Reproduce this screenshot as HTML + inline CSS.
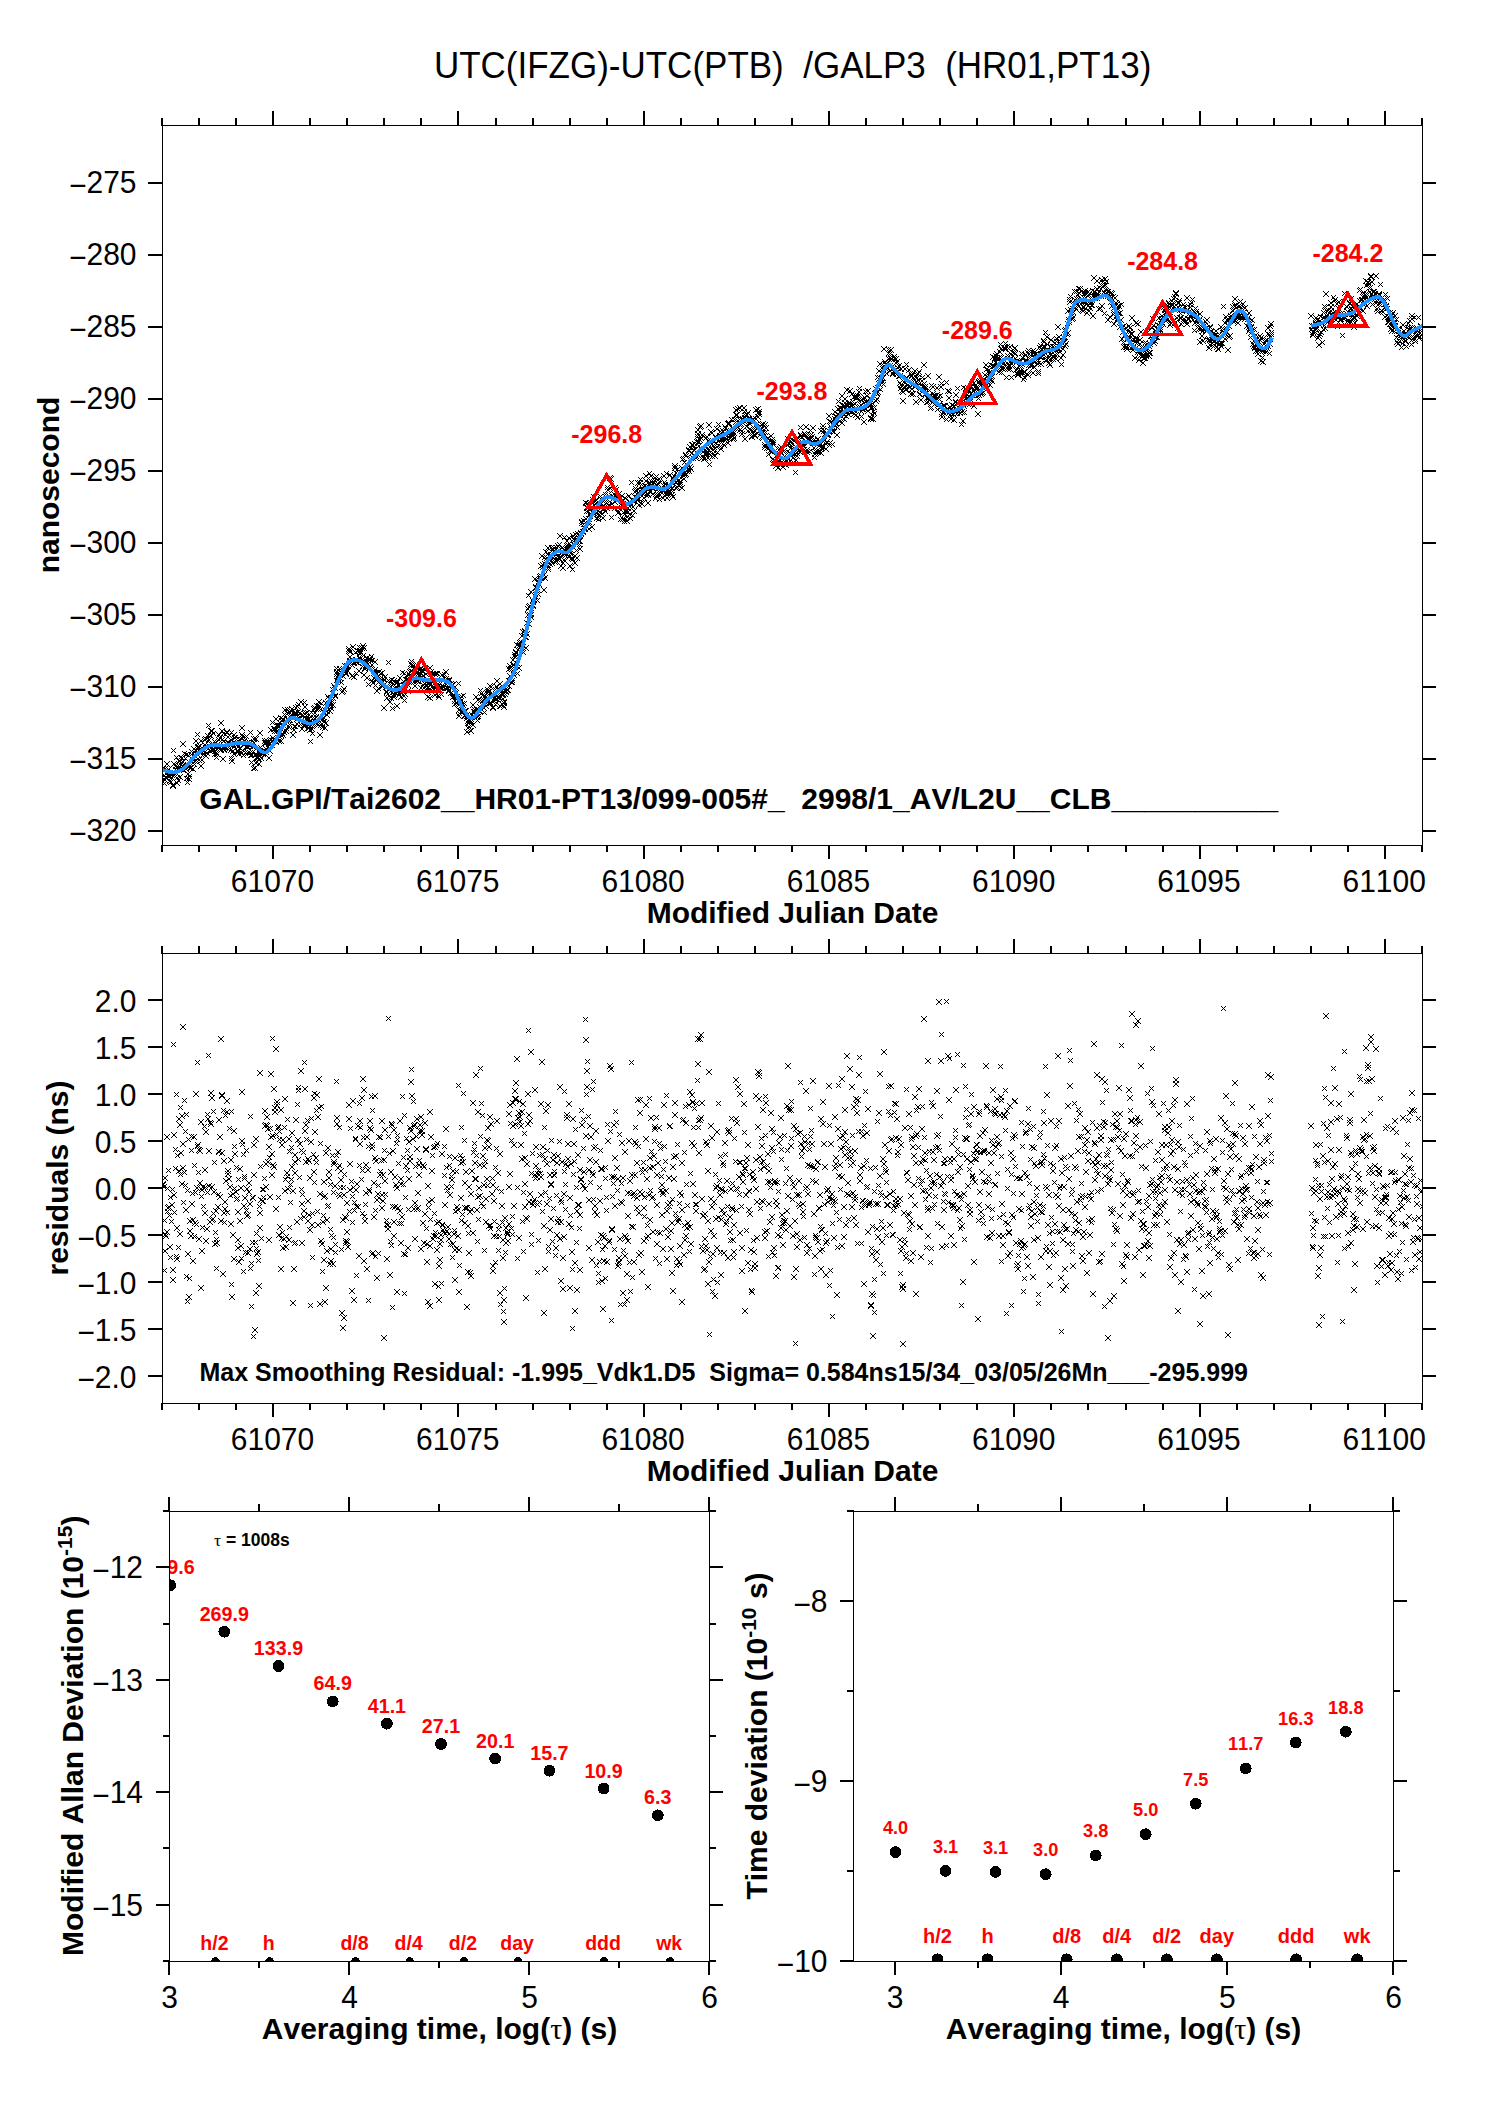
<!DOCTYPE html>
<html lang="en"><head><meta charset="utf-8"><title>UTC(IFZG)-UTC(PTB) /GALP3 (HR01,PT13)</title>
<style>html,body{margin:0;padding:0;background:#fff;overflow:hidden}svg{display:block}</style></head>
<body>
<svg width="1488" height="2105" viewBox="0 0 1488 2105" font-family="'Liberation Sans', Arial, Helvetica, sans-serif" fill="#000" style="font-kerning:none" font-kerning="none">
<defs>
<clipPath id="c1"><rect x="163" y="126" width="1259" height="719"/></clipPath>
<clipPath id="c2"><rect x="163" y="954" width="1259" height="449"/></clipPath>
<clipPath id="c3"><rect x="170" y="1512" width="539" height="449"/></clipPath>
<clipPath id="c4"><rect x="854" y="1512" width="539" height="449"/></clipPath>
</defs>
<rect width="1488" height="2105" fill="#fff"/>
<text transform="translate(792.6,77.8) scale(1,1.035)" font-size="35" text-anchor="middle" xml:space="preserve" style="white-space:pre">UTC(IFZG)-UTC(PTB)  /GALP3  (HR01,PT13)</text>
<path clip-path="url(#c1)" d="M160 766l6 6m-6 0l6-6M160 766l6 6m-6 0l6-6M161 767l6 6m-6 0l6-6M162 773l5 5m-5 0l5-5M162 781l5 5m-5 0l5-5M162 777l6 6m-6 0l6-6M162 766l6 6m-6 0l6-6M163 775l5 5m-5 0l5-5M163 775l6 6m-6 0l6-6M164 775l6 6m-6 0l6-6M165 769l5 5m-5 0l5-5M164 761l6 6m-6 0l6-6M165 773l5 5m-5 0l5-5M165 772l6 6m-6 0l6-6M166 767l5 5m-5 0l5-5M166 772l6 6m-6 0l6-6M167 774l5 5m-5 0l5-5M168 771l5 5m-5 0l5-5M167 778l6 6m-6 0l6-6M168 780l5 5m-5 0l5-5M169 775l5 5m-5 0l5-5M169 772l6 6m-6 0l6-6M170 770l5 5m-5 0l5-5M170 783l6 6m-6 0l6-6M170 782l6 6m-6 0l6-6M171 770l6 6m-6 0l6-6M171 748l5 5m-5 0l5-5M171 761l6 6m-6 0l6-6M172 773l5 5m-5 0l5-5M173 764l5 5m-5 0l5-5M173 767l5 5m-5 0l5-5M174 780l5 5m-5 0l5-5M174 780l6 6m-6 0l6-6M174 755l5 5m-5 0l5-5M174 775l6 6m-6 0l6-6M175 764l5 5m-5 0l5-5M176 778l5 5m-5 0l5-5M176 758l6 6m-6 0l6-6M176 765l6 6m-6 0l6-6M177 758l6 6m-6 0l6-6M178 766l5 5m-5 0l5-5M177 774l6 6m-6 0l6-6M178 755l5 5m-5 0l5-5M178 762l6 6m-6 0l6-6M179 766l6 6m-6 0l6-6M179 755l6 6m-6 0l6-6M180 741l6 6m-6 0l6-6M180 763l6 6m-6 0l6-6M180 759l6 6m-6 0l6-6M181 768l5 5m-5 0l5-5M182 763l5 5m-5 0l5-5M182 751l5 5m-5 0l5-5M183 756l5 5m-5 0l5-5M183 764l5 5m-5 0l5-5M184 752l5 5m-5 0l5-5M183 766l6 6m-6 0l6-6M184 776l5 5m-5 0l5-5M185 780l5 5m-5 0l5-5M185 762l5 5m-5 0l5-5M185 771l6 6m-6 0l6-6M186 753l5 5m-5 0l5-5M186 776l6 6m-6 0l6-6M187 774l5 5m-5 0l5-5M187 765l6 6m-6 0l6-6M187 763l6 6m-6 0l6-6M188 765l6 6m-6 0l6-6M189 752l5 5m-5 0l5-5M189 749l5 5m-5 0l5-5M189 759l6 6m-6 0l6-6M190 757l5 5m-5 0l5-5M190 766l6 6m-6 0l6-6M190 760l6 6m-6 0l6-6M191 746l6 6m-6 0l6-6M192 762l5 5m-5 0l5-5M192 750l5 5m-5 0l5-5M192 758l6 6m-6 0l6-6M193 754l5 5m-5 0l5-5M193 738l6 6m-6 0l6-6M194 758l5 5m-5 0l5-5M194 751l6 6m-6 0l6-6M195 745l5 5m-5 0l5-5M195 732l5 5m-5 0l5-5M195 744l6 6m-6 0l6-6M196 748l5 5m-5 0l5-5M196 744l6 6m-6 0l6-6M196 757l6 6m-6 0l6-6M197 743l6 6m-6 0l6-6M197 748l6 6m-6 0l6-6M198 738l6 6m-6 0l6-6M198 763l6 6m-6 0l6-6M199 749l5 5m-5 0l5-5M199 757l6 6m-6 0l6-6M199 747l6 6m-6 0l6-6M200 753l5 5m-5 0l5-5M200 746l6 6m-6 0l6-6M201 749l5 5m-5 0l5-5M202 737l5 5m-5 0l5-5M202 749l6 6m-6 0l6-6M202 742l6 6m-6 0l6-6M203 753l6 6m-6 0l6-6M203 745l5 5m-5 0l5-5M203 736l6 6m-6 0l6-6M204 750l6 6m-6 0l6-6M205 733l5 5m-5 0l5-5M205 745l5 5m-5 0l5-5M205 733l6 6m-6 0l6-6M206 737l6 6m-6 0l6-6M206 723l5 5m-5 0l5-5M206 743l6 6m-6 0l6-6M207 748l6 6m-6 0l6-6M208 733l5 5m-5 0l5-5M208 733l6 6m-6 0l6-6M208 728l6 6m-6 0l6-6M209 742l6 6m-6 0l6-6M209 728l6 6m-6 0l6-6M209 747l6 6m-6 0l6-6M210 747l6 6m-6 0l6-6M211 731l5 5m-5 0l5-5M211 746l5 5m-5 0l5-5M211 742l6 6m-6 0l6-6M212 739l5 5m-5 0l5-5M212 751l6 6m-6 0l6-6M213 749l5 5m-5 0l5-5M213 745l6 6m-6 0l6-6M214 755l5 5m-5 0l5-5M214 750l5 5m-5 0l5-5M214 751l6 6m-6 0l6-6M215 745l6 6m-6 0l6-6M216 737l5 5m-5 0l5-5M216 744l5 5m-5 0l5-5M216 737l6 6m-6 0l6-6M216 732l6 6m-6 0l6-6M217 735l6 6m-6 0l6-6M217 744l6 6m-6 0l6-6M218 747l6 6m-6 0l6-6M218 720l6 6m-6 0l6-6M219 737l6 6m-6 0l6-6M219 728l6 6m-6 0l6-6M219 728l6 6m-6 0l6-6M220 756l6 6m-6 0l6-6M221 731l5 5m-5 0l5-5M221 738l6 6m-6 0l6-6M221 746l6 6m-6 0l6-6M222 748l5 5m-5 0l5-5M222 744l6 6m-6 0l6-6M222 745l6 6m-6 0l6-6M223 732l5 5m-5 0l5-5M223 741l6 6m-6 0l6-6M224 729l6 6m-6 0l6-6M224 730l6 6m-6 0l6-6M225 746l5 5m-5 0l5-5M225 740l6 6m-6 0l6-6M225 739l6 6m-6 0l6-6M226 740l6 6m-6 0l6-6M227 733l5 5m-5 0l5-5M227 741l6 6m-6 0l6-6M228 743l5 5m-5 0l5-5M228 737l6 6m-6 0l6-6M228 747l6 6m-6 0l6-6M229 730l5 5m-5 0l5-5M229 756l5 5m-5 0l5-5M229 758l6 6m-6 0l6-6M230 742l6 6m-6 0l6-6M230 748l6 6m-6 0l6-6M231 732l6 6m-6 0l6-6M231 751l6 6m-6 0l6-6M232 741l5 5m-5 0l5-5M232 735l5 5m-5 0l5-5M232 735l6 6m-6 0l6-6M233 741l6 6m-6 0l6-6M234 743l5 5m-5 0l5-5M234 737l5 5m-5 0l5-5M235 742l5 5m-5 0l5-5M235 748l6 6m-6 0l6-6M235 749l6 6m-6 0l6-6M235 744l6 6m-6 0l6-6M236 739l5 5m-5 0l5-5M236 751l6 6m-6 0l6-6M237 737l6 6m-6 0l6-6M237 745l6 6m-6 0l6-6M238 749l6 6m-6 0l6-6M238 740l6 6m-6 0l6-6M239 751l5 5m-5 0l5-5M239 732l6 6m-6 0l6-6M239 725l6 6m-6 0l6-6M240 734l5 5m-5 0l5-5M241 753l5 5m-5 0l5-5M241 735l5 5m-5 0l5-5M241 742l6 6m-6 0l6-6M242 738l5 5m-5 0l5-5M242 739l5 5m-5 0l5-5M242 741l6 6m-6 0l6-6M243 750l5 5m-5 0l5-5M244 734l5 5m-5 0l5-5M244 744l5 5m-5 0l5-5M244 744l6 6m-6 0l6-6M244 740l6 6m-6 0l6-6M245 744l6 6m-6 0l6-6M245 750l6 6m-6 0l6-6M246 741l6 6m-6 0l6-6M246 739l6 6m-6 0l6-6M247 750l6 6m-6 0l6-6M248 753l5 5m-5 0l5-5M247 743l6 6m-6 0l6-6M248 730l5 5m-5 0l5-5M249 760l5 5m-5 0l5-5M249 753l5 5m-5 0l5-5M250 750l5 5m-5 0l5-5M250 744l5 5m-5 0l5-5M250 744l6 6m-6 0l6-6M251 740l6 6m-6 0l6-6M251 766l5 5m-5 0l5-5M251 736l6 6m-6 0l6-6M252 765l6 6m-6 0l6-6M253 752l5 5m-5 0l5-5M253 736l6 6m-6 0l6-6M253 760l6 6m-6 0l6-6M254 752l5 5m-5 0l5-5M254 755l5 5m-5 0l5-5M254 755l6 6m-6 0l6-6M255 755l6 6m-6 0l6-6M256 757l5 5m-5 0l5-5M256 761l6 6m-6 0l6-6M257 750l5 5m-5 0l5-5M257 753l6 6m-6 0l6-6M257 751l6 6m-6 0l6-6M257 730l6 6m-6 0l6-6M258 745l5 5m-5 0l5-5M258 750l6 6m-6 0l6-6M259 756l5 5m-5 0l5-5M260 749l5 5m-5 0l5-5M260 751l5 5m-5 0l5-5M261 751l5 5m-5 0l5-5M260 751l6 6m-6 0l6-6M261 750l5 5m-5 0l5-5M262 748l5 5m-5 0l5-5M262 740l6 6m-6 0l6-6M262 738l6 6m-6 0l6-6M263 749l6 6m-6 0l6-6M263 746l6 6m-6 0l6-6M263 740l6 6m-6 0l6-6M264 738l6 6m-6 0l6-6M265 740l5 5m-5 0l5-5M265 739l6 6m-6 0l6-6M265 744l6 6m-6 0l6-6M266 741l6 6m-6 0l6-6M266 755l6 6m-6 0l6-6M267 748l6 6m-6 0l6-6M267 742l5 5m-5 0l5-5M268 737l5 5m-5 0l5-5M268 737l6 6m-6 0l6-6M268 727l6 6m-6 0l6-6M269 742l6 6m-6 0l6-6M269 738l6 6m-6 0l6-6M270 735l6 6m-6 0l6-6M270 720l5 5m-5 0l5-5M270 738l6 6m-6 0l6-6M271 726l6 6m-6 0l6-6M271 737l6 6m-6 0l6-6M272 728l6 6m-6 0l6-6M272 726l6 6m-6 0l6-6M273 716l6 6m-6 0l6-6M274 729l5 5m-5 0l5-5M273 739l6 6m-6 0l6-6M274 722l6 6m-6 0l6-6M274 722l6 6m-6 0l6-6M275 724l6 6m-6 0l6-6M276 723l5 5m-5 0l5-5M276 733l5 5m-5 0l5-5M276 738l6 6m-6 0l6-6M277 723l5 5m-5 0l5-5M277 720l5 5m-5 0l5-5M277 734l6 6m-6 0l6-6M278 715l6 6m-6 0l6-6M278 738l6 6m-6 0l6-6M279 733l5 5m-5 0l5-5M279 718l6 6m-6 0l6-6M280 731l5 5m-5 0l5-5M280 716l6 6m-6 0l6-6M280 732l6 6m-6 0l6-6M281 729l6 6m-6 0l6-6M282 712l5 5m-5 0l5-5M282 707l6 6m-6 0l6-6M282 720l6 6m-6 0l6-6M283 728l6 6m-6 0l6-6M283 718l5 5m-5 0l5-5M284 726l5 5m-5 0l5-5M284 716l6 6m-6 0l6-6M285 707l5 5m-5 0l5-5M285 716l5 5m-5 0l5-5M285 717l6 6m-6 0l6-6M286 709l6 6m-6 0l6-6M286 724l6 6m-6 0l6-6M287 722l5 5m-5 0l5-5M287 710l5 5m-5 0l5-5M288 715l5 5m-5 0l5-5M288 718l5 5m-5 0l5-5M289 709l5 5m-5 0l5-5M289 714l5 5m-5 0l5-5M289 712l6 6m-6 0l6-6M289 706l6 6m-6 0l6-6M290 732l6 6m-6 0l6-6M290 715l6 6m-6 0l6-6M291 727l6 6m-6 0l6-6M292 724l5 5m-5 0l5-5M292 713l6 6m-6 0l6-6M292 710l6 6m-6 0l6-6M292 711l6 6m-6 0l6-6M293 724l5 5m-5 0l5-5M293 705l6 6m-6 0l6-6M294 721l6 6m-6 0l6-6M295 704l5 5m-5 0l5-5M295 709l6 6m-6 0l6-6M296 713l5 5m-5 0l5-5M296 702l5 5m-5 0l5-5M296 702l5 5m-5 0l5-5M297 716l5 5m-5 0l5-5M297 710l6 6m-6 0l6-6M298 722l5 5m-5 0l5-5M298 699l6 6m-6 0l6-6M299 718l5 5m-5 0l5-5M299 726l6 6m-6 0l6-6M299 713l5 5m-5 0l5-5M299 720l6 6m-6 0l6-6M300 720l5 5m-5 0l5-5M301 713l5 5m-5 0l5-5M301 722l6 6m-6 0l6-6M301 723l6 6m-6 0l6-6M302 704l6 6m-6 0l6-6M302 700l5 5m-5 0l5-5M302 711l6 6m-6 0l6-6M303 716l6 6m-6 0l6-6M303 710l6 6m-6 0l6-6M304 713l5 5m-5 0l5-5M305 710l5 5m-5 0l5-5M305 722l6 6m-6 0l6-6M305 716l6 6m-6 0l6-6M305 725l6 6m-6 0l6-6M306 716l6 6m-6 0l6-6M306 725l6 6m-6 0l6-6M307 727l6 6m-6 0l6-6M307 719l6 6m-6 0l6-6M308 739l5 5m-5 0l5-5M308 714l6 6m-6 0l6-6M309 710l5 5m-5 0l5-5M309 726l6 6m-6 0l6-6M310 731l5 5m-5 0l5-5M310 724l5 5m-5 0l5-5M311 715l5 5m-5 0l5-5M311 706l6 6m-6 0l6-6M311 717l6 6m-6 0l6-6M312 705l5 5m-5 0l5-5M312 719l5 5m-5 0l5-5M312 710l6 6m-6 0l6-6M313 714l6 6m-6 0l6-6M314 707l5 5m-5 0l5-5M314 715l5 5m-5 0l5-5M314 703l6 6m-6 0l6-6M315 706l6 6m-6 0l6-6M315 721l5 5m-5 0l5-5M315 722l6 6m-6 0l6-6M316 699l6 6m-6 0l6-6M316 703l6 6m-6 0l6-6M317 716l6 6m-6 0l6-6M317 732l6 6m-6 0l6-6M318 722l6 6m-6 0l6-6M318 707l5 5m-5 0l5-5M319 701l5 5m-5 0l5-5M319 721l6 6m-6 0l6-6M320 725l5 5m-5 0l5-5M320 716l6 6m-6 0l6-6M321 715l5 5m-5 0l5-5M321 709l6 6m-6 0l6-6M321 710l6 6m-6 0l6-6M321 719l6 6m-6 0l6-6M322 725l6 6m-6 0l6-6M322 707l6 6m-6 0l6-6M323 700l6 6m-6 0l6-6M323 720l6 6m-6 0l6-6M324 708l6 6m-6 0l6-6M324 712l6 6m-6 0l6-6M325 705l5 5m-5 0l5-5M325 694l6 6m-6 0l6-6M326 703l5 5m-5 0l5-5M326 696l6 6m-6 0l6-6M326 696l6 6m-6 0l6-6M327 708l6 6m-6 0l6-6M328 703l5 5m-5 0l5-5M328 695l5 5m-5 0l5-5M328 705l6 6m-6 0l6-6M328 702l6 6m-6 0l6-6M329 700l5 5m-5 0l5-5M330 687l5 5m-5 0l5-5M330 702l6 6m-6 0l6-6M331 690l5 5m-5 0l5-5M331 696l5 5m-5 0l5-5M331 683l6 6m-6 0l6-6M331 683l6 6m-6 0l6-6M332 685l6 6m-6 0l6-6M333 693l5 5m-5 0l5-5M333 694l5 5m-5 0l5-5M334 678l5 5m-5 0l5-5M334 666l5 5m-5 0l5-5M334 671l6 6m-6 0l6-6M334 669l6 6m-6 0l6-6M335 673l6 6m-6 0l6-6M335 675l6 6m-6 0l6-6M336 678l5 5m-5 0l5-5M337 673l5 5m-5 0l5-5M337 666l5 5m-5 0l5-5M337 675l6 6m-6 0l6-6M338 673l5 5m-5 0l5-5M338 669l6 6m-6 0l6-6M338 670l6 6m-6 0l6-6M339 680l5 5m-5 0l5-5M339 689l6 6m-6 0l6-6M340 673l6 6m-6 0l6-6M341 668l5 5m-5 0l5-5M340 688l6 6m-6 0l6-6M341 686l6 6m-6 0l6-6M341 666l6 6m-6 0l6-6M342 663l5 5m-5 0l5-5M342 668l6 6m-6 0l6-6M343 671l6 6m-6 0l6-6M343 670l6 6m-6 0l6-6M343 666l6 6m-6 0l6-6M344 667l6 6m-6 0l6-6M344 663l6 6m-6 0l6-6M345 668l5 5m-5 0l5-5M345 668l6 6m-6 0l6-6M346 648l6 6m-6 0l6-6M346 646l6 6m-6 0l6-6M347 654l6 6m-6 0l6-6M347 662l5 5m-5 0l5-5M347 658l6 6m-6 0l6-6M348 649l5 5m-5 0l5-5M349 657l5 5m-5 0l5-5M349 673l6 6m-6 0l6-6M350 659l5 5m-5 0l5-5M350 644l6 6m-6 0l6-6M350 663l5 5m-5 0l5-5M351 658l5 5m-5 0l5-5M351 674l6 6m-6 0l6-6M352 661l5 5m-5 0l5-5M352 660l5 5m-5 0l5-5M353 650l5 5m-5 0l5-5M353 657l6 6m-6 0l6-6M353 650l5 5m-5 0l5-5M354 660l5 5m-5 0l5-5M354 671l5 5m-5 0l5-5M354 657l6 6m-6 0l6-6M355 660l6 6m-6 0l6-6M355 648l6 6m-6 0l6-6M356 668l6 6m-6 0l6-6M357 645l5 5m-5 0l5-5M357 655l5 5m-5 0l5-5M357 651l6 6m-6 0l6-6M357 648l6 6m-6 0l6-6M358 650l5 5m-5 0l5-5M359 658l5 5m-5 0l5-5M359 645l6 6m-6 0l6-6M360 657l5 5m-5 0l5-5M360 664l5 5m-5 0l5-5M360 643l6 6m-6 0l6-6M361 653l5 5m-5 0l5-5M361 645l6 6m-6 0l6-6M361 672l6 6m-6 0l6-6M362 666l5 5m-5 0l5-5M362 666l6 6m-6 0l6-6M363 658l6 6m-6 0l6-6M363 665l5 5m-5 0l5-5M363 663l6 6m-6 0l6-6M364 675l6 6m-6 0l6-6M364 655l6 6m-6 0l6-6M365 661l6 6m-6 0l6-6M366 682l5 5m-5 0l5-5M366 659l5 5m-5 0l5-5M366 665l6 6m-6 0l6-6M367 666l5 5m-5 0l5-5M367 657l6 6m-6 0l6-6M367 656l6 6m-6 0l6-6M368 658l6 6m-6 0l6-6M369 654l5 5m-5 0l5-5M369 678l6 6m-6 0l6-6M369 662l6 6m-6 0l6-6M369 662l6 6m-6 0l6-6M370 658l5 5m-5 0l5-5M370 680l6 6m-6 0l6-6M371 675l6 6m-6 0l6-6M371 670l6 6m-6 0l6-6M372 667l6 6m-6 0l6-6M373 683l5 5m-5 0l5-5M372 659l6 6m-6 0l6-6M373 677l5 5m-5 0l5-5M373 670l6 6m-6 0l6-6M374 688l6 6m-6 0l6-6M374 677l6 6m-6 0l6-6M375 676l6 6m-6 0l6-6M376 686l5 5m-5 0l5-5M376 676l5 5m-5 0l5-5M376 669l6 6m-6 0l6-6M376 679l6 6m-6 0l6-6M377 676l6 6m-6 0l6-6M378 676l5 5m-5 0l5-5M378 671l5 5m-5 0l5-5M379 675l5 5m-5 0l5-5M379 680l6 6m-6 0l6-6M379 683l6 6m-6 0l6-6M379 670l6 6m-6 0l6-6M380 683l6 6m-6 0l6-6M380 679l6 6m-6 0l6-6M381 677l6 6m-6 0l6-6M381 705l6 6m-6 0l6-6M382 681l6 6m-6 0l6-6M382 677l5 5m-5 0l5-5M382 674l6 6m-6 0l6-6M383 685l5 5m-5 0l5-5M384 689l5 5m-5 0l5-5M384 690l5 5m-5 0l5-5M384 695l6 6m-6 0l6-6M385 691l6 6m-6 0l6-6M385 691l6 6m-6 0l6-6M386 660l5 5m-5 0l5-5M386 678l5 5m-5 0l5-5M387 681l5 5m-5 0l5-5M387 699l6 6m-6 0l6-6M388 695l5 5m-5 0l5-5M388 684l6 6m-6 0l6-6M389 696l5 5m-5 0l5-5M389 677l5 5m-5 0l5-5M389 677l6 6m-6 0l6-6M390 690l5 5m-5 0l5-5M390 706l5 5m-5 0l5-5M390 681l6 6m-6 0l6-6M391 694l6 6m-6 0l6-6M391 678l6 6m-6 0l6-6M391 692l6 6m-6 0l6-6M392 685l6 6m-6 0l6-6M392 690l6 6m-6 0l6-6M393 686l6 6m-6 0l6-6M394 680l5 5m-5 0l5-5M394 687l6 6m-6 0l6-6M394 703l6 6m-6 0l6-6M395 679l5 5m-5 0l5-5M395 680l5 5m-5 0l5-5M395 689l6 6m-6 0l6-6M396 683l5 5m-5 0l5-5M397 692l5 5m-5 0l5-5M397 689l6 6m-6 0l6-6M397 675l6 6m-6 0l6-6M398 694l6 6m-6 0l6-6M398 684l6 6m-6 0l6-6M398 684l6 6m-6 0l6-6M399 690l5 5m-5 0l5-5M399 688l6 6m-6 0l6-6M400 670l5 5m-5 0l5-5M401 679l5 5m-5 0l5-5M401 693l6 6m-6 0l6-6M401 682l5 5m-5 0l5-5M402 671l5 5m-5 0l5-5M402 698l5 5m-5 0l5-5M403 692l5 5m-5 0l5-5M403 683l5 5m-5 0l5-5M403 677l6 6m-6 0l6-6M404 673l5 5m-5 0l5-5M405 674l5 5m-5 0l5-5M405 677l5 5m-5 0l5-5M405 688l6 6m-6 0l6-6M406 683l5 5m-5 0l5-5M406 677l6 6m-6 0l6-6M406 671l6 6m-6 0l6-6M407 669l6 6m-6 0l6-6M407 673l6 6m-6 0l6-6M407 673l6 6m-6 0l6-6M408 668l6 6m-6 0l6-6M408 661l6 6m-6 0l6-6M409 659l5 5m-5 0l5-5M409 662l6 6m-6 0l6-6M410 669l6 6m-6 0l6-6M411 663l5 5m-5 0l5-5M411 679l6 6m-6 0l6-6M411 666l6 6m-6 0l6-6M412 666l5 5m-5 0l5-5M412 683l6 6m-6 0l6-6M412 678l6 6m-6 0l6-6M413 672l5 5m-5 0l5-5M414 668l5 5m-5 0l5-5M414 669l6 6m-6 0l6-6M414 678l6 6m-6 0l6-6M414 665l6 6m-6 0l6-6M415 676l6 6m-6 0l6-6M415 678l6 6m-6 0l6-6M416 673l6 6m-6 0l6-6M416 672l6 6m-6 0l6-6M417 672l5 5m-5 0l5-5M417 667l6 6m-6 0l6-6M417 666l6 6m-6 0l6-6M418 685l6 6m-6 0l6-6M418 665l6 6m-6 0l6-6M419 667l6 6m-6 0l6-6M419 668l6 6m-6 0l6-6M420 673l6 6m-6 0l6-6M420 682l6 6m-6 0l6-6M420 682l6 6m-6 0l6-6M421 673l6 6m-6 0l6-6M421 685l6 6m-6 0l6-6M422 681l6 6m-6 0l6-6M422 667l6 6m-6 0l6-6M423 671l6 6m-6 0l6-6M423 671l6 6m-6 0l6-6M424 684l5 5m-5 0l5-5M424 688l6 6m-6 0l6-6M424 686l6 6m-6 0l6-6M425 677l6 6m-6 0l6-6M425 694l6 6m-6 0l6-6M426 681l5 5m-5 0l5-5M426 679l6 6m-6 0l6-6M427 695l6 6m-6 0l6-6M427 665l6 6m-6 0l6-6M427 686l6 6m-6 0l6-6M428 682l5 5m-5 0l5-5M428 669l6 6m-6 0l6-6M429 674l6 6m-6 0l6-6M429 679l6 6m-6 0l6-6M430 672l5 5m-5 0l5-5M430 685l6 6m-6 0l6-6M431 671l5 5m-5 0l5-5M431 684l6 6m-6 0l6-6M432 681l5 5m-5 0l5-5M432 692l6 6m-6 0l6-6M432 671l6 6m-6 0l6-6M433 684l6 6m-6 0l6-6M433 684l5 5m-5 0l5-5M434 671l5 5m-5 0l5-5M434 682l6 6m-6 0l6-6M434 686l6 6m-6 0l6-6M435 671l5 5m-5 0l5-5M436 693l5 5m-5 0l5-5M436 689l6 6m-6 0l6-6M436 694l6 6m-6 0l6-6M436 682l6 6m-6 0l6-6M437 685l6 6m-6 0l6-6M437 688l6 6m-6 0l6-6M438 685l6 6m-6 0l6-6M438 684l6 6m-6 0l6-6M439 692l5 5m-5 0l5-5M440 683l5 5m-5 0l5-5M439 672l6 6m-6 0l6-6M440 683l5 5m-5 0l5-5M440 684l6 6m-6 0l6-6M441 685l5 5m-5 0l5-5M442 676l5 5m-5 0l5-5M442 672l5 5m-5 0l5-5M442 680l6 6m-6 0l6-6M443 669l6 6m-6 0l6-6M443 686l5 5m-5 0l5-5M444 676l5 5m-5 0l5-5M444 678l6 6m-6 0l6-6M444 685l6 6m-6 0l6-6M445 680l5 5m-5 0l5-5M445 685l6 6m-6 0l6-6M446 687l6 6m-6 0l6-6M446 688l6 6m-6 0l6-6M447 678l5 5m-5 0l5-5M447 677l5 5m-5 0l5-5M447 682l6 6m-6 0l6-6M448 691l5 5m-5 0l5-5M449 681l5 5m-5 0l5-5M449 683l5 5m-5 0l5-5M449 682l6 6m-6 0l6-6M450 695l5 5m-5 0l5-5M450 682l6 6m-6 0l6-6M450 694l6 6m-6 0l6-6M451 693l6 6m-6 0l6-6M452 693l5 5m-5 0l5-5M452 701l6 6m-6 0l6-6M452 698l6 6m-6 0l6-6M452 684l6 6m-6 0l6-6M453 694l5 5m-5 0l5-5M454 701l5 5m-5 0l5-5M454 690l5 5m-5 0l5-5M454 696l6 6m-6 0l6-6M455 701l6 6m-6 0l6-6M455 698l6 6m-6 0l6-6M456 681l5 5m-5 0l5-5M456 713l6 6m-6 0l6-6M456 707l6 6m-6 0l6-6M457 711l5 5m-5 0l5-5M458 696l5 5m-5 0l5-5M458 703l6 6m-6 0l6-6M458 698l6 6m-6 0l6-6M459 694l5 5m-5 0l5-5M459 709l5 5m-5 0l5-5M460 709l5 5m-5 0l5-5M460 701l5 5m-5 0l5-5M460 702l6 6m-6 0l6-6M461 693l5 5m-5 0l5-5M462 701l5 5m-5 0l5-5M462 713l6 6m-6 0l6-6M462 708l6 6m-6 0l6-6M462 712l6 6m-6 0l6-6M463 708l6 6m-6 0l6-6M464 714l5 5m-5 0l5-5M464 729l6 6m-6 0l6-6M464 715l6 6m-6 0l6-6M465 725l6 6m-6 0l6-6M465 718l6 6m-6 0l6-6M466 721l5 5m-5 0l5-5M466 713l6 6m-6 0l6-6M466 724l6 6m-6 0l6-6M467 718l6 6m-6 0l6-6M468 728l5 5m-5 0l5-5M468 716l6 6m-6 0l6-6M468 728l6 6m-6 0l6-6M468 716l6 6m-6 0l6-6M469 719l5 5m-5 0l5-5M469 712l6 6m-6 0l6-6M470 702l6 6m-6 0l6-6M470 722l6 6m-6 0l6-6M471 709l5 5m-5 0l5-5M472 709l5 5m-5 0l5-5M472 707l5 5m-5 0l5-5M472 709l6 6m-6 0l6-6M472 711l6 6m-6 0l6-6M473 711l6 6m-6 0l6-6M473 694l6 6m-6 0l6-6M474 707l5 5m-5 0l5-5M474 714l6 6m-6 0l6-6M475 711l6 6m-6 0l6-6M475 718l5 5m-5 0l5-5M475 697l6 6m-6 0l6-6M476 714l5 5m-5 0l5-5M476 708l6 6m-6 0l6-6M477 704l6 6m-6 0l6-6M477 708l6 6m-6 0l6-6M478 688l5 5m-5 0l5-5M478 698l5 5m-5 0l5-5M479 707l5 5m-5 0l5-5M479 691l5 5m-5 0l5-5M480 693l5 5m-5 0l5-5M480 698l6 6m-6 0l6-6M481 705l5 5m-5 0l5-5M481 701l6 6m-6 0l6-6M481 697l6 6m-6 0l6-6M482 710l5 5m-5 0l5-5M482 693l6 6m-6 0l6-6M483 695l5 5m-5 0l5-5M483 700l6 6m-6 0l6-6M483 703l6 6m-6 0l6-6M484 690l6 6m-6 0l6-6M485 697l5 5m-5 0l5-5M484 695l6 6m-6 0l6-6M485 689l6 6m-6 0l6-6M485 687l6 6m-6 0l6-6M486 701l6 6m-6 0l6-6M486 689l6 6m-6 0l6-6M487 701l5 5m-5 0l5-5M487 683l6 6m-6 0l6-6M488 701l5 5m-5 0l5-5M488 700l5 5m-5 0l5-5M488 684l6 6m-6 0l6-6M489 694l6 6m-6 0l6-6M490 692l5 5m-5 0l5-5M490 705l6 6m-6 0l6-6M490 704l6 6m-6 0l6-6M490 691l6 6m-6 0l6-6M491 693l6 6m-6 0l6-6M491 698l6 6m-6 0l6-6M492 696l5 5m-5 0l5-5M493 702l5 5m-5 0l5-5M493 687l5 5m-5 0l5-5M494 690l5 5m-5 0l5-5M494 684l5 5m-5 0l5-5M494 697l5 5m-5 0l5-5M494 678l6 6m-6 0l6-6M495 686l6 6m-6 0l6-6M496 695l5 5m-5 0l5-5M496 698l5 5m-5 0l5-5M497 695l5 5m-5 0l5-5M497 703l6 6m-6 0l6-6M497 693l5 5m-5 0l5-5M497 681l6 6m-6 0l6-6M498 704l5 5m-5 0l5-5M499 687l5 5m-5 0l5-5M499 688l6 6m-6 0l6-6M500 691l5 5m-5 0l5-5M500 696l6 6m-6 0l6-6M500 692l6 6m-6 0l6-6M501 703l5 5m-5 0l5-5M501 704l6 6m-6 0l6-6M501 700l6 6m-6 0l6-6M502 699l5 5m-5 0l5-5M502 687l6 6m-6 0l6-6M503 692l5 5m-5 0l5-5M503 688l6 6m-6 0l6-6M503 689l6 6m-6 0l6-6M504 687l6 6m-6 0l6-6M505 687l5 5m-5 0l5-5M505 687l5 5m-5 0l5-5M505 687l6 6m-6 0l6-6M506 678l6 6m-6 0l6-6M506 683l6 6m-6 0l6-6M506 666l6 6m-6 0l6-6M507 663l6 6m-6 0l6-6M507 673l6 6m-6 0l6-6M508 666l5 5m-5 0l5-5M509 667l5 5m-5 0l5-5M509 680l5 5m-5 0l5-5M510 678l5 5m-5 0l5-5M510 680l5 5m-5 0l5-5M510 662l6 6m-6 0l6-6M510 657l6 6m-6 0l6-6M511 672l6 6m-6 0l6-6M511 662l6 6m-6 0l6-6M512 654l6 6m-6 0l6-6M512 652l6 6m-6 0l6-6M513 649l6 6m-6 0l6-6M513 655l5 5m-5 0l5-5M513 650l6 6m-6 0l6-6M514 642l6 6m-6 0l6-6M515 661l5 5m-5 0l5-5M515 671l5 5m-5 0l5-5M515 647l6 6m-6 0l6-6M516 665l6 6m-6 0l6-6M517 643l5 5m-5 0l5-5M516 643l6 6m-6 0l6-6M517 642l6 6m-6 0l6-6M517 640l6 6m-6 0l6-6M518 643l6 6m-6 0l6-6M518 639l6 6m-6 0l6-6M519 642l6 6m-6 0l6-6M519 633l6 6m-6 0l6-6M520 649l5 5m-5 0l5-5M520 629l6 6m-6 0l6-6M521 650l5 5m-5 0l5-5M521 640l5 5m-5 0l5-5M522 629l5 5m-5 0l5-5M522 634l6 6m-6 0l6-6M522 628l6 6m-6 0l6-6M522 634l6 6m-6 0l6-6M523 634l6 6m-6 0l6-6M523 645l6 6m-6 0l6-6M524 631l6 6m-6 0l6-6M524 620l6 6m-6 0l6-6M525 612l6 6m-6 0l6-6M525 606l6 6m-6 0l6-6M526 621l6 6m-6 0l6-6M526 593l5 5m-5 0l5-5M526 604l6 6m-6 0l6-6M527 603l6 6m-6 0l6-6M527 612l6 6m-6 0l6-6M528 589l6 6m-6 0l6-6M529 606l5 5m-5 0l5-5M529 615l5 5m-5 0l5-5M529 612l5 5m-5 0l5-5M530 598l5 5m-5 0l5-5M530 603l6 6m-6 0l6-6M530 602l6 6m-6 0l6-6M531 600l5 5m-5 0l5-5M532 598l5 5m-5 0l5-5M532 593l6 6m-6 0l6-6M533 592l5 5m-5 0l5-5M532 576l6 6m-6 0l6-6M533 584l6 6m-6 0l6-6M533 585l6 6m-6 0l6-6M534 586l6 6m-6 0l6-6M535 589l5 5m-5 0l5-5M535 598l5 5m-5 0l5-5M536 592l5 5m-5 0l5-5M535 580l6 6m-6 0l6-6M536 579l5 5m-5 0l5-5M537 582l5 5m-5 0l5-5M537 574l5 5m-5 0l5-5M538 576l5 5m-5 0l5-5M538 563l6 6m-6 0l6-6M538 573l6 6m-6 0l6-6M538 575l6 6m-6 0l6-6M539 553l6 6m-6 0l6-6M540 575l5 5m-5 0l5-5M540 565l5 5m-5 0l5-5M540 562l6 6m-6 0l6-6M541 587l6 6m-6 0l6-6M541 572l6 6m-6 0l6-6M542 561l6 6m-6 0l6-6M542 555l5 5m-5 0l5-5M542 575l6 6m-6 0l6-6M543 563l5 5m-5 0l5-5M543 549l6 6m-6 0l6-6M544 562l6 6m-6 0l6-6M544 555l6 6m-6 0l6-6M545 545l6 6m-6 0l6-6M545 552l5 5m-5 0l5-5M546 567l5 5m-5 0l5-5M546 565l5 5m-5 0l5-5M547 557l5 5m-5 0l5-5M547 553l6 6m-6 0l6-6M547 561l6 6m-6 0l6-6M548 553l6 6m-6 0l6-6M548 558l6 6m-6 0l6-6M548 552l6 6m-6 0l6-6M549 545l5 5m-5 0l5-5M550 561l5 5m-5 0l5-5M550 547l6 6m-6 0l6-6M551 555l5 5m-5 0l5-5M551 549l6 6m-6 0l6-6M551 545l6 6m-6 0l6-6M552 548l5 5m-5 0l5-5M552 548l5 5m-5 0l5-5M553 560l5 5m-5 0l5-5M553 558l6 6m-6 0l6-6M554 551l5 5m-5 0l5-5M554 556l6 6m-6 0l6-6M554 545l6 6m-6 0l6-6M555 554l5 5m-5 0l5-5M555 543l6 6m-6 0l6-6M555 553l6 6m-6 0l6-6M556 553l5 5m-5 0l5-5M557 542l5 5m-5 0l5-5M557 533l6 6m-6 0l6-6M557 556l6 6m-6 0l6-6M558 554l6 6m-6 0l6-6M558 550l6 6m-6 0l6-6M558 563l6 6m-6 0l6-6M559 551l5 5m-5 0l5-5M559 545l6 6m-6 0l6-6M560 560l6 6m-6 0l6-6M560 565l6 6m-6 0l6-6M561 550l6 6m-6 0l6-6M561 557l6 6m-6 0l6-6M562 547l5 5m-5 0l5-5M562 535l5 5m-5 0l5-5M563 549l5 5m-5 0l5-5M563 553l5 5m-5 0l5-5M563 546l6 6m-6 0l6-6M564 538l6 6m-6 0l6-6M565 546l5 5m-5 0l5-5M564 538l6 6m-6 0l6-6M565 544l6 6m-6 0l6-6M565 542l6 6m-6 0l6-6M566 554l6 6m-6 0l6-6M566 535l6 6m-6 0l6-6M567 549l6 6m-6 0l6-6M567 563l6 6m-6 0l6-6M568 551l5 5m-5 0l5-5M568 543l6 6m-6 0l6-6M569 552l5 5m-5 0l5-5M569 555l6 6m-6 0l6-6M570 567l5 5m-5 0l5-5M570 557l5 5m-5 0l5-5M571 542l5 5m-5 0l5-5M570 533l6 6m-6 0l6-6M571 536l6 6m-6 0l6-6M572 538l5 5m-5 0l5-5M572 553l6 6m-6 0l6-6M572 560l6 6m-6 0l6-6M573 532l5 5m-5 0l5-5M574 548l5 5m-5 0l5-5M574 555l6 6m-6 0l6-6M574 539l5 5m-5 0l5-5M574 541l6 6m-6 0l6-6M575 540l6 6m-6 0l6-6M575 531l6 6m-6 0l6-6M576 538l6 6m-6 0l6-6M577 542l5 5m-5 0l5-5M577 532l6 6m-6 0l6-6M577 538l6 6m-6 0l6-6M577 546l6 6m-6 0l6-6M578 531l6 6m-6 0l6-6M578 530l6 6m-6 0l6-6M579 519l5 5m-5 0l5-5M579 520l6 6m-6 0l6-6M580 529l6 6m-6 0l6-6M581 529l5 5m-5 0l5-5M581 518l5 5m-5 0l5-5M581 522l5 5m-5 0l5-5M581 524l6 6m-6 0l6-6M582 526l6 6m-6 0l6-6M583 500l5 5m-5 0l5-5M583 516l6 6m-6 0l6-6M584 509l5 5m-5 0l5-5M583 500l6 6m-6 0l6-6M584 504l6 6m-6 0l6-6M584 505l6 6m-6 0l6-6M585 501l5 5m-5 0l5-5M586 509l5 5m-5 0l5-5M586 516l6 6m-6 0l6-6M586 519l6 6m-6 0l6-6M586 526l6 6m-6 0l6-6M587 506l6 6m-6 0l6-6M587 511l6 6m-6 0l6-6M588 514l5 5m-5 0l5-5M588 506l6 6m-6 0l6-6M589 524l6 6m-6 0l6-6M590 510l5 5m-5 0l5-5M590 497l5 5m-5 0l5-5M590 508l6 6m-6 0l6-6M591 494l5 5m-5 0l5-5M591 511l5 5m-5 0l5-5M591 502l6 6m-6 0l6-6M592 511l6 6m-6 0l6-6M592 509l6 6m-6 0l6-6M593 497l6 6m-6 0l6-6M593 499l5 5m-5 0l5-5M593 501l6 6m-6 0l6-6M594 516l5 5m-5 0l5-5M594 507l6 6m-6 0l6-6M595 511l6 6m-6 0l6-6M596 517l5 5m-5 0l5-5M596 515l5 5m-5 0l5-5M597 501l5 5m-5 0l5-5M597 512l5 5m-5 0l5-5M597 502l6 6m-6 0l6-6M598 494l5 5m-5 0l5-5M598 496l6 6m-6 0l6-6M598 505l6 6m-6 0l6-6M599 495l6 6m-6 0l6-6M599 511l6 6m-6 0l6-6M600 507l5 5m-5 0l5-5M600 515l6 6m-6 0l6-6M600 503l6 6m-6 0l6-6M601 503l6 6m-6 0l6-6M601 506l6 6m-6 0l6-6M602 504l6 6m-6 0l6-6M603 494l5 5m-5 0l5-5M603 492l5 5m-5 0l5-5M603 509l5 5m-5 0l5-5M604 496l5 5m-5 0l5-5M604 498l5 5m-5 0l5-5M604 505l6 6m-6 0l6-6M605 485l5 5m-5 0l5-5M605 487l6 6m-6 0l6-6M606 502l6 6m-6 0l6-6M606 502l6 6m-6 0l6-6M607 503l5 5m-5 0l5-5M607 475l6 6m-6 0l6-6M608 486l5 5m-5 0l5-5M608 476l6 6m-6 0l6-6M609 515l5 5m-5 0l5-5M609 493l6 6m-6 0l6-6M609 501l6 6m-6 0l6-6M609 501l6 6m-6 0l6-6M610 497l5 5m-5 0l5-5M611 495l5 5m-5 0l5-5M611 494l6 6m-6 0l6-6M611 486l6 6m-6 0l6-6M612 506l5 5m-5 0l5-5M612 492l6 6m-6 0l6-6M612 499l6 6m-6 0l6-6M613 485l5 5m-5 0l5-5M614 487l5 5m-5 0l5-5M614 494l6 6m-6 0l6-6M615 498l5 5m-5 0l5-5M615 496l6 6m-6 0l6-6M616 510l5 5m-5 0l5-5M615 510l6 6m-6 0l6-6M616 509l6 6m-6 0l6-6M616 509l6 6m-6 0l6-6M617 491l5 5m-5 0l5-5M617 506l6 6m-6 0l6-6M618 517l5 5m-5 0l5-5M619 499l5 5m-5 0l5-5M618 501l6 6m-6 0l6-6M619 502l6 6m-6 0l6-6M619 493l6 6m-6 0l6-6M620 498l6 6m-6 0l6-6M620 516l6 6m-6 0l6-6M621 510l5 5m-5 0l5-5M622 519l5 5m-5 0l5-5M622 508l6 6m-6 0l6-6M622 495l6 6m-6 0l6-6M622 511l6 6m-6 0l6-6M623 508l6 6m-6 0l6-6M624 509l5 5m-5 0l5-5M624 514l6 6m-6 0l6-6M624 518l6 6m-6 0l6-6M625 505l6 6m-6 0l6-6M625 509l6 6m-6 0l6-6M625 501l6 6m-6 0l6-6M626 493l6 6m-6 0l6-6M627 512l5 5m-5 0l5-5M627 499l6 6m-6 0l6-6M628 501l5 5m-5 0l5-5M628 516l5 5m-5 0l5-5M629 506l5 5m-5 0l5-5M629 480l5 5m-5 0l5-5M629 497l6 6m-6 0l6-6M630 513l5 5m-5 0l5-5M630 504l6 6m-6 0l6-6M631 499l5 5m-5 0l5-5M631 508l6 6m-6 0l6-6M631 498l6 6m-6 0l6-6M632 498l5 5m-5 0l5-5M632 489l6 6m-6 0l6-6M632 494l6 6m-6 0l6-6M633 486l5 5m-5 0l5-5M633 488l6 6m-6 0l6-6M634 491l6 6m-6 0l6-6M634 497l6 6m-6 0l6-6M634 495l6 6m-6 0l6-6M635 480l6 6m-6 0l6-6M636 487l5 5m-5 0l5-5M636 496l6 6m-6 0l6-6M636 502l6 6m-6 0l6-6M637 480l6 6m-6 0l6-6M637 491l6 6m-6 0l6-6M638 500l6 6m-6 0l6-6M638 477l5 5m-5 0l5-5M639 487l5 5m-5 0l5-5M639 490l6 6m-6 0l6-6M639 501l6 6m-6 0l6-6M640 486l5 5m-5 0l5-5M641 484l5 5m-5 0l5-5M641 495l6 6m-6 0l6-6M641 490l6 6m-6 0l6-6M642 491l5 5m-5 0l5-5M642 488l5 5m-5 0l5-5M642 483l6 6m-6 0l6-6M643 473l6 6m-6 0l6-6M643 478l6 6m-6 0l6-6M644 484l6 6m-6 0l6-6M644 493l5 5m-5 0l5-5M645 491l5 5m-5 0l5-5M645 492l6 6m-6 0l6-6M645 500l6 6m-6 0l6-6M646 486l6 6m-6 0l6-6M647 471l5 5m-5 0l5-5M647 489l6 6m-6 0l6-6M647 481l6 6m-6 0l6-6M647 480l6 6m-6 0l6-6M648 485l5 5m-5 0l5-5M648 473l6 6m-6 0l6-6M649 479l5 5m-5 0l5-5M649 485l6 6m-6 0l6-6M650 485l6 6m-6 0l6-6M650 491l6 6m-6 0l6-6M650 481l6 6m-6 0l6-6M651 479l6 6m-6 0l6-6M652 478l5 5m-5 0l5-5M652 475l6 6m-6 0l6-6M652 475l6 6m-6 0l6-6M653 496l5 5m-5 0l5-5M654 474l5 5m-5 0l5-5M654 493l6 6m-6 0l6-6M654 483l6 6m-6 0l6-6M654 487l6 6m-6 0l6-6M655 492l5 5m-5 0l5-5M655 481l6 6m-6 0l6-6M656 476l6 6m-6 0l6-6M657 497l5 5m-5 0l5-5M657 492l6 6m-6 0l6-6M657 479l5 5m-5 0l5-5M658 487l5 5m-5 0l5-5M658 480l5 5m-5 0l5-5M659 485l5 5m-5 0l5-5M659 490l6 6m-6 0l6-6M659 485l6 6m-6 0l6-6M660 487l6 6m-6 0l6-6M660 495l6 6m-6 0l6-6M660 486l6 6m-6 0l6-6M661 483l5 5m-5 0l5-5M661 473l6 6m-6 0l6-6M662 480l5 5m-5 0l5-5M663 482l5 5m-5 0l5-5M663 486l6 6m-6 0l6-6M664 471l5 5m-5 0l5-5M663 491l6 6m-6 0l6-6M664 495l6 6m-6 0l6-6M664 488l6 6m-6 0l6-6M665 491l6 6m-6 0l6-6M665 486l6 6m-6 0l6-6M666 482l6 6m-6 0l6-6M667 486l5 5m-5 0l5-5M667 473l5 5m-5 0l5-5M667 472l6 6m-6 0l6-6M667 484l6 6m-6 0l6-6M668 487l6 6m-6 0l6-6M668 490l6 6m-6 0l6-6M669 485l6 6m-6 0l6-6M669 492l6 6m-6 0l6-6M670 481l5 5m-5 0l5-5M670 494l6 6m-6 0l6-6M670 475l6 6m-6 0l6-6M671 473l6 6m-6 0l6-6M671 476l6 6m-6 0l6-6M672 465l6 6m-6 0l6-6M672 463l6 6m-6 0l6-6M673 480l5 5m-5 0l5-5M673 470l6 6m-6 0l6-6M674 480l5 5m-5 0l5-5M674 486l5 5m-5 0l5-5M674 484l6 6m-6 0l6-6M675 467l5 5m-5 0l5-5M675 478l6 6m-6 0l6-6M676 477l6 6m-6 0l6-6M676 483l6 6m-6 0l6-6M677 474l5 5m-5 0l5-5M677 471l6 6m-6 0l6-6M677 479l6 6m-6 0l6-6M678 482l5 5m-5 0l5-5M679 471l5 5m-5 0l5-5M679 465l6 6m-6 0l6-6M679 485l6 6m-6 0l6-6M679 471l6 6m-6 0l6-6M680 457l5 5m-5 0l5-5M681 456l5 5m-5 0l5-5M681 476l6 6m-6 0l6-6M682 460l5 5m-5 0l5-5M682 471l5 5m-5 0l5-5M682 472l6 6m-6 0l6-6M683 452l5 5m-5 0l5-5M683 471l6 6m-6 0l6-6M683 453l6 6m-6 0l6-6M684 462l5 5m-5 0l5-5M684 468l6 6m-6 0l6-6M685 465l5 5m-5 0l5-5M685 466l6 6m-6 0l6-6M686 448l6 6m-6 0l6-6M686 447l6 6m-6 0l6-6M687 469l5 5m-5 0l5-5M687 444l6 6m-6 0l6-6M687 464l6 6m-6 0l6-6M688 456l5 5m-5 0l5-5M688 466l6 6m-6 0l6-6M689 450l6 6m-6 0l6-6M689 442l6 6m-6 0l6-6M690 443l5 5m-5 0l5-5M690 455l6 6m-6 0l6-6M690 442l6 6m-6 0l6-6M691 445l5 5m-5 0l5-5M691 447l6 6m-6 0l6-6M692 454l6 6m-6 0l6-6M692 441l5 5m-5 0l5-5M693 455l5 5m-5 0l5-5M693 455l6 6m-6 0l6-6M694 454l5 5m-5 0l5-5M694 439l5 5m-5 0l5-5M695 434l5 5m-5 0l5-5M695 431l6 6m-6 0l6-6M695 427l6 6m-6 0l6-6M696 439l5 5m-5 0l5-5M696 440l5 5m-5 0l5-5M696 443l6 6m-6 0l6-6M697 437l6 6m-6 0l6-6M697 424l6 6m-6 0l6-6M698 423l6 6m-6 0l6-6M699 456l5 5m-5 0l5-5M698 435l6 6m-6 0l6-6M699 447l6 6m-6 0l6-6M699 432l6 6m-6 0l6-6M700 454l6 6m-6 0l6-6M700 449l6 6m-6 0l6-6M701 449l5 5m-5 0l5-5M701 456l6 6m-6 0l6-6M702 447l6 6m-6 0l6-6M702 451l6 6m-6 0l6-6M702 455l6 6m-6 0l6-6M703 435l6 6m-6 0l6-6M703 451l6 6m-6 0l6-6M704 451l6 6m-6 0l6-6M704 434l6 6m-6 0l6-6M705 446l6 6m-6 0l6-6M705 438l6 6m-6 0l6-6M705 455l6 6m-6 0l6-6M706 422l6 6m-6 0l6-6M706 451l6 6m-6 0l6-6M707 462l5 5m-5 0l5-5M708 450l5 5m-5 0l5-5M708 429l6 6m-6 0l6-6M708 445l6 6m-6 0l6-6M708 440l6 6m-6 0l6-6M709 430l6 6m-6 0l6-6M709 441l6 6m-6 0l6-6M710 454l5 5m-5 0l5-5M710 447l6 6m-6 0l6-6M711 451l5 5m-5 0l5-5M711 439l6 6m-6 0l6-6M711 444l6 6m-6 0l6-6M712 453l6 6m-6 0l6-6M713 434l5 5m-5 0l5-5M713 440l6 6m-6 0l6-6M713 435l6 6m-6 0l6-6M714 444l6 6m-6 0l6-6M714 435l6 6m-6 0l6-6M714 426l6 6m-6 0l6-6M715 450l5 5m-5 0l5-5M716 439l5 5m-5 0l5-5M716 422l5 5m-5 0l5-5M717 433l5 5m-5 0l5-5M717 435l6 6m-6 0l6-6M718 429l5 5m-5 0l5-5M718 444l5 5m-5 0l5-5M718 433l6 6m-6 0l6-6M718 446l6 6m-6 0l6-6M719 438l5 5m-5 0l5-5M719 436l6 6m-6 0l6-6M720 433l5 5m-5 0l5-5M720 428l6 6m-6 0l6-6M721 429l5 5m-5 0l5-5M721 436l6 6m-6 0l6-6M721 442l6 6m-6 0l6-6M722 424l6 6m-6 0l6-6M723 432l5 5m-5 0l5-5M723 426l5 5m-5 0l5-5M723 436l6 6m-6 0l6-6M724 436l5 5m-5 0l5-5M724 429l6 6m-6 0l6-6M725 433l5 5m-5 0l5-5M725 440l6 6m-6 0l6-6M725 421l6 6m-6 0l6-6M726 421l6 6m-6 0l6-6M726 420l6 6m-6 0l6-6M727 435l6 6m-6 0l6-6M727 433l6 6m-6 0l6-6M728 436l5 5m-5 0l5-5M728 428l6 6m-6 0l6-6M729 417l5 5m-5 0l5-5M729 430l6 6m-6 0l6-6M730 426l5 5m-5 0l5-5M730 430l5 5m-5 0l5-5M731 437l5 5m-5 0l5-5M730 433l6 6m-6 0l6-6M731 435l6 6m-6 0l6-6M731 430l6 6m-6 0l6-6M732 417l5 5m-5 0l5-5M733 420l5 5m-5 0l5-5M733 407l6 6m-6 0l6-6M733 412l6 6m-6 0l6-6M734 423l5 5m-5 0l5-5M734 426l5 5m-5 0l5-5M734 412l6 6m-6 0l6-6M735 422l5 5m-5 0l5-5M735 406l6 6m-6 0l6-6M736 419l6 6m-6 0l6-6M737 417l5 5m-5 0l5-5M737 422l5 5m-5 0l5-5M737 427l6 6m-6 0l6-6M737 405l6 6m-6 0l6-6M738 416l5 5m-5 0l5-5M739 422l5 5m-5 0l5-5M739 428l6 6m-6 0l6-6M739 431l6 6m-6 0l6-6M740 417l6 6m-6 0l6-6M740 416l5 5m-5 0l5-5M740 416l6 6m-6 0l6-6M741 405l6 6m-6 0l6-6M742 409l5 5m-5 0l5-5M742 415l5 5m-5 0l5-5M742 436l6 6m-6 0l6-6M743 415l5 5m-5 0l5-5M743 418l6 6m-6 0l6-6M743 413l6 6m-6 0l6-6M744 424l5 5m-5 0l5-5M744 412l6 6m-6 0l6-6M745 428l6 6m-6 0l6-6M745 410l6 6m-6 0l6-6M746 420l6 6m-6 0l6-6M747 418l5 5m-5 0l5-5M746 418l6 6m-6 0l6-6M747 416l5 5m-5 0l5-5M747 421l6 6m-6 0l6-6M748 431l5 5m-5 0l5-5M748 427l6 6m-6 0l6-6M749 434l5 5m-5 0l5-5M749 434l6 6m-6 0l6-6M750 417l6 6m-6 0l6-6M750 416l6 6m-6 0l6-6M751 427l5 5m-5 0l5-5M751 429l6 6m-6 0l6-6M751 418l6 6m-6 0l6-6M752 432l6 6m-6 0l6-6M752 433l6 6m-6 0l6-6M753 416l6 6m-6 0l6-6M753 407l6 6m-6 0l6-6M753 422l6 6m-6 0l6-6M754 430l6 6m-6 0l6-6M754 425l6 6m-6 0l6-6M755 414l6 6m-6 0l6-6M755 406l6 6m-6 0l6-6M756 411l6 6m-6 0l6-6M756 409l6 6m-6 0l6-6M756 409l6 6m-6 0l6-6M757 423l6 6m-6 0l6-6M758 426l5 5m-5 0l5-5M758 432l5 5m-5 0l5-5M759 422l5 5m-5 0l5-5M759 427l5 5m-5 0l5-5M759 425l6 6m-6 0l6-6M759 434l6 6m-6 0l6-6M760 435l6 6m-6 0l6-6M760 421l6 6m-6 0l6-6M761 430l5 5m-5 0l5-5M761 431l6 6m-6 0l6-6M762 442l6 6m-6 0l6-6M763 422l5 5m-5 0l5-5M762 444l6 6m-6 0l6-6M763 430l5 5m-5 0l5-5M763 425l6 6m-6 0l6-6M764 445l6 6m-6 0l6-6M765 436l5 5m-5 0l5-5M765 435l6 6m-6 0l6-6M765 439l6 6m-6 0l6-6M766 452l5 5m-5 0l5-5M766 439l6 6m-6 0l6-6M766 445l6 6m-6 0l6-6M767 442l6 6m-6 0l6-6M767 448l6 6m-6 0l6-6M768 444l5 5m-5 0l5-5M768 433l6 6m-6 0l6-6M769 449l6 6m-6 0l6-6M769 439l6 6m-6 0l6-6M769 437l6 6m-6 0l6-6M770 457l5 5m-5 0l5-5M771 442l5 5m-5 0l5-5M771 440l5 5m-5 0l5-5M771 457l6 6m-6 0l6-6M772 459l5 5m-5 0l5-5M772 448l6 6m-6 0l6-6M772 448l6 6m-6 0l6-6M773 463l6 6m-6 0l6-6M773 453l6 6m-6 0l6-6M774 454l6 6m-6 0l6-6M775 451l5 5m-5 0l5-5M775 459l6 6m-6 0l6-6M776 465l5 5m-5 0l5-5M775 465l6 6m-6 0l6-6M776 454l5 5m-5 0l5-5M776 447l6 6m-6 0l6-6M777 446l6 6m-6 0l6-6M778 462l5 5m-5 0l5-5M778 460l6 6m-6 0l6-6M779 451l5 5m-5 0l5-5M778 444l6 6m-6 0l6-6M779 450l5 5m-5 0l5-5M779 459l6 6m-6 0l6-6M780 461l5 5m-5 0l5-5M780 464l6 6m-6 0l6-6M781 461l5 5m-5 0l5-5M781 461l6 6m-6 0l6-6M782 461l6 6m-6 0l6-6M782 448l5 5m-5 0l5-5M783 455l5 5m-5 0l5-5M783 462l6 6m-6 0l6-6M784 452l5 5m-5 0l5-5M784 458l6 6m-6 0l6-6M784 442l6 6m-6 0l6-6M785 436l6 6m-6 0l6-6M785 449l5 5m-5 0l5-5M785 455l6 6m-6 0l6-6M786 441l6 6m-6 0l6-6M787 441l5 5m-5 0l5-5M787 458l6 6m-6 0l6-6M787 450l6 6m-6 0l6-6M788 445l6 6m-6 0l6-6M788 439l6 6m-6 0l6-6M789 437l5 5m-5 0l5-5M789 443l5 5m-5 0l5-5M790 451l5 5m-5 0l5-5M790 448l6 6m-6 0l6-6M790 455l6 6m-6 0l6-6M791 438l6 6m-6 0l6-6M791 447l6 6m-6 0l6-6M791 460l6 6m-6 0l6-6M792 451l6 6m-6 0l6-6M793 470l5 5m-5 0l5-5M793 436l6 6m-6 0l6-6M793 457l6 6m-6 0l6-6M794 445l6 6m-6 0l6-6M794 453l6 6m-6 0l6-6M794 450l6 6m-6 0l6-6M795 435l6 6m-6 0l6-6M796 446l5 5m-5 0l5-5M796 443l6 6m-6 0l6-6M796 441l6 6m-6 0l6-6M797 449l6 6m-6 0l6-6M797 444l6 6m-6 0l6-6M798 425l5 5m-5 0l5-5M798 432l5 5m-5 0l5-5M798 433l6 6m-6 0l6-6M799 435l5 5m-5 0l5-5M799 434l6 6m-6 0l6-6M800 442l6 6m-6 0l6-6M800 443l6 6m-6 0l6-6M801 433l6 6m-6 0l6-6M801 444l5 5m-5 0l5-5M802 447l5 5m-5 0l5-5M802 431l5 5m-5 0l5-5M802 432l6 6m-6 0l6-6M803 439l5 5m-5 0l5-5M803 424l6 6m-6 0l6-6M804 447l6 6m-6 0l6-6M804 439l6 6m-6 0l6-6M804 449l6 6m-6 0l6-6M805 436l6 6m-6 0l6-6M805 440l6 6m-6 0l6-6M806 433l5 5m-5 0l5-5M807 449l5 5m-5 0l5-5M807 434l5 5m-5 0l5-5M807 436l6 6m-6 0l6-6M808 433l5 5m-5 0l5-5M808 428l5 5m-5 0l5-5M809 432l5 5m-5 0l5-5M809 438l5 5m-5 0l5-5M809 434l6 6m-6 0l6-6M810 440l5 5m-5 0l5-5M811 438l5 5m-5 0l5-5M810 425l6 6m-6 0l6-6M811 445l6 6m-6 0l6-6M812 455l5 5m-5 0l5-5M812 451l6 6m-6 0l6-6M813 449l5 5m-5 0l5-5M813 449l5 5m-5 0l5-5M813 440l6 6m-6 0l6-6M813 438l6 6m-6 0l6-6M814 448l6 6m-6 0l6-6M815 437l5 5m-5 0l5-5M815 449l6 6m-6 0l6-6M815 436l6 6m-6 0l6-6M816 443l6 6m-6 0l6-6M817 443l5 5m-5 0l5-5M817 449l6 6m-6 0l6-6M817 440l6 6m-6 0l6-6M818 445l5 5m-5 0l5-5M818 428l6 6m-6 0l6-6M818 450l6 6m-6 0l6-6M819 444l5 5m-5 0l5-5M819 443l6 6m-6 0l6-6M820 423l6 6m-6 0l6-6M820 446l5 5m-5 0l5-5M820 426l6 6m-6 0l6-6M821 428l6 6m-6 0l6-6M822 438l5 5m-5 0l5-5M822 431l6 6m-6 0l6-6M823 441l5 5m-5 0l5-5M823 446l6 6m-6 0l6-6M823 441l6 6m-6 0l6-6M823 441l6 6m-6 0l6-6M824 432l6 6m-6 0l6-6M824 439l6 6m-6 0l6-6M825 431l6 6m-6 0l6-6M825 432l6 6m-6 0l6-6M826 413l6 6m-6 0l6-6M827 419l5 5m-5 0l5-5M827 443l5 5m-5 0l5-5M827 429l5 5m-5 0l5-5M828 440l5 5m-5 0l5-5M828 419l6 6m-6 0l6-6M828 427l6 6m-6 0l6-6M829 426l6 6m-6 0l6-6M829 425l6 6m-6 0l6-6M830 429l5 5m-5 0l5-5M830 442l5 5m-5 0l5-5M831 425l5 5m-5 0l5-5M831 429l6 6m-6 0l6-6M831 422l6 6m-6 0l6-6M832 409l6 6m-6 0l6-6M832 416l6 6m-6 0l6-6M833 421l5 5m-5 0l5-5M833 414l6 6m-6 0l6-6M833 413l6 6m-6 0l6-6M834 421l5 5m-5 0l5-5M834 432l6 6m-6 0l6-6M835 425l5 5m-5 0l5-5M835 406l6 6m-6 0l6-6M836 399l5 5m-5 0l5-5M836 412l6 6m-6 0l6-6M837 419l5 5m-5 0l5-5M837 409l6 6m-6 0l6-6M837 405l6 6m-6 0l6-6M838 413l5 5m-5 0l5-5M838 405l6 6m-6 0l6-6M839 409l6 6m-6 0l6-6M839 420l6 6m-6 0l6-6M839 393l6 6m-6 0l6-6M840 402l6 6m-6 0l6-6M841 404l5 5m-5 0l5-5M841 412l6 6m-6 0l6-6M841 416l6 6m-6 0l6-6M842 400l6 6m-6 0l6-6M842 396l6 6m-6 0l6-6M842 403l6 6m-6 0l6-6M843 401l6 6m-6 0l6-6M843 413l6 6m-6 0l6-6M844 387l6 6m-6 0l6-6M844 408l6 6m-6 0l6-6M845 402l6 6m-6 0l6-6M846 401l5 5m-5 0l5-5M845 406l6 6m-6 0l6-6M846 412l5 5m-5 0l5-5M846 408l6 6m-6 0l6-6M847 388l6 6m-6 0l6-6M847 401l6 6m-6 0l6-6M848 403l5 5m-5 0l5-5M848 402l6 6m-6 0l6-6M849 391l6 6m-6 0l6-6M849 409l6 6m-6 0l6-6M850 399l5 5m-5 0l5-5M850 407l6 6m-6 0l6-6M850 402l6 6m-6 0l6-6M851 411l6 6m-6 0l6-6M851 394l6 6m-6 0l6-6M852 408l6 6m-6 0l6-6M852 401l6 6m-6 0l6-6M852 408l6 6m-6 0l6-6M853 393l6 6m-6 0l6-6M853 412l6 6m-6 0l6-6M854 394l5 5m-5 0l5-5M854 395l6 6m-6 0l6-6M855 415l5 5m-5 0l5-5M855 393l6 6m-6 0l6-6M856 398l5 5m-5 0l5-5M856 389l6 6m-6 0l6-6M857 386l5 5m-5 0l5-5M857 404l6 6m-6 0l6-6M857 404l6 6m-6 0l6-6M858 402l6 6m-6 0l6-6M859 409l5 5m-5 0l5-5M859 397l5 5m-5 0l5-5M859 414l5 5m-5 0l5-5M860 407l5 5m-5 0l5-5M860 406l6 6m-6 0l6-6M860 396l6 6m-6 0l6-6M861 419l6 6m-6 0l6-6M862 395l5 5m-5 0l5-5M861 400l6 6m-6 0l6-6M862 406l5 5m-5 0l5-5M863 389l5 5m-5 0l5-5M863 406l5 5m-5 0l5-5M864 399l5 5m-5 0l5-5M864 403l5 5m-5 0l5-5M864 393l6 6m-6 0l6-6M865 408l6 6m-6 0l6-6M865 401l5 5m-5 0l5-5M865 388l6 6m-6 0l6-6M866 403l6 6m-6 0l6-6M867 402l5 5m-5 0l5-5M867 401l6 6m-6 0l6-6M868 396l5 5m-5 0l5-5M868 416l6 6m-6 0l6-6M868 415l6 6m-6 0l6-6M869 406l5 5m-5 0l5-5M869 412l6 6m-6 0l6-6M869 405l6 6m-6 0l6-6M870 401l5 5m-5 0l5-5M870 416l6 6m-6 0l6-6M871 409l5 5m-5 0l5-5M872 411l5 5m-5 0l5-5M872 405l5 5m-5 0l5-5M872 391l5 5m-5 0l5-5M873 386l5 5m-5 0l5-5M873 390l6 6m-6 0l6-6M873 398l6 6m-6 0l6-6M874 396l6 6m-6 0l6-6M875 375l5 5m-5 0l5-5M874 390l6 6m-6 0l6-6M875 385l6 6m-6 0l6-6M875 389l6 6m-6 0l6-6M876 381l5 5m-5 0l5-5M876 368l6 6m-6 0l6-6M877 361l6 6m-6 0l6-6M878 379l5 5m-5 0l5-5M877 375l6 6m-6 0l6-6M878 387l5 5m-5 0l5-5M879 376l5 5m-5 0l5-5M879 378l5 5m-5 0l5-5M879 380l6 6m-6 0l6-6M880 366l6 6m-6 0l6-6M880 375l6 6m-6 0l6-6M881 382l5 5m-5 0l5-5M881 346l6 6m-6 0l6-6M881 363l6 6m-6 0l6-6M882 359l6 6m-6 0l6-6M883 362l5 5m-5 0l5-5M883 366l6 6m-6 0l6-6M883 361l6 6m-6 0l6-6M884 371l5 5m-5 0l5-5M884 362l5 5m-5 0l5-5M884 365l6 6m-6 0l6-6M885 365l6 6m-6 0l6-6M886 351l5 5m-5 0l5-5M886 347l5 5m-5 0l5-5M886 356l6 6m-6 0l6-6M887 363l6 6m-6 0l6-6M888 351l5 5m-5 0l5-5M887 368l6 6m-6 0l6-6M888 347l6 6m-6 0l6-6M888 356l6 6m-6 0l6-6M889 356l6 6m-6 0l6-6M890 371l5 5m-5 0l5-5M890 371l6 6m-6 0l6-6M891 366l5 5m-5 0l5-5M891 369l5 5m-5 0l5-5M891 369l6 6m-6 0l6-6M892 354l5 5m-5 0l5-5M892 356l5 5m-5 0l5-5M893 370l5 5m-5 0l5-5M893 360l6 6m-6 0l6-6M893 370l6 6m-6 0l6-6M893 356l6 6m-6 0l6-6M894 372l5 5m-5 0l5-5M894 359l6 6m-6 0l6-6M895 365l5 5m-5 0l5-5M895 365l6 6m-6 0l6-6M896 374l5 5m-5 0l5-5M896 363l6 6m-6 0l6-6M897 373l6 6m-6 0l6-6M897 380l6 6m-6 0l6-6M898 386l5 5m-5 0l5-5M898 382l6 6m-6 0l6-6M898 366l6 6m-6 0l6-6M899 388l6 6m-6 0l6-6M899 383l6 6m-6 0l6-6M900 389l6 6m-6 0l6-6M900 389l6 6m-6 0l6-6M900 398l6 6m-6 0l6-6M901 379l6 6m-6 0l6-6M902 384l5 5m-5 0l5-5M902 366l6 6m-6 0l6-6M902 384l6 6m-6 0l6-6M903 387l6 6m-6 0l6-6M904 387l5 5m-5 0l5-5M904 362l5 5m-5 0l5-5M904 375l5 5m-5 0l5-5M904 375l6 6m-6 0l6-6M905 377l6 6m-6 0l6-6M905 382l6 6m-6 0l6-6M906 367l6 6m-6 0l6-6M907 385l5 5m-5 0l5-5M906 383l6 6m-6 0l6-6M907 384l6 6m-6 0l6-6M908 371l5 5m-5 0l5-5M908 391l6 6m-6 0l6-6M908 381l6 6m-6 0l6-6M909 373l5 5m-5 0l5-5M909 373l6 6m-6 0l6-6M909 386l6 6m-6 0l6-6M910 375l6 6m-6 0l6-6M910 391l6 6m-6 0l6-6M911 376l6 6m-6 0l6-6M911 381l6 6m-6 0l6-6M912 384l6 6m-6 0l6-6M912 368l6 6m-6 0l6-6M913 374l6 6m-6 0l6-6M913 379l6 6m-6 0l6-6M913 399l6 6m-6 0l6-6M914 372l5 5m-5 0l5-5M914 375l6 6m-6 0l6-6M915 371l6 6m-6 0l6-6M916 378l5 5m-5 0l5-5M916 383l5 5m-5 0l5-5M916 369l6 6m-6 0l6-6M917 392l5 5m-5 0l5-5M917 391l6 6m-6 0l6-6M918 386l5 5m-5 0l5-5M918 382l6 6m-6 0l6-6M918 397l6 6m-6 0l6-6M919 378l6 6m-6 0l6-6M920 375l5 5m-5 0l5-5M920 387l5 5m-5 0l5-5M920 388l6 6m-6 0l6-6M920 384l6 6m-6 0l6-6M921 362l6 6m-6 0l6-6M922 381l5 5m-5 0l5-5M922 384l6 6m-6 0l6-6M923 386l5 5m-5 0l5-5M923 392l5 5m-5 0l5-5M923 391l5 5m-5 0l5-5M924 400l5 5m-5 0l5-5M924 389l5 5m-5 0l5-5M925 395l5 5m-5 0l5-5M925 399l6 6m-6 0l6-6M925 396l6 6m-6 0l6-6M925 373l6 6m-6 0l6-6M926 394l6 6m-6 0l6-6M927 388l5 5m-5 0l5-5M927 392l6 6m-6 0l6-6M928 406l5 5m-5 0l5-5M928 395l6 6m-6 0l6-6M929 405l5 5m-5 0l5-5M929 395l5 5m-5 0l5-5M929 383l5 5m-5 0l5-5M930 400l5 5m-5 0l5-5M930 384l6 6m-6 0l6-6M930 391l6 6m-6 0l6-6M931 393l6 6m-6 0l6-6M931 397l6 6m-6 0l6-6M932 398l5 5m-5 0l5-5M932 402l5 5m-5 0l5-5M933 393l5 5m-5 0l5-5M933 401l5 5m-5 0l5-5M934 398l5 5m-5 0l5-5M934 385l6 6m-6 0l6-6M934 392l6 6m-6 0l6-6M935 407l5 5m-5 0l5-5M936 394l5 5m-5 0l5-5M935 395l6 6m-6 0l6-6M936 374l6 6m-6 0l6-6M937 397l5 5m-5 0l5-5M937 401l6 6m-6 0l6-6M938 393l5 5m-5 0l5-5M938 384l6 6m-6 0l6-6M939 381l5 5m-5 0l5-5M938 404l6 6m-6 0l6-6M939 414l6 6m-6 0l6-6M939 411l6 6m-6 0l6-6M940 405l6 6m-6 0l6-6M941 403l5 5m-5 0l5-5M941 409l5 5m-5 0l5-5M941 410l6 6m-6 0l6-6M942 403l5 5m-5 0l5-5M942 408l5 5m-5 0l5-5M942 403l6 6m-6 0l6-6M943 409l5 5m-5 0l5-5M944 380l5 5m-5 0l5-5M944 417l5 5m-5 0l5-5M945 407l5 5m-5 0l5-5M945 388l6 6m-6 0l6-6M945 388l6 6m-6 0l6-6M946 411l5 5m-5 0l5-5M946 395l6 6m-6 0l6-6M947 389l5 5m-5 0l5-5M947 404l6 6m-6 0l6-6M948 405l5 5m-5 0l5-5M948 407l6 6m-6 0l6-6M948 416l6 6m-6 0l6-6M949 407l5 5m-5 0l5-5M949 411l5 5m-5 0l5-5M949 402l6 6m-6 0l6-6M950 411l6 6m-6 0l6-6M950 411l6 6m-6 0l6-6M951 412l5 5m-5 0l5-5M951 417l6 6m-6 0l6-6M951 403l6 6m-6 0l6-6M952 409l5 5m-5 0l5-5M953 399l5 5m-5 0l5-5M953 400l5 5m-5 0l5-5M953 392l6 6m-6 0l6-6M954 408l6 6m-6 0l6-6M955 411l5 5m-5 0l5-5M955 401l5 5m-5 0l5-5M955 386l5 5m-5 0l5-5M955 404l6 6m-6 0l6-6M956 401l5 5m-5 0l5-5M956 409l6 6m-6 0l6-6M957 407l6 6m-6 0l6-6M957 402l6 6m-6 0l6-6M957 410l6 6m-6 0l6-6M958 411l5 5m-5 0l5-5M959 406l5 5m-5 0l5-5M959 422l5 5m-5 0l5-5M959 409l6 6m-6 0l6-6M960 418l6 6m-6 0l6-6M961 385l5 5m-5 0l5-5M961 398l5 5m-5 0l5-5M961 403l6 6m-6 0l6-6M962 410l5 5m-5 0l5-5M962 394l6 6m-6 0l6-6M963 391l5 5m-5 0l5-5M963 386l5 5m-5 0l5-5M963 393l6 6m-6 0l6-6M964 392l6 6m-6 0l6-6M964 388l5 5m-5 0l5-5M964 395l6 6m-6 0l6-6M965 398l6 6m-6 0l6-6M965 401l6 6m-6 0l6-6M966 388l5 5m-5 0l5-5M967 388l5 5m-5 0l5-5M967 401l6 6m-6 0l6-6M967 394l5 5m-5 0l5-5M967 399l6 6m-6 0l6-6M968 384l6 6m-6 0l6-6M968 391l6 6m-6 0l6-6M969 381l5 5m-5 0l5-5M970 393l5 5m-5 0l5-5M970 392l5 5m-5 0l5-5M970 392l6 6m-6 0l6-6M971 388l5 5m-5 0l5-5M971 380l6 6m-6 0l6-6M971 403l6 6m-6 0l6-6M972 387l6 6m-6 0l6-6M972 390l6 6m-6 0l6-6M973 385l6 6m-6 0l6-6M974 385l5 5m-5 0l5-5M974 387l5 5m-5 0l5-5M974 384l6 6m-6 0l6-6M975 386l5 5m-5 0l5-5M975 411l6 6m-6 0l6-6M976 396l5 5m-5 0l5-5M976 379l6 6m-6 0l6-6M976 392l6 6m-6 0l6-6M977 378l5 5m-5 0l5-5M977 381l6 6m-6 0l6-6M977 389l6 6m-6 0l6-6M978 383l5 5m-5 0l5-5M978 391l6 6m-6 0l6-6M979 384l6 6m-6 0l6-6M980 391l5 5m-5 0l5-5M980 377l6 6m-6 0l6-6M980 379l6 6m-6 0l6-6M981 390l5 5m-5 0l5-5M981 383l5 5m-5 0l5-5M981 377l6 6m-6 0l6-6M982 377l5 5m-5 0l5-5M982 372l6 6m-6 0l6-6M983 362l6 6m-6 0l6-6M983 380l5 5m-5 0l5-5M984 367l5 5m-5 0l5-5M984 386l6 6m-6 0l6-6M984 366l6 6m-6 0l6-6M985 380l6 6m-6 0l6-6M986 375l5 5m-5 0l5-5M986 370l6 6m-6 0l6-6M986 376l6 6m-6 0l6-6M987 374l5 5m-5 0l5-5M987 382l6 6m-6 0l6-6M988 362l5 5m-5 0l5-5M988 369l6 6m-6 0l6-6M989 377l5 5m-5 0l5-5M989 365l5 5m-5 0l5-5M989 378l6 6m-6 0l6-6M990 374l5 5m-5 0l5-5M990 363l6 6m-6 0l6-6M990 354l6 6m-6 0l6-6M991 363l6 6m-6 0l6-6M992 357l5 5m-5 0l5-5M992 355l6 6m-6 0l6-6M992 366l6 6m-6 0l6-6M993 366l5 5m-5 0l5-5M993 359l6 6m-6 0l6-6M993 353l6 6m-6 0l6-6M994 351l6 6m-6 0l6-6M994 356l6 6m-6 0l6-6M995 361l5 5m-5 0l5-5M995 356l6 6m-6 0l6-6M996 355l6 6m-6 0l6-6M996 369l6 6m-6 0l6-6M997 366l5 5m-5 0l5-5M997 349l6 6m-6 0l6-6M998 342l5 5m-5 0l5-5M998 346l6 6m-6 0l6-6M999 355l5 5m-5 0l5-5M999 346l5 5m-5 0l5-5M999 370l5 5m-5 0l5-5M999 360l6 6m-6 0l6-6M1000 366l6 6m-6 0l6-6M1000 364l6 6m-6 0l6-6M1001 361l5 5m-5 0l5-5M1001 345l6 6m-6 0l6-6M1002 345l6 6m-6 0l6-6M1003 341l5 5m-5 0l5-5M1003 362l5 5m-5 0l5-5M1003 347l5 5m-5 0l5-5M1004 375l5 5m-5 0l5-5M1004 344l6 6m-6 0l6-6M1005 353l5 5m-5 0l5-5M1005 356l5 5m-5 0l5-5M1005 361l6 6m-6 0l6-6M1005 366l6 6m-6 0l6-6M1006 362l6 6m-6 0l6-6M1006 363l6 6m-6 0l6-6M1007 366l6 6m-6 0l6-6M1007 344l6 6m-6 0l6-6M1008 351l6 6m-6 0l6-6M1009 375l5 5m-5 0l5-5M1009 361l6 6m-6 0l6-6M1009 356l5 5m-5 0l5-5M1010 350l5 5m-5 0l5-5M1010 353l6 6m-6 0l6-6M1011 363l5 5m-5 0l5-5M1011 359l5 5m-5 0l5-5M1011 350l6 6m-6 0l6-6M1012 345l6 6m-6 0l6-6M1012 346l5 5m-5 0l5-5M1013 351l5 5m-5 0l5-5M1013 356l5 5m-5 0l5-5M1013 367l6 6m-6 0l6-6M1014 371l5 5m-5 0l5-5M1014 358l6 6m-6 0l6-6M1015 372l6 6m-6 0l6-6M1015 371l6 6m-6 0l6-6M1016 370l5 5m-5 0l5-5M1016 363l6 6m-6 0l6-6M1017 359l5 5m-5 0l5-5M1017 369l6 6m-6 0l6-6M1018 359l5 5m-5 0l5-5M1018 368l6 6m-6 0l6-6M1019 351l5 5m-5 0l5-5M1019 370l5 5m-5 0l5-5M1019 364l5 5m-5 0l5-5M1019 361l6 6m-6 0l6-6M1020 355l5 5m-5 0l5-5M1020 370l6 6m-6 0l6-6M1021 377l5 5m-5 0l5-5M1021 369l6 6m-6 0l6-6M1022 375l5 5m-5 0l5-5M1022 358l6 6m-6 0l6-6M1022 369l6 6m-6 0l6-6M1023 353l5 5m-5 0l5-5M1023 352l6 6m-6 0l6-6M1024 371l6 6m-6 0l6-6M1024 358l6 6m-6 0l6-6M1025 372l6 6m-6 0l6-6M1025 350l6 6m-6 0l6-6M1026 348l5 5m-5 0l5-5M1026 363l5 5m-5 0l5-5M1027 362l5 5m-5 0l5-5M1027 359l5 5m-5 0l5-5M1028 355l5 5m-5 0l5-5M1028 350l5 5m-5 0l5-5M1028 362l6 6m-6 0l6-6M1028 363l6 6m-6 0l6-6M1029 351l6 6m-6 0l6-6M1029 361l6 6m-6 0l6-6M1030 370l6 6m-6 0l6-6M1031 348l5 5m-5 0l5-5M1031 350l6 6m-6 0l6-6M1031 364l6 6m-6 0l6-6M1031 358l6 6m-6 0l6-6M1032 352l5 5m-5 0l5-5M1032 359l6 6m-6 0l6-6M1033 351l6 6m-6 0l6-6M1034 356l5 5m-5 0l5-5M1034 354l6 6m-6 0l6-6M1035 359l5 5m-5 0l5-5M1035 357l5 5m-5 0l5-5M1035 361l6 6m-6 0l6-6M1036 371l5 5m-5 0l5-5M1036 369l5 5m-5 0l5-5M1037 345l5 5m-5 0l5-5M1037 354l6 6m-6 0l6-6M1038 348l5 5m-5 0l5-5M1038 343l5 5m-5 0l5-5M1038 354l6 6m-6 0l6-6M1038 361l6 6m-6 0l6-6M1039 347l6 6m-6 0l6-6M1039 346l6 6m-6 0l6-6M1040 354l5 5m-5 0l5-5M1041 338l5 5m-5 0l5-5M1041 352l5 5m-5 0l5-5M1041 344l5 5m-5 0l5-5M1041 339l6 6m-6 0l6-6M1042 344l5 5m-5 0l5-5M1043 330l5 5m-5 0l5-5M1043 348l5 5m-5 0l5-5M1043 358l6 6m-6 0l6-6M1044 334l6 6m-6 0l6-6M1044 357l5 5m-5 0l5-5M1044 348l6 6m-6 0l6-6M1045 342l5 5m-5 0l5-5M1045 353l6 6m-6 0l6-6M1046 360l6 6m-6 0l6-6M1046 348l6 6m-6 0l6-6M1047 357l6 6m-6 0l6-6M1047 355l5 5m-5 0l5-5M1047 362l6 6m-6 0l6-6M1048 344l5 5m-5 0l5-5M1048 337l6 6m-6 0l6-6M1049 352l5 5m-5 0l5-5M1050 354l5 5m-5 0l5-5M1050 356l5 5m-5 0l5-5M1051 344l5 5m-5 0l5-5M1050 344l6 6m-6 0l6-6M1051 357l5 5m-5 0l5-5M1052 346l5 5m-5 0l5-5M1052 352l6 6m-6 0l6-6M1052 340l6 6m-6 0l6-6M1053 356l6 6m-6 0l6-6M1053 347l6 6m-6 0l6-6M1054 336l5 5m-5 0l5-5M1054 339l5 5m-5 0l5-5M1055 352l5 5m-5 0l5-5M1055 346l6 6m-6 0l6-6M1055 324l6 6m-6 0l6-6M1056 334l6 6m-6 0l6-6M1056 346l6 6m-6 0l6-6M1057 344l5 5m-5 0l5-5M1057 349l6 6m-6 0l6-6M1058 342l5 5m-5 0l5-5M1058 355l6 6m-6 0l6-6M1058 336l6 6m-6 0l6-6M1059 362l5 5m-5 0l5-5M1059 337l6 6m-6 0l6-6M1060 346l6 6m-6 0l6-6M1060 341l6 6m-6 0l6-6M1060 352l6 6m-6 0l6-6M1061 335l6 6m-6 0l6-6M1061 339l6 6m-6 0l6-6M1062 328l5 5m-5 0l5-5M1062 343l6 6m-6 0l6-6M1063 327l5 5m-5 0l5-5M1063 335l5 5m-5 0l5-5M1063 341l6 6m-6 0l6-6M1064 331l6 6m-6 0l6-6M1065 321l5 5m-5 0l5-5M1065 330l6 6m-6 0l6-6M1065 308l6 6m-6 0l6-6M1066 317l6 6m-6 0l6-6M1067 297l5 5m-5 0l5-5M1066 319l6 6m-6 0l6-6M1067 299l6 6m-6 0l6-6M1068 294l5 5m-5 0l5-5M1068 307l6 6m-6 0l6-6M1069 314l5 5m-5 0l5-5M1069 310l5 5m-5 0l5-5M1070 317l5 5m-5 0l5-5M1070 306l5 5m-5 0l5-5M1070 313l5 5m-5 0l5-5M1070 315l6 6m-6 0l6-6M1071 310l5 5m-5 0l5-5M1072 289l5 5m-5 0l5-5M1072 305l6 6m-6 0l6-6M1072 297l6 6m-6 0l6-6M1073 305l5 5m-5 0l5-5M1073 306l6 6m-6 0l6-6M1074 289l5 5m-5 0l5-5M1074 296l5 5m-5 0l5-5M1074 300l6 6m-6 0l6-6M1075 292l6 6m-6 0l6-6M1076 286l5 5m-5 0l5-5M1076 290l6 6m-6 0l6-6M1076 304l5 5m-5 0l5-5M1076 303l6 6m-6 0l6-6M1077 286l6 6m-6 0l6-6M1078 299l5 5m-5 0l5-5M1078 298l6 6m-6 0l6-6M1079 297l5 5m-5 0l5-5M1079 307l6 6m-6 0l6-6M1079 289l5 5m-5 0l5-5M1080 299l5 5m-5 0l5-5M1080 308l6 6m-6 0l6-6M1080 304l6 6m-6 0l6-6M1081 304l6 6m-6 0l6-6M1082 292l5 5m-5 0l5-5M1082 290l6 6m-6 0l6-6M1082 288l6 6m-6 0l6-6M1082 300l6 6m-6 0l6-6M1083 299l5 5m-5 0l5-5M1083 295l6 6m-6 0l6-6M1084 290l6 6m-6 0l6-6M1084 310l6 6m-6 0l6-6M1085 289l6 6m-6 0l6-6M1085 293l6 6m-6 0l6-6M1086 303l5 5m-5 0l5-5M1086 292l6 6m-6 0l6-6M1086 308l6 6m-6 0l6-6M1087 299l5 5m-5 0l5-5M1087 305l6 6m-6 0l6-6M1088 299l6 6m-6 0l6-6M1089 299l5 5m-5 0l5-5M1089 302l6 6m-6 0l6-6M1089 303l5 5m-5 0l5-5M1090 288l5 5m-5 0l5-5M1090 293l6 6m-6 0l6-6M1090 313l6 6m-6 0l6-6M1091 275l6 6m-6 0l6-6M1092 290l5 5m-5 0l5-5M1092 293l6 6m-6 0l6-6M1092 295l6 6m-6 0l6-6M1092 289l6 6m-6 0l6-6M1093 292l6 6m-6 0l6-6M1094 293l5 5m-5 0l5-5M1094 278l6 6m-6 0l6-6M1094 286l6 6m-6 0l6-6M1095 296l5 5m-5 0l5-5M1095 291l6 6m-6 0l6-6M1095 293l6 6m-6 0l6-6M1096 306l6 6m-6 0l6-6M1096 289l6 6m-6 0l6-6M1097 285l5 5m-5 0l5-5M1098 306l5 5m-5 0l5-5M1098 286l6 6m-6 0l6-6M1098 286l6 6m-6 0l6-6M1099 294l5 5m-5 0l5-5M1099 277l6 6m-6 0l6-6M1099 303l6 6m-6 0l6-6M1100 280l5 5m-5 0l5-5M1101 283l5 5m-5 0l5-5M1101 289l6 6m-6 0l6-6M1101 283l6 6m-6 0l6-6M1102 311l5 5m-5 0l5-5M1102 276l6 6m-6 0l6-6M1102 291l6 6m-6 0l6-6M1103 283l5 5m-5 0l5-5M1104 288l5 5m-5 0l5-5M1104 279l5 5m-5 0l5-5M1104 290l6 6m-6 0l6-6M1105 289l5 5m-5 0l5-5M1105 293l6 6m-6 0l6-6M1105 317l6 6m-6 0l6-6M1106 289l5 5m-5 0l5-5M1107 294l5 5m-5 0l5-5M1107 294l6 6m-6 0l6-6M1107 314l6 6m-6 0l6-6M1108 300l5 5m-5 0l5-5M1108 290l6 6m-6 0l6-6M1108 295l6 6m-6 0l6-6M1109 295l5 5m-5 0l5-5M1109 303l6 6m-6 0l6-6M1110 291l5 5m-5 0l5-5M1111 294l5 5m-5 0l5-5M1111 306l5 5m-5 0l5-5M1111 312l5 5m-5 0l5-5M1111 321l6 6m-6 0l6-6M1112 311l5 5m-5 0l5-5M1112 295l6 6m-6 0l6-6M1113 314l6 6m-6 0l6-6M1113 300l6 6m-6 0l6-6M1114 317l6 6m-6 0l6-6M1114 301l6 6m-6 0l6-6M1115 304l5 5m-5 0l5-5M1115 306l6 6m-6 0l6-6M1115 315l6 6m-6 0l6-6M1116 311l5 5m-5 0l5-5M1116 303l6 6m-6 0l6-6M1117 311l5 5m-5 0l5-5M1117 324l6 6m-6 0l6-6M1117 310l6 6m-6 0l6-6M1118 317l6 6m-6 0l6-6M1119 302l5 5m-5 0l5-5M1119 336l6 6m-6 0l6-6M1120 324l5 5m-5 0l5-5M1120 329l6 6m-6 0l6-6M1121 340l5 5m-5 0l5-5M1120 329l6 6m-6 0l6-6M1121 344l6 6m-6 0l6-6M1121 323l6 6m-6 0l6-6M1122 326l6 6m-6 0l6-6M1122 332l6 6m-6 0l6-6M1123 325l6 6m-6 0l6-6M1123 344l6 6m-6 0l6-6M1124 336l6 6m-6 0l6-6M1124 344l6 6m-6 0l6-6M1124 346l6 6m-6 0l6-6M1125 336l5 5m-5 0l5-5M1125 336l6 6m-6 0l6-6M1126 323l6 6m-6 0l6-6M1127 340l5 5m-5 0l5-5M1127 325l6 6m-6 0l6-6M1127 335l6 6m-6 0l6-6M1128 329l5 5m-5 0l5-5M1128 345l6 6m-6 0l6-6M1128 331l6 6m-6 0l6-6M1129 331l6 6m-6 0l6-6M1129 315l6 6m-6 0l6-6M1130 338l5 5m-5 0l5-5M1130 347l6 6m-6 0l6-6M1130 344l6 6m-6 0l6-6M1131 345l5 5m-5 0l5-5M1131 337l6 6m-6 0l6-6M1132 355l6 6m-6 0l6-6M1133 336l5 5m-5 0l5-5M1133 320l6 6m-6 0l6-6M1133 335l6 6m-6 0l6-6M1133 338l6 6m-6 0l6-6M1134 341l5 5m-5 0l5-5M1135 336l5 5m-5 0l5-5M1135 321l6 6m-6 0l6-6M1135 349l6 6m-6 0l6-6M1136 348l5 5m-5 0l5-5M1137 350l5 5m-5 0l5-5M1136 357l6 6m-6 0l6-6M1137 337l6 6m-6 0l6-6M1137 341l6 6m-6 0l6-6M1138 352l6 6m-6 0l6-6M1138 329l6 6m-6 0l6-6M1139 345l5 5m-5 0l5-5M1139 354l6 6m-6 0l6-6M1140 351l5 5m-5 0l5-5M1140 360l6 6m-6 0l6-6M1140 352l6 6m-6 0l6-6M1141 355l6 6m-6 0l6-6M1141 352l6 6m-6 0l6-6M1142 355l6 6m-6 0l6-6M1143 340l5 5m-5 0l5-5M1143 352l6 6m-6 0l6-6M1143 342l6 6m-6 0l6-6M1144 347l5 5m-5 0l5-5M1144 354l5 5m-5 0l5-5M1145 330l5 5m-5 0l5-5M1145 352l6 6m-6 0l6-6M1145 346l6 6m-6 0l6-6M1146 350l6 6m-6 0l6-6M1146 353l6 6m-6 0l6-6M1146 343l6 6m-6 0l6-6M1147 341l6 6m-6 0l6-6M1147 350l6 6m-6 0l6-6M1148 334l5 5m-5 0l5-5M1149 325l5 5m-5 0l5-5M1149 338l6 6m-6 0l6-6M1149 325l6 6m-6 0l6-6M1150 337l5 5m-5 0l5-5M1150 316l5 5m-5 0l5-5M1150 337l6 6m-6 0l6-6M1151 323l5 5m-5 0l5-5M1151 340l6 6m-6 0l6-6M1152 338l6 6m-6 0l6-6M1153 335l5 5m-5 0l5-5M1153 328l5 5m-5 0l5-5M1153 331l6 6m-6 0l6-6M1153 334l6 6m-6 0l6-6M1154 329l6 6m-6 0l6-6M1154 334l6 6m-6 0l6-6M1155 322l6 6m-6 0l6-6M1155 326l6 6m-6 0l6-6M1156 315l6 6m-6 0l6-6M1156 328l6 6m-6 0l6-6M1157 323l5 5m-5 0l5-5M1157 327l6 6m-6 0l6-6M1157 324l6 6m-6 0l6-6M1158 327l5 5m-5 0l5-5M1158 321l6 6m-6 0l6-6M1159 319l6 6m-6 0l6-6M1159 316l6 6m-6 0l6-6M1159 313l6 6m-6 0l6-6M1160 321l6 6m-6 0l6-6M1161 305l5 5m-5 0l5-5M1161 315l5 5m-5 0l5-5M1162 308l5 5m-5 0l5-5M1162 306l6 6m-6 0l6-6M1162 317l6 6m-6 0l6-6M1162 315l6 6m-6 0l6-6M1163 307l6 6m-6 0l6-6M1164 311l5 5m-5 0l5-5M1164 309l6 6m-6 0l6-6M1164 317l6 6m-6 0l6-6M1165 303l6 6m-6 0l6-6M1166 310l5 5m-5 0l5-5M1166 300l5 5m-5 0l5-5M1166 301l6 6m-6 0l6-6M1167 318l5 5m-5 0l5-5M1167 309l6 6m-6 0l6-6M1167 322l6 6m-6 0l6-6M1168 303l5 5m-5 0l5-5M1168 320l6 6m-6 0l6-6M1168 303l6 6m-6 0l6-6M1169 301l6 6m-6 0l6-6M1169 298l6 6m-6 0l6-6M1170 302l6 6m-6 0l6-6M1171 296l5 5m-5 0l5-5M1171 304l6 6m-6 0l6-6M1171 317l6 6m-6 0l6-6M1172 294l6 6m-6 0l6-6M1172 307l6 6m-6 0l6-6M1172 320l6 6m-6 0l6-6M1173 291l6 6m-6 0l6-6M1173 290l6 6m-6 0l6-6M1174 315l6 6m-6 0l6-6M1174 306l6 6m-6 0l6-6M1175 300l6 6m-6 0l6-6M1175 304l6 6m-6 0l6-6M1175 325l6 6m-6 0l6-6M1176 300l6 6m-6 0l6-6M1177 298l5 5m-5 0l5-5M1177 308l5 5m-5 0l5-5M1177 315l6 6m-6 0l6-6M1178 311l5 5m-5 0l5-5M1178 315l6 6m-6 0l6-6M1178 321l6 6m-6 0l6-6M1179 308l5 5m-5 0l5-5M1180 309l5 5m-5 0l5-5M1180 307l5 5m-5 0l5-5M1181 302l5 5m-5 0l5-5M1181 319l5 5m-5 0l5-5M1181 316l6 6m-6 0l6-6M1182 304l5 5m-5 0l5-5M1182 308l5 5m-5 0l5-5M1183 319l5 5m-5 0l5-5M1183 305l5 5m-5 0l5-5M1183 318l6 6m-6 0l6-6M1184 321l6 6m-6 0l6-6M1184 307l6 6m-6 0l6-6M1184 295l6 6m-6 0l6-6M1185 316l6 6m-6 0l6-6M1186 316l5 5m-5 0l5-5M1186 317l5 5m-5 0l5-5M1187 309l5 5m-5 0l5-5M1187 310l6 6m-6 0l6-6M1188 302l5 5m-5 0l5-5M1188 314l6 6m-6 0l6-6M1188 305l5 5m-5 0l5-5M1188 312l6 6m-6 0l6-6M1189 300l5 5m-5 0l5-5M1190 297l5 5m-5 0l5-5M1190 317l6 6m-6 0l6-6M1190 310l6 6m-6 0l6-6M1191 311l6 6m-6 0l6-6M1191 313l6 6m-6 0l6-6M1192 328l5 5m-5 0l5-5M1192 320l6 6m-6 0l6-6M1193 306l5 5m-5 0l5-5M1193 311l6 6m-6 0l6-6M1193 314l6 6m-6 0l6-6M1194 309l5 5m-5 0l5-5M1195 317l5 5m-5 0l5-5M1194 317l6 6m-6 0l6-6M1195 320l6 6m-6 0l6-6M1195 318l6 6m-6 0l6-6M1196 317l6 6m-6 0l6-6M1196 326l6 6m-6 0l6-6M1197 318l5 5m-5 0l5-5M1197 311l6 6m-6 0l6-6M1197 339l6 6m-6 0l6-6M1198 325l5 5m-5 0l5-5M1198 326l6 6m-6 0l6-6M1199 333l6 6m-6 0l6-6M1199 321l6 6m-6 0l6-6M1200 329l5 5m-5 0l5-5M1200 338l6 6m-6 0l6-6M1201 322l5 5m-5 0l5-5M1201 323l6 6m-6 0l6-6M1202 326l5 5m-5 0l5-5M1202 326l6 6m-6 0l6-6M1203 319l5 5m-5 0l5-5M1203 328l6 6m-6 0l6-6M1204 329l5 5m-5 0l5-5M1204 317l6 6m-6 0l6-6M1204 328l5 5m-5 0l5-5M1204 325l6 6m-6 0l6-6M1205 337l5 5m-5 0l5-5M1206 336l5 5m-5 0l5-5M1206 345l6 6m-6 0l6-6M1207 338l5 5m-5 0l5-5M1207 337l5 5m-5 0l5-5M1207 342l6 6m-6 0l6-6M1207 324l6 6m-6 0l6-6M1208 325l5 5m-5 0l5-5M1209 329l5 5m-5 0l5-5M1209 337l6 6m-6 0l6-6M1210 334l5 5m-5 0l5-5M1210 341l5 5m-5 0l5-5M1210 337l6 6m-6 0l6-6M1211 344l5 5m-5 0l5-5M1211 330l6 6m-6 0l6-6M1212 339l5 5m-5 0l5-5M1212 332l6 6m-6 0l6-6M1212 333l6 6m-6 0l6-6M1213 328l6 6m-6 0l6-6M1214 340l5 5m-5 0l5-5M1214 341l5 5m-5 0l5-5M1214 340l6 6m-6 0l6-6M1214 344l6 6m-6 0l6-6M1215 333l6 6m-6 0l6-6M1215 346l6 6m-6 0l6-6M1216 347l5 5m-5 0l5-5M1217 342l5 5m-5 0l5-5M1217 341l5 5m-5 0l5-5M1217 342l5 5m-5 0l5-5M1217 341l6 6m-6 0l6-6M1218 324l6 6m-6 0l6-6M1219 341l5 5m-5 0l5-5M1219 344l5 5m-5 0l5-5M1220 341l5 5m-5 0l5-5M1220 328l5 5m-5 0l5-5M1220 326l5 5m-5 0l5-5M1221 332l5 5m-5 0l5-5M1221 304l5 5m-5 0l5-5M1221 330l6 6m-6 0l6-6M1222 320l6 6m-6 0l6-6M1222 336l6 6m-6 0l6-6M1223 329l6 6m-6 0l6-6M1223 314l6 6m-6 0l6-6M1223 329l6 6m-6 0l6-6M1224 329l6 6m-6 0l6-6M1224 317l6 6m-6 0l6-6M1225 347l6 6m-6 0l6-6M1225 322l6 6m-6 0l6-6M1226 317l6 6m-6 0l6-6M1226 334l6 6m-6 0l6-6M1227 324l5 5m-5 0l5-5M1227 333l6 6m-6 0l6-6M1227 315l6 6m-6 0l6-6M1228 313l6 6m-6 0l6-6M1229 316l5 5m-5 0l5-5M1229 318l5 5m-5 0l5-5M1230 304l5 5m-5 0l5-5M1230 308l5 5m-5 0l5-5M1230 308l6 6m-6 0l6-6M1231 316l5 5m-5 0l5-5M1231 319l6 6m-6 0l6-6M1232 318l5 5m-5 0l5-5M1232 296l6 6m-6 0l6-6M1233 316l5 5m-5 0l5-5M1232 303l6 6m-6 0l6-6M1233 305l6 6m-6 0l6-6M1233 302l6 6m-6 0l6-6M1234 313l5 5m-5 0l5-5M1234 314l6 6m-6 0l6-6M1235 320l6 6m-6 0l6-6M1235 314l6 6m-6 0l6-6M1236 308l6 6m-6 0l6-6M1236 303l6 6m-6 0l6-6M1236 314l6 6m-6 0l6-6M1237 309l5 5m-5 0l5-5M1238 306l5 5m-5 0l5-5M1238 299l5 5m-5 0l5-5M1238 314l6 6m-6 0l6-6M1239 309l5 5m-5 0l5-5M1239 307l5 5m-5 0l5-5M1239 311l6 6m-6 0l6-6M1240 301l6 6m-6 0l6-6M1240 310l6 6m-6 0l6-6M1241 314l5 5m-5 0l5-5M1242 315l5 5m-5 0l5-5M1242 313l5 5m-5 0l5-5M1242 316l6 6m-6 0l6-6M1242 305l6 6m-6 0l6-6M1243 313l6 6m-6 0l6-6M1243 314l6 6m-6 0l6-6M1244 313l5 5m-5 0l5-5M1244 323l6 6m-6 0l6-6M1245 317l5 5m-5 0l5-5M1246 315l5 5m-5 0l5-5M1246 329l5 5m-5 0l5-5M1246 310l6 6m-6 0l6-6M1246 324l6 6m-6 0l6-6M1247 327l5 5m-5 0l5-5M1248 321l5 5m-5 0l5-5M1248 335l5 5m-5 0l5-5M1248 324l6 6m-6 0l6-6M1249 325l5 5m-5 0l5-5M1249 330l5 5m-5 0l5-5M1249 317l6 6m-6 0l6-6M1250 327l5 5m-5 0l5-5M1250 341l6 6m-6 0l6-6M1251 343l6 6m-6 0l6-6M1251 338l6 6m-6 0l6-6M1252 327l5 5m-5 0l5-5M1252 346l5 5m-5 0l5-5M1252 344l6 6m-6 0l6-6M1253 332l6 6m-6 0l6-6M1253 348l6 6m-6 0l6-6M1254 341l6 6m-6 0l6-6M1255 339l5 5m-5 0l5-5M1255 351l6 6m-6 0l6-6M1255 348l6 6m-6 0l6-6M1255 345l6 6m-6 0l6-6M1256 339l6 6m-6 0l6-6M1257 347l5 5m-5 0l5-5M1257 333l6 6m-6 0l6-6M1257 337l6 6m-6 0l6-6M1258 349l5 5m-5 0l5-5M1258 358l6 6m-6 0l6-6M1258 335l6 6m-6 0l6-6M1259 348l5 5m-5 0l5-5M1260 355l5 5m-5 0l5-5M1260 348l6 6m-6 0l6-6M1260 359l6 6m-6 0l6-6M1261 346l5 5m-5 0l5-5M1261 341l6 6m-6 0l6-6M1261 341l6 6m-6 0l6-6M1262 348l6 6m-6 0l6-6M1263 338l5 5m-5 0l5-5M1263 349l6 6m-6 0l6-6M1264 344l5 5m-5 0l5-5M1264 337l6 6m-6 0l6-6M1265 346l5 5m-5 0l5-5M1265 343l5 5m-5 0l5-5M1265 325l6 6m-6 0l6-6M1265 331l6 6m-6 0l6-6M1266 344l5 5m-5 0l5-5M1267 351l5 5m-5 0l5-5M1267 332l5 5m-5 0l5-5M1267 341l6 6m-6 0l6-6M1268 321l6 6m-6 0l6-6M1268 324l5 5m-5 0l5-5M1269 332l5 5m-5 0l5-5M1269 330l5 5m-5 0l5-5M1308 313l6 6m-6 0l6-6M1309 327l5 5m-5 0l5-5M1310 332l5 5m-5 0l5-5M1309 323l6 6m-6 0l6-6M1310 329l6 6m-6 0l6-6M1310 332l6 6m-6 0l6-6M1311 330l5 5m-5 0l5-5M1311 323l6 6m-6 0l6-6M1312 327l5 5m-5 0l5-5M1313 321l5 5m-5 0l5-5M1313 318l5 5m-5 0l5-5M1313 315l6 6m-6 0l6-6M1313 322l6 6m-6 0l6-6M1314 327l5 5m-5 0l5-5M1315 318l5 5m-5 0l5-5M1315 318l5 5m-5 0l5-5M1315 335l6 6m-6 0l6-6M1316 333l6 6m-6 0l6-6M1316 321l5 5m-5 0l5-5M1316 342l6 6m-6 0l6-6M1317 331l6 6m-6 0l6-6M1317 322l6 6m-6 0l6-6M1318 314l5 5m-5 0l5-5M1318 329l6 6m-6 0l6-6M1319 320l5 5m-5 0l5-5M1319 321l5 5m-5 0l5-5M1320 340l5 5m-5 0l5-5M1320 315l6 6m-6 0l6-6M1321 327l5 5m-5 0l5-5M1321 310l5 5m-5 0l5-5M1322 315l5 5m-5 0l5-5M1322 304l5 5m-5 0l5-5M1322 323l5 5m-5 0l5-5M1323 305l5 5m-5 0l5-5M1323 326l5 5m-5 0l5-5M1323 291l6 6m-6 0l6-6M1324 308l6 6m-6 0l6-6M1324 318l6 6m-6 0l6-6M1325 320l5 5m-5 0l5-5M1325 312l6 6m-6 0l6-6M1325 316l6 6m-6 0l6-6M1326 308l5 5m-5 0l5-5M1327 321l5 5m-5 0l5-5M1327 315l5 5m-5 0l5-5M1327 316l6 6m-6 0l6-6M1328 304l6 6m-6 0l6-6M1328 308l6 6m-6 0l6-6M1328 300l6 6m-6 0l6-6M1329 321l6 6m-6 0l6-6M1329 312l6 6m-6 0l6-6M1330 310l6 6m-6 0l6-6M1330 314l6 6m-6 0l6-6M1331 295l5 5m-5 0l5-5M1331 313l6 6m-6 0l6-6M1332 297l6 6m-6 0l6-6M1332 313l6 6m-6 0l6-6M1332 309l6 6m-6 0l6-6M1333 317l6 6m-6 0l6-6M1334 313l5 5m-5 0l5-5M1334 301l6 6m-6 0l6-6M1335 324l5 5m-5 0l5-5M1335 313l6 6m-6 0l6-6M1335 315l6 6m-6 0l6-6M1336 320l5 5m-5 0l5-5M1336 306l6 6m-6 0l6-6M1336 299l6 6m-6 0l6-6M1337 314l5 5m-5 0l5-5M1338 317l5 5m-5 0l5-5M1338 302l5 5m-5 0l5-5M1338 311l6 6m-6 0l6-6M1338 316l6 6m-6 0l6-6M1339 311l5 5m-5 0l5-5M1340 333l5 5m-5 0l5-5M1340 315l6 6m-6 0l6-6M1340 312l6 6m-6 0l6-6M1341 316l6 6m-6 0l6-6M1342 291l5 5m-5 0l5-5M1341 314l6 6m-6 0l6-6M1342 322l5 5m-5 0l5-5M1342 314l6 6m-6 0l6-6M1343 315l5 5m-5 0l5-5M1344 304l5 5m-5 0l5-5M1344 311l6 6m-6 0l6-6M1344 304l6 6m-6 0l6-6M1345 312l5 5m-5 0l5-5M1345 318l6 6m-6 0l6-6M1345 309l6 6m-6 0l6-6M1346 320l5 5m-5 0l5-5M1347 312l5 5m-5 0l5-5M1347 301l6 6m-6 0l6-6M1347 300l6 6m-6 0l6-6M1348 319l6 6m-6 0l6-6M1348 296l6 6m-6 0l6-6M1348 305l6 6m-6 0l6-6M1349 306l5 5m-5 0l5-5M1349 307l6 6m-6 0l6-6M1350 316l6 6m-6 0l6-6M1350 313l6 6m-6 0l6-6M1351 314l6 6m-6 0l6-6M1351 324l6 6m-6 0l6-6M1351 315l6 6m-6 0l6-6M1352 320l6 6m-6 0l6-6M1353 303l5 5m-5 0l5-5M1353 304l5 5m-5 0l5-5M1354 313l5 5m-5 0l5-5M1354 313l6 6m-6 0l6-6M1354 301l6 6m-6 0l6-6M1355 308l5 5m-5 0l5-5M1355 304l6 6m-6 0l6-6M1355 306l6 6m-6 0l6-6M1356 304l6 6m-6 0l6-6M1357 288l5 5m-5 0l5-5M1357 298l6 6m-6 0l6-6M1357 304l6 6m-6 0l6-6M1357 306l6 6m-6 0l6-6M1358 287l5 5m-5 0l5-5M1359 298l5 5m-5 0l5-5M1359 297l5 5m-5 0l5-5M1360 297l5 5m-5 0l5-5M1360 294l6 6m-6 0l6-6M1360 308l6 6m-6 0l6-6M1360 301l6 6m-6 0l6-6M1361 293l6 6m-6 0l6-6M1361 290l6 6m-6 0l6-6M1362 292l6 6m-6 0l6-6M1362 300l6 6m-6 0l6-6M1363 278l6 6m-6 0l6-6M1364 295l5 5m-5 0l5-5M1364 291l5 5m-5 0l5-5M1364 283l5 5m-5 0l5-5M1364 303l6 6m-6 0l6-6M1365 280l6 6m-6 0l6-6M1365 279l6 6m-6 0l6-6M1366 296l5 5m-5 0l5-5M1366 281l6 6m-6 0l6-6M1367 294l6 6m-6 0l6-6M1367 289l6 6m-6 0l6-6M1368 285l5 5m-5 0l5-5M1368 274l6 6m-6 0l6-6M1368 273l6 6m-6 0l6-6M1369 279l6 6m-6 0l6-6M1370 302l5 5m-5 0l5-5M1370 293l6 6m-6 0l6-6M1370 295l5 5m-5 0l5-5M1370 289l6 6m-6 0l6-6M1371 289l6 6m-6 0l6-6M1372 289l5 5m-5 0l5-5M1372 291l6 6m-6 0l6-6M1372 296l6 6m-6 0l6-6M1373 273l6 6m-6 0l6-6M1373 300l6 6m-6 0l6-6M1374 295l5 5m-5 0l5-5M1374 298l5 5m-5 0l5-5M1374 306l6 6m-6 0l6-6M1375 309l5 5m-5 0l5-5M1376 298l5 5m-5 0l5-5M1376 291l6 6m-6 0l6-6M1376 292l6 6m-6 0l6-6M1376 301l6 6m-6 0l6-6M1377 293l5 5m-5 0l5-5M1378 282l5 5m-5 0l5-5M1378 298l6 6m-6 0l6-6M1379 308l5 5m-5 0l5-5M1379 298l5 5m-5 0l5-5M1379 308l6 6m-6 0l6-6M1380 301l5 5m-5 0l5-5M1380 309l6 6m-6 0l6-6M1380 298l6 6m-6 0l6-6M1381 299l6 6m-6 0l6-6M1382 302l5 5m-5 0l5-5M1382 314l6 6m-6 0l6-6M1383 292l5 5m-5 0l5-5M1383 303l6 6m-6 0l6-6M1383 304l6 6m-6 0l6-6M1383 306l6 6m-6 0l6-6M1384 306l5 5m-5 0l5-5M1385 296l5 5m-5 0l5-5M1385 306l5 5m-5 0l5-5M1385 319l6 6m-6 0l6-6M1386 320l5 5m-5 0l5-5M1386 316l6 6m-6 0l6-6M1386 314l6 6m-6 0l6-6M1387 321l6 6m-6 0l6-6M1388 310l5 5m-5 0l5-5M1388 320l6 6m-6 0l6-6M1388 326l6 6m-6 0l6-6M1389 312l6 6m-6 0l6-6M1389 321l6 6m-6 0l6-6M1389 328l6 6m-6 0l6-6M1390 322l6 6m-6 0l6-6M1390 310l6 6m-6 0l6-6M1391 325l6 6m-6 0l6-6M1392 320l5 5m-5 0l5-5M1392 329l5 5m-5 0l5-5M1393 320l5 5m-5 0l5-5M1392 313l6 6m-6 0l6-6M1393 323l5 5m-5 0l5-5M1394 335l5 5m-5 0l5-5M1394 317l5 5m-5 0l5-5M1394 339l6 6m-6 0l6-6M1395 341l6 6m-6 0l6-6M1396 326l5 5m-5 0l5-5M1396 332l5 5m-5 0l5-5M1396 327l6 6m-6 0l6-6M1397 339l5 5m-5 0l5-5M1397 331l6 6m-6 0l6-6M1398 333l5 5m-5 0l5-5M1398 333l5 5m-5 0l5-5M1399 337l5 5m-5 0l5-5M1399 334l6 6m-6 0l6-6M1399 345l5 5m-5 0l5-5M1400 341l5 5m-5 0l5-5M1400 322l6 6m-6 0l6-6M1401 334l5 5m-5 0l5-5M1401 334l6 6m-6 0l6-6M1401 328l6 6m-6 0l6-6M1402 332l6 6m-6 0l6-6M1402 331l6 6m-6 0l6-6M1403 339l5 5m-5 0l5-5M1403 338l6 6m-6 0l6-6M1404 344l5 5m-5 0l5-5M1404 332l5 5m-5 0l5-5M1404 333l6 6m-6 0l6-6M1405 325l5 5m-5 0l5-5M1406 334l5 5m-5 0l5-5M1406 321l5 5m-5 0l5-5M1406 335l6 6m-6 0l6-6M1406 327l6 6m-6 0l6-6M1407 318l6 6m-6 0l6-6M1407 325l6 6m-6 0l6-6M1408 328l6 6m-6 0l6-6M1409 342l5 5m-5 0l5-5M1409 326l5 5m-5 0l5-5M1409 313l6 6m-6 0l6-6M1409 316l6 6m-6 0l6-6M1410 336l6 6m-6 0l6-6M1411 326l5 5m-5 0l5-5M1411 335l5 5m-5 0l5-5M1412 315l5 5m-5 0l5-5M1412 327l5 5m-5 0l5-5M1412 332l5 5m-5 0l5-5M1412 336l6 6m-6 0l6-6M1413 339l5 5m-5 0l5-5M1414 328l5 5m-5 0l5-5M1414 328l6 6m-6 0l6-6M1414 325l6 6m-6 0l6-6M1415 333l6 6m-6 0l6-6M1415 333l5 5m-5 0l5-5M1416 315l5 5m-5 0l5-5M1416 329l6 6m-6 0l6-6M1416 335l6 6m-6 0l6-6M1417 330l6 6m-6 0l6-6M1417 334l6 6m-6 0l6-6M1418 324l6 6m-6 0l6-6M1418 323l5 5m-5 0l5-5M1419 332l5 5m-5 0l5-5M1419 324l6 6m-6 0l6-6M1420 326l5 5m-5 0l5-5" stroke="#000" stroke-width="1" fill="none" shape-rendering="crispEdges"/>
<path clip-path="url(#c1)" d="M162.8 770.0L163.9 770.3L165.6 770.9L167.5 771.4L169.6 772.0L171.6 772.3L173.5 772.4L175.2 772.2L176.8 771.9L178.4 771.4L180.0 770.7L181.7 769.7L183.6 768.3L185.6 766.5L187.8 764.2L190.1 761.6L192.4 758.9L194.8 756.4L197.0 754.2L199.3 752.4L201.5 750.6L203.8 749.0L206.0 747.5L208.2 746.4L210.5 745.5L212.7 745.0L215.0 744.9L217.2 745.1L219.4 745.3L221.7 745.5L223.9 745.5L226.2 745.2L228.5 744.8L230.8 744.3L233.0 743.8L235.2 743.4L237.4 743.1L239.5 742.9L241.5 742.8L243.6 742.7L245.5 742.7L247.4 742.8L249.1 743.1L250.7 743.7L252.2 744.5L253.5 745.4L254.9 746.4L256.2 747.3L257.5 748.2L258.9 749.1L260.3 750.2L261.7 751.3L263.1 752.1L264.5 752.6L265.9 752.5L267.3 751.9L268.7 750.7L270.1 749.2L271.5 747.3L272.9 745.3L274.3 743.1L275.7 740.7L277.1 737.8L278.5 734.7L279.9 731.6L281.3 728.7L282.7 726.3L284.1 724.3L285.5 722.5L286.8 720.9L288.2 719.6L289.6 718.6L291.1 717.9L292.7 717.7L294.4 718.0L296.1 718.6L297.8 719.3L299.5 720.0L301.2 720.6L302.9 721.2L304.6 722.0L306.2 722.8L307.9 723.4L309.6 723.7L311.3 723.6L313.0 723.1L314.7 722.3L316.4 721.2L318.1 719.8L319.8 718.1L321.4 716.2L322.9 714.0L324.3 711.4L325.7 708.5L327.0 705.5L328.4 702.5L329.8 699.4L331.2 696.4L332.6 693.4L334.0 690.2L335.4 687.1L336.8 684.0L338.2 681.0L339.6 677.9L341.0 674.8L342.5 671.7L343.9 668.8L345.3 666.2L346.6 664.2L347.8 662.7L348.9 661.7L349.9 661.0L351.0 660.6L352.1 660.3L353.3 660.1L354.6 660.0L356.0 660.1L357.4 660.3L358.8 660.6L360.3 661.1L361.7 661.8L363.1 662.7L364.5 663.8L365.9 665.0L367.3 666.3L368.7 667.8L370.1 669.2L371.5 670.7L372.8 672.4L374.2 674.1L375.6 675.9L377.0 677.6L378.5 679.3L380.1 681.0L381.7 682.7L383.4 684.4L385.2 686.0L386.9 687.3L388.6 688.4L390.3 689.1L392.0 689.6L393.7 689.9L395.4 689.9L397.1 689.7L398.7 689.4L400.2 688.7L401.6 687.6L403.0 686.3L404.3 685.0L405.7 683.7L407.1 682.6L408.4 681.7L409.8 680.8L411.2 679.9L412.5 679.2L414.0 678.6L415.5 678.3L417.0 678.2L418.7 678.5L420.4 678.8L422.1 679.3L423.8 679.7L425.5 680.0L427.2 680.0L428.9 680.0L430.6 680.0L432.3 679.9L433.9 679.9L435.6 680.0L437.3 680.0L439.0 679.9L440.8 679.9L442.5 680.0L444.1 680.4L445.7 681.0L447.2 681.8L448.6 682.8L450.0 684.1L451.4 685.5L452.7 687.3L454.1 689.4L455.5 692.0L456.9 695.1L458.3 698.5L459.7 701.9L461.1 705.1L462.5 707.8L463.9 710.2L465.4 712.4L466.8 714.4L468.2 716.0L469.6 717.2L470.9 717.9L472.1 718.0L473.2 717.6L474.3 716.8L475.3 715.6L476.4 714.3L477.6 712.9L478.9 711.3L480.2 709.3L481.6 707.2L483.0 705.0L484.5 703.0L486.0 701.1L487.6 699.5L489.3 698.1L491.0 696.7L492.7 695.4L494.4 694.1L496.1 692.7L497.8 691.4L499.5 690.1L501.2 688.8L502.9 687.5L504.6 686.0L506.2 684.3L507.7 682.5L509.2 680.5L510.6 678.3L512.0 676.1L513.3 673.6L514.6 670.9L515.8 668.0L516.9 664.9L518.0 661.6L519.1 658.2L520.2 654.6L521.3 650.7L522.4 646.6L523.5 642.3L524.7 637.7L525.8 633.1L526.9 628.4L528.0 623.8L529.1 619.3L530.3 614.6L531.4 610.0L532.5 605.4L533.6 601.1L534.7 597.0L535.9 593.2L537.0 589.6L538.1 586.3L539.2 583.0L540.3 579.9L541.5 576.8L542.6 573.7L543.6 570.6L544.7 567.7L545.8 564.9L546.9 562.3L548.2 560.0L549.6 558.0L551.0 556.2L552.5 554.7L554.1 553.4L555.7 552.3L557.3 551.5L558.9 551.2L560.6 551.4L562.4 551.9L564.1 552.4L565.8 552.6L567.4 552.2L568.9 551.3L570.3 550.1L571.7 548.6L573.0 546.8L574.4 545.0L575.8 543.1L577.1 541.2L578.5 539.2L579.9 537.0L581.2 534.7L582.7 532.3L584.2 529.7L585.8 526.8L587.5 523.7L589.2 520.3L590.9 517.1L592.6 514.0L594.2 511.2L595.8 508.8L597.2 506.4L598.7 504.3L600.0 502.4L601.4 500.8L602.6 499.4L603.8 498.4L605.0 497.8L606.0 497.3L607.1 497.1L608.2 497.0L609.4 497.1L610.7 497.3L612.0 497.8L613.4 498.4L614.8 499.1L616.3 499.8L617.8 500.5L619.4 501.1L621.1 501.9L622.8 502.7L624.6 503.4L626.2 503.8L627.8 503.8L629.3 503.4L630.8 502.6L632.2 501.5L633.5 500.3L634.9 499.0L636.2 497.8L637.7 496.4L639.1 494.9L640.5 493.3L641.9 491.8L643.3 490.4L644.7 489.4L646.0 488.6L647.3 488.0L648.6 487.6L650.0 487.3L651.5 487.1L653.1 487.0L654.8 487.2L656.8 487.7L658.8 488.3L660.9 488.8L662.9 489.0L664.8 488.7L666.6 487.8L668.3 486.5L670.0 484.8L671.6 483.0L673.2 481.1L674.9 479.3L676.6 477.5L678.3 475.5L679.9 473.6L681.6 471.5L683.3 469.5L685.0 467.5L686.7 465.5L688.3 463.5L690.0 461.5L691.7 459.6L693.4 457.6L695.1 455.8L696.7 453.9L698.4 452.2L700.1 450.4L701.8 448.7L703.5 447.2L705.1 445.7L706.8 444.4L708.4 443.2L710.0 442.1L711.6 441.1L713.3 440.0L715.2 439.0L717.3 437.9L719.6 436.8L721.9 435.7L724.3 434.6L726.6 433.5L728.7 432.2L730.5 430.9L732.3 429.4L734.0 427.9L735.6 426.4L737.2 425.0L738.7 423.8L740.2 422.8L741.7 421.9L743.0 421.1L744.4 420.4L745.8 420.0L747.1 419.8L748.5 419.9L749.9 420.2L751.3 420.7L752.7 421.5L754.1 422.5L755.5 423.8L756.9 425.6L758.3 427.7L759.7 430.1L761.1 432.6L762.5 435.0L763.9 437.3L765.3 439.4L766.7 441.5L768.1 443.5L769.5 445.4L770.9 447.3L772.3 449.0L773.8 450.7L775.2 452.4L776.6 454.0L778.1 455.4L779.4 456.6L780.7 457.4L781.9 458.0L783.0 458.4L784.1 458.6L785.2 458.5L786.3 458.1L787.5 457.4L788.8 456.4L790.1 454.9L791.6 453.1L793.0 451.3L794.4 449.5L795.9 448.0L797.2 446.7L798.5 445.4L799.9 444.1L801.2 443.0L802.7 442.2L804.3 441.7L806.0 441.7L808.0 442.2L810.0 443.0L812.1 443.7L814.1 444.1L816.0 444.0L817.8 443.3L819.5 442.3L821.2 440.9L822.8 439.3L824.4 437.5L826.1 435.6L827.8 433.4L829.5 430.9L831.1 428.1L832.8 425.4L834.5 422.8L836.2 420.5L837.8 418.4L839.4 416.4L841.0 414.6L842.7 413.0L844.4 411.5L846.3 410.4L848.3 409.7L850.6 409.4L853.0 409.4L855.3 409.3L857.6 409.2L859.7 408.7L861.6 408.0L863.4 407.2L865.1 406.3L866.7 405.2L868.2 403.8L869.8 402.0L871.3 399.8L872.8 397.1L874.2 394.2L875.6 391.2L876.9 388.1L878.2 385.2L879.4 382.2L880.6 379.1L881.8 376.0L882.9 373.0L883.9 370.4L884.9 368.4L885.8 366.9L886.6 365.9L887.4 365.3L888.2 364.9L889.0 364.9L889.9 365.0L890.9 365.6L891.9 366.5L893.0 367.7L894.1 369.0L895.3 370.4L896.7 371.8L898.1 373.1L899.7 374.4L901.3 375.9L903.0 377.3L904.8 378.7L906.7 380.2L908.8 381.5L911.0 382.8L913.3 384.2L915.6 385.5L917.9 387.0L920.2 388.6L922.4 390.3L924.7 392.3L927.0 394.3L929.3 396.4L931.5 398.4L933.6 400.3L935.7 402.2L937.8 404.2L939.8 406.1L941.8 407.8L943.6 409.3L945.4 410.4L947.0 411.1L948.4 411.6L949.7 411.7L951.0 411.7L952.3 411.4L953.8 411.1L955.4 410.5L957.0 409.8L958.7 408.9L960.4 407.8L962.2 406.6L963.9 405.4L965.6 403.9L967.4 402.1L969.2 400.2L970.9 398.3L972.5 396.6L974.0 395.3L975.1 394.5L976.1 394.1L977.0 394.0L977.8 393.7L978.8 393.1L980.0 391.9L981.5 390.0L983.2 387.5L984.9 384.7L986.8 381.8L988.6 378.9L990.4 376.2L992.1 373.8L993.9 371.3L995.7 368.8L997.4 366.5L999.0 364.5L1000.5 362.8L1001.8 361.5L1002.9 360.4L1003.9 359.6L1005.0 359.0L1006.0 358.6L1007.2 358.4L1008.5 358.6L1009.8 359.1L1011.2 359.7L1012.6 360.5L1014.1 361.2L1015.6 361.8L1017.2 362.3L1018.8 362.8L1020.5 363.2L1022.3 363.5L1024.0 363.6L1025.7 363.5L1027.4 363.0L1029.1 362.1L1030.8 361.1L1032.5 360.0L1034.2 358.8L1035.8 357.8L1037.2 356.7L1038.6 355.7L1039.9 354.6L1041.2 353.5L1042.6 352.6L1044.2 351.7L1046.0 351.1L1048.0 350.7L1050.2 350.3L1052.3 349.9L1054.2 349.4L1055.9 348.7L1057.3 347.8L1058.5 347.0L1059.6 346.0L1060.6 344.8L1061.6 343.1L1062.6 341.0L1063.8 338.1L1065.0 334.5L1066.1 330.5L1067.3 326.4L1068.3 322.5L1069.4 319.1L1070.3 316.1L1071.1 313.2L1071.9 310.5L1072.7 308.0L1073.5 305.8L1074.4 304.0L1075.4 302.6L1076.4 301.7L1077.5 301.0L1078.6 300.6L1079.8 300.2L1081.1 300.0L1082.6 299.9L1084.3 300.0L1086.1 300.3L1087.8 300.5L1089.6 300.7L1091.2 300.6L1092.7 300.3L1094.2 299.7L1095.6 299.1L1097.0 298.4L1098.3 297.8L1099.6 297.3L1100.8 296.8L1102.0 296.3L1103.1 295.9L1104.2 295.6L1105.2 295.6L1106.3 295.9L1107.5 296.6L1108.6 297.5L1109.7 298.7L1110.8 300.2L1111.9 301.9L1113.1 304.0L1114.2 306.5L1115.3 309.5L1116.4 312.8L1117.5 316.2L1118.7 319.5L1119.8 322.5L1120.9 325.3L1121.9 328.0L1123.0 330.6L1124.1 333.1L1125.3 335.4L1126.5 337.6L1127.8 339.7L1129.2 341.6L1130.7 343.4L1132.2 345.1L1133.6 346.5L1134.9 347.7L1136.1 348.7L1137.2 349.5L1138.3 350.0L1139.3 350.4L1140.4 350.5L1141.6 350.4L1142.9 350.0L1144.3 349.3L1145.7 348.5L1147.2 347.3L1148.6 346.0L1150.0 344.3L1151.4 342.3L1152.8 339.9L1154.2 337.2L1155.6 334.5L1157.0 331.7L1158.4 329.2L1159.8 326.8L1161.2 324.3L1162.6 321.9L1164.0 319.6L1165.4 317.5L1166.8 315.8L1168.2 314.3L1169.6 313.1L1170.9 312.0L1172.3 311.2L1173.7 310.5L1175.2 310.1L1176.8 309.7L1178.5 309.6L1180.2 309.7L1181.9 309.9L1183.6 310.3L1185.3 310.7L1187.0 311.2L1188.7 311.8L1190.3 312.6L1192.0 313.4L1193.7 314.5L1195.4 315.8L1197.1 317.3L1198.7 319.2L1200.4 321.3L1202.1 323.4L1203.8 325.5L1205.5 327.5L1207.2 329.6L1208.9 331.8L1210.6 334.1L1212.3 336.1L1214.0 337.7L1215.5 338.6L1217.0 338.9L1218.5 338.7L1219.8 338.1L1221.2 337.1L1222.6 335.8L1223.9 334.2L1225.4 332.3L1226.8 329.8L1228.2 326.9L1229.7 324.1L1231.0 321.4L1232.3 319.1L1233.6 317.2L1234.7 315.3L1235.8 313.7L1236.9 312.3L1238.0 311.3L1239.1 310.7L1240.2 310.7L1241.3 311.0L1242.4 311.7L1243.5 312.7L1244.7 314.1L1245.8 315.8L1246.9 317.9L1248.0 320.6L1249.1 323.6L1250.3 326.8L1251.4 329.8L1252.5 332.6L1253.6 335.1L1254.7 337.7L1255.9 340.2L1257.0 342.5L1258.1 344.5L1259.2 346.0L1260.3 347.1L1261.5 347.9L1262.6 348.3L1263.8 348.4L1264.9 348.2L1265.9 347.7L1267.1 346.6L1268.2 344.8L1269.4 342.8L1270.4 340.7L1271.3 338.8L1272.0 337.6M1311.3 325.8L1312.6 325.5L1314.4 325.1L1316.6 324.6L1318.8 324.0L1321.1 323.3L1323.1 322.5L1324.8 321.5L1326.5 320.3L1328.2 319.0L1329.8 317.7L1331.5 316.6L1333.1 315.8L1334.8 315.3L1336.5 315.2L1338.2 315.2L1339.9 315.2L1341.5 315.3L1343.2 315.1L1344.9 314.8L1346.6 314.6L1348.3 314.2L1349.9 313.8L1351.6 313.2L1353.3 312.4L1355.0 311.3L1356.7 309.9L1358.3 308.4L1360.0 306.8L1361.7 305.3L1363.4 304.0L1365.1 302.8L1366.9 301.6L1368.6 300.5L1370.4 299.4L1372.0 298.6L1373.5 298.0L1374.8 297.5L1376.0 297.2L1377.0 297.0L1378.1 297.0L1379.1 297.3L1380.2 298.0L1381.3 298.9L1382.4 300.1L1383.4 301.5L1384.5 303.2L1385.7 305.2L1386.9 307.4L1388.2 310.0L1389.6 313.2L1391.0 316.6L1392.4 320.0L1393.9 323.1L1395.3 325.8L1396.7 328.2L1398.1 330.4L1399.5 332.4L1400.9 334.0L1402.3 335.2L1403.7 335.9L1405.1 336.0L1406.4 335.4L1407.8 334.4L1409.2 333.1L1410.6 331.9L1412.1 330.9L1413.9 330.0L1415.8 329.0L1417.8 328.1L1419.8 327.2L1421.4 326.4L1422.5 325.8" stroke="#1e90ff" stroke-width="3.7" fill="none" stroke-linejoin="round" stroke-linecap="butt" shape-rendering="crispEdges"/>
<path d="M421.4 659.3L440.0 691.6L402.8 691.6Z" stroke="#f00" stroke-width="3.6" fill="none" stroke-linejoin="miter" shape-rendering="crispEdges"/>
<text x="421.4" y="627.3" font-size="25" font-weight="bold" fill="#f00" text-anchor="middle">-309.6</text>
<path d="M606.7 475.0L625.3 507.3L588.1 507.3Z" stroke="#f00" stroke-width="3.6" fill="none" stroke-linejoin="miter" shape-rendering="crispEdges"/>
<text x="606.7" y="443.0" font-size="25" font-weight="bold" fill="#f00" text-anchor="middle">-296.8</text>
<path d="M792.0 431.8L810.6 464.1L773.4 464.1Z" stroke="#f00" stroke-width="3.6" fill="none" stroke-linejoin="miter" shape-rendering="crispEdges"/>
<text x="792.0" y="399.8" font-size="25" font-weight="bold" fill="#f00" text-anchor="middle">-293.8</text>
<path d="M977.3 371.3L995.9 403.6L958.7 403.6Z" stroke="#f00" stroke-width="3.6" fill="none" stroke-linejoin="miter" shape-rendering="crispEdges"/>
<text x="977.3" y="339.3" font-size="25" font-weight="bold" fill="#f00" text-anchor="middle">-289.6</text>
<path d="M1162.6 302.2L1181.2 334.5L1144.0 334.5Z" stroke="#f00" stroke-width="3.6" fill="none" stroke-linejoin="miter" shape-rendering="crispEdges"/>
<text x="1162.6" y="270.2" font-size="25" font-weight="bold" fill="#f00" text-anchor="middle">-284.8</text>
<path d="M1347.9 293.6L1366.5 325.8L1329.3 325.8Z" stroke="#f00" stroke-width="3.6" fill="none" stroke-linejoin="miter" shape-rendering="crispEdges"/>
<text x="1347.9" y="261.6" font-size="25" font-weight="bold" fill="#f00" text-anchor="middle">-284.2</text>
<rect x="162.5" y="125.5" width="1260.0" height="720.0" fill="none" stroke="#000" stroke-width="1" shape-rendering="crispEdges"/>
<text transform="translate(136.5,840.8) scale(1,1.035)" font-size="30" text-anchor="end"><tspan dy="2.8">−</tspan><tspan dy="-2.8">​</tspan>320</text>
<text transform="translate(136.5,768.8) scale(1,1.035)" font-size="30" text-anchor="end"><tspan dy="2.8">−</tspan><tspan dy="-2.8">​</tspan>315</text>
<text transform="translate(136.5,696.8) scale(1,1.035)" font-size="30" text-anchor="end"><tspan dy="2.8">−</tspan><tspan dy="-2.8">​</tspan>310</text>
<text transform="translate(136.5,624.8) scale(1,1.035)" font-size="30" text-anchor="end"><tspan dy="2.8">−</tspan><tspan dy="-2.8">​</tspan>305</text>
<text transform="translate(136.5,552.8) scale(1,1.035)" font-size="30" text-anchor="end"><tspan dy="2.8">−</tspan><tspan dy="-2.8">​</tspan>300</text>
<text transform="translate(136.5,480.8) scale(1,1.035)" font-size="30" text-anchor="end"><tspan dy="2.8">−</tspan><tspan dy="-2.8">​</tspan>295</text>
<text transform="translate(136.5,408.8) scale(1,1.035)" font-size="30" text-anchor="end"><tspan dy="2.8">−</tspan><tspan dy="-2.8">​</tspan>290</text>
<text transform="translate(136.5,336.8) scale(1,1.035)" font-size="30" text-anchor="end"><tspan dy="2.8">−</tspan><tspan dy="-2.8">​</tspan>285</text>
<text transform="translate(136.5,264.8) scale(1,1.035)" font-size="30" text-anchor="end"><tspan dy="2.8">−</tspan><tspan dy="-2.8">​</tspan>280</text>
<text transform="translate(136.5,192.8) scale(1,1.035)" font-size="30" text-anchor="end"><tspan dy="2.8">−</tspan><tspan dy="-2.8">​</tspan>275</text>
<path d="M162 126.0v-8M162 845.0v7M199 126.0v-8M199 845.0v7M236 126.0v-8M236 845.0v7M273 126.0v-15M273 845.0v14M310 126.0v-8M310 845.0v7M347 126.0v-8M347 845.0v7M384 126.0v-8M384 845.0v7M421 126.0v-8M421 845.0v7M458 126.0v-15M458 845.0v14M496 126.0v-8M496 845.0v7M533 126.0v-8M533 845.0v7M570 126.0v-8M570 845.0v7M607 126.0v-8M607 845.0v7M644 126.0v-15M644 845.0v14M681 126.0v-8M681 845.0v7M718 126.0v-8M718 845.0v7M755 126.0v-8M755 845.0v7M792 126.0v-8M792 845.0v7M829 126.0v-15M829 845.0v14M866 126.0v-8M866 845.0v7M903 126.0v-8M903 845.0v7M940 126.0v-8M940 845.0v7M977 126.0v-8M977 845.0v7M1014 126.0v-15M1014 845.0v14M1051 126.0v-8M1051 845.0v7M1088 126.0v-8M1088 845.0v7M1126 126.0v-8M1126 845.0v7M1163 126.0v-8M1163 845.0v7M1200 126.0v-15M1200 845.0v14M1237 126.0v-8M1237 845.0v7M1274 126.0v-8M1274 845.0v7M1311 126.0v-8M1311 845.0v7M1348 126.0v-8M1348 845.0v7M1385 126.0v-15M1385 845.0v14M1422 126.0v-8M1422 845.0v7M163.0 831h-15M1422.0 831h14M163.0 759h-15M1422.0 759h14M163.0 687h-15M1422.0 687h14M163.0 615h-15M1422.0 615h14M163.0 543h-15M1422.0 543h14M163.0 471h-15M1422.0 471h14M163.0 399h-15M1422.0 399h14M163.0 327h-15M1422.0 327h14M163.0 255h-15M1422.0 255h14M163.0 183h-15M1422.0 183h14" stroke="#000" stroke-width="2" fill="none" shape-rendering="crispEdges"/>
<text transform="translate(272.5,891.7) scale(1,1.035)" font-size="30" text-anchor="middle">61070</text>
<text transform="translate(457.8,891.7) scale(1,1.035)" font-size="30" text-anchor="middle">61075</text>
<text transform="translate(643.1,891.7) scale(1,1.035)" font-size="30" text-anchor="middle">61080</text>
<text transform="translate(828.4,891.7) scale(1,1.035)" font-size="30" text-anchor="middle">61085</text>
<text transform="translate(1013.7,891.7) scale(1,1.035)" font-size="30" text-anchor="middle">61090</text>
<text transform="translate(1198.9,891.7) scale(1,1.035)" font-size="30" text-anchor="middle">61095</text>
<text transform="translate(1384.2,891.7) scale(1,1.035)" font-size="30" text-anchor="middle">61100</text>
<text x="792.5" y="922.7" font-size="30" font-weight="bold" text-anchor="middle">Modified Julian Date</text>
<text transform="translate(59,485) rotate(-90)" font-size="30" font-weight="bold" text-anchor="middle">nanosecond</text>
<text x="199.3" y="808.5" font-size="30" font-weight="bold" xml:space="preserve" style="white-space:pre">GAL.GPI/Tai2602__HR01-PT13/099-005#_  2998/1_AV/L2U__CLB__________</text>
<path clip-path="url(#c2)" d="M160 1182l6 6m-6 0l6-6M160 1181l6 6m-6 0l6-6M161 1184l6 6m-6 0l6-6M162 1218l5 5m-5 0l5-5M162 1268l5 5m-5 0l5-5M162 1248l6 6m-6 0l6-6M162 1175l6 6m-6 0l6-6M163 1232l5 5m-5 0l5-5M163 1233l6 6m-6 0l6-6M164 1229l6 6m-6 0l6-6M165 1186l5 5m-5 0l5-5M164 1134l6 6m-6 0l6-6M165 1209l5 5m-5 0l5-5M165 1205l6 6m-6 0l6-6M166 1168l5 5m-5 0l5-5M166 1204l6 6m-6 0l6-6M167 1213l5 5m-5 0l5-5M168 1195l5 5m-5 0l5-5M167 1244l6 6m-6 0l6-6M168 1255l5 5m-5 0l5-5M169 1219l5 5m-5 0l5-5M169 1202l6 6m-6 0l6-6M170 1187l5 5m-5 0l5-5M170 1277l6 6m-6 0l6-6M170 1267l6 6m-6 0l6-6M171 1192l6 6m-6 0l6-6M171 1042l5 5m-5 0l5-5M171 1132l6 6m-6 0l6-6M172 1210l5 5m-5 0l5-5M173 1147l5 5m-5 0l5-5M173 1166l5 5m-5 0l5-5M174 1254l5 5m-5 0l5-5M174 1256l6 6m-6 0l6-6M174 1092l5 5m-5 0l5-5M174 1225l6 6m-6 0l6-6M175 1153l5 5m-5 0l5-5M176 1245l5 5m-5 0l5-5M176 1116l6 6m-6 0l6-6M176 1168l6 6m-6 0l6-6M177 1122l6 6m-6 0l6-6M178 1172l5 5m-5 0l5-5M177 1231l6 6m-6 0l6-6M178 1105l5 5m-5 0l5-5M178 1150l6 6m-6 0l6-6M179 1181l6 6m-6 0l6-6M179 1113l6 6m-6 0l6-6M180 1024l6 6m-6 0l6-6M180 1165l6 6m-6 0l6-6M180 1141l6 6m-6 0l6-6M181 1200l5 5m-5 0l5-5M182 1170l5 5m-5 0l5-5M182 1098l5 5m-5 0l5-5M183 1129l5 5m-5 0l5-5M183 1183l5 5m-5 0l5-5M184 1112l5 5m-5 0l5-5M183 1207l6 6m-6 0l6-6M184 1274l5 5m-5 0l5-5M185 1299l5 5m-5 0l5-5M185 1188l5 5m-5 0l5-5M185 1251l6 6m-6 0l6-6M186 1137l5 5m-5 0l5-5M186 1294l6 6m-6 0l6-6M187 1276l5 5m-5 0l5-5M187 1228l6 6m-6 0l6-6M187 1218l6 6m-6 0l6-6M188 1233l6 6m-6 0l6-6M189 1148l5 5m-5 0l5-5M189 1134l5 5m-5 0l5-5M189 1201l6 6m-6 0l6-6M190 1191l5 5m-5 0l5-5M190 1258l6 6m-6 0l6-6M190 1217l6 6m-6 0l6-6M191 1134l6 6m-6 0l6-6M192 1234l5 5m-5 0l5-5M192 1163l5 5m-5 0l5-5M192 1220l6 6m-6 0l6-6M193 1190l5 5m-5 0l5-5M193 1091l6 6m-6 0l6-6M194 1222l5 5m-5 0l5-5M194 1185l6 6m-6 0l6-6M195 1144l5 5m-5 0l5-5M195 1060l5 5m-5 0l5-5M195 1142l6 6m-6 0l6-6M196 1170l5 5m-5 0l5-5M196 1147l6 6m-6 0l6-6M196 1236l6 6m-6 0l6-6M197 1148l6 6m-6 0l6-6M197 1180l6 6m-6 0l6-6M198 1119l6 6m-6 0l6-6M198 1285l6 6m-6 0l6-6M199 1194l5 5m-5 0l5-5M199 1248l6 6m-6 0l6-6M199 1187l6 6m-6 0l6-6M200 1225l5 5m-5 0l5-5M200 1184l6 6m-6 0l6-6M201 1204l5 5m-5 0l5-5M202 1124l5 5m-5 0l5-5M202 1210l6 6m-6 0l6-6M202 1167l6 6m-6 0l6-6M203 1238l6 6m-6 0l6-6M203 1185l5 5m-5 0l5-5M203 1129l6 6m-6 0l6-6M204 1226l6 6m-6 0l6-6M205 1112l5 5m-5 0l5-5M205 1190l5 5m-5 0l5-5M205 1116l6 6m-6 0l6-6M206 1148l6 6m-6 0l6-6M206 1053l5 5m-5 0l5-5M206 1183l6 6m-6 0l6-6M207 1219l6 6m-6 0l6-6M208 1120l5 5m-5 0l5-5M208 1121l6 6m-6 0l6-6M208 1090l6 6m-6 0l6-6M209 1184l6 6m-6 0l6-6M209 1095l6 6m-6 0l6-6M209 1217l6 6m-6 0l6-6M210 1216l6 6m-6 0l6-6M211 1109l5 5m-5 0l5-5M211 1211l5 5m-5 0l5-5M211 1189l6 6m-6 0l6-6M212 1160l5 5m-5 0l5-5M212 1241l6 6m-6 0l6-6M213 1230l5 5m-5 0l5-5M213 1208l6 6m-6 0l6-6M214 1266l5 5m-5 0l5-5M214 1237l5 5m-5 0l5-5M214 1240l6 6m-6 0l6-6M215 1204l6 6m-6 0l6-6M216 1149l5 5m-5 0l5-5M216 1192l5 5m-5 0l5-5M216 1149l6 6m-6 0l6-6M216 1117l6 6m-6 0l6-6M217 1134l6 6m-6 0l6-6M217 1194l6 6m-6 0l6-6M218 1218l6 6m-6 0l6-6M218 1036l6 6m-6 0l6-6M219 1150l6 6m-6 0l6-6M219 1092l6 6m-6 0l6-6M219 1093l6 6m-6 0l6-6M220 1271l6 6m-6 0l6-6M221 1108l5 5m-5 0l5-5M221 1158l6 6m-6 0l6-6M221 1210l6 6m-6 0l6-6M222 1220l5 5m-5 0l5-5M222 1199l6 6m-6 0l6-6M222 1206l6 6m-6 0l6-6M223 1113l5 5m-5 0l5-5M223 1178l6 6m-6 0l6-6M224 1098l6 6m-6 0l6-6M224 1109l6 6m-6 0l6-6M225 1210l5 5m-5 0l5-5M225 1171l6 6m-6 0l6-6M225 1168l6 6m-6 0l6-6M226 1176l6 6m-6 0l6-6M227 1126l5 5m-5 0l5-5M227 1184l6 6m-6 0l6-6M228 1193l5 5m-5 0l5-5M228 1157l6 6m-6 0l6-6M228 1221l6 6m-6 0l6-6M229 1109l5 5m-5 0l5-5M229 1282l5 5m-5 0l5-5M229 1294l6 6m-6 0l6-6M230 1191l6 6m-6 0l6-6M230 1232l6 6m-6 0l6-6M231 1128l6 6m-6 0l6-6M231 1256l6 6m-6 0l6-6M232 1186l5 5m-5 0l5-5M232 1144l5 5m-5 0l5-5M232 1151l6 6m-6 0l6-6M233 1189l6 6m-6 0l6-6M234 1197l5 5m-5 0l5-5M234 1165l5 5m-5 0l5-5M235 1196l5 5m-5 0l5-5M235 1237l6 6m-6 0l6-6M235 1245l6 6m-6 0l6-6M235 1209l6 6m-6 0l6-6M236 1177l5 5m-5 0l5-5M236 1259l6 6m-6 0l6-6M237 1166l6 6m-6 0l6-6M237 1218l6 6m-6 0l6-6M238 1243l6 6m-6 0l6-6M238 1185l6 6m-6 0l6-6M239 1256l5 5m-5 0l5-5M239 1138l6 6m-6 0l6-6M239 1089l6 6m-6 0l6-6M240 1142l5 5m-5 0l5-5M241 1269l5 5m-5 0l5-5M241 1152l5 5m-5 0l5-5M241 1203l6 6m-6 0l6-6M242 1174l5 5m-5 0l5-5M242 1176l5 5m-5 0l5-5M242 1195l6 6m-6 0l6-6M243 1250l5 5m-5 0l5-5M244 1148l5 5m-5 0l5-5M244 1208l5 5m-5 0l5-5M244 1213l6 6m-6 0l6-6M244 1186l6 6m-6 0l6-6M245 1212l6 6m-6 0l6-6M245 1250l6 6m-6 0l6-6M246 1189l6 6m-6 0l6-6M246 1180l6 6m-6 0l6-6M247 1246l6 6m-6 0l6-6M248 1266l5 5m-5 0l5-5M247 1201l6 6m-6 0l6-6M248 1114l5 5m-5 0l5-5M249 1304l5 5m-5 0l5-5M249 1261l5 5m-5 0l5-5M250 1240l5 5m-5 0l5-5M250 1195l5 5m-5 0l5-5M250 1195l6 6m-6 0l6-6M251 1172l6 6m-6 0l6-6M251 1334l5 5m-5 0l5-5M251 1142l6 6m-6 0l6-6M252 1327l6 6m-6 0l6-6M253 1240l5 5m-5 0l5-5M253 1136l6 6m-6 0l6-6M253 1290l6 6m-6 0l6-6M254 1231l5 5m-5 0l5-5M254 1246l5 5m-5 0l5-5M254 1251l6 6m-6 0l6-6M255 1249l6 6m-6 0l6-6M256 1258l5 5m-5 0l5-5M256 1283l6 6m-6 0l6-6M257 1204l5 5m-5 0l5-5M257 1225l6 6m-6 0l6-6M257 1210l6 6m-6 0l6-6M257 1070l6 6m-6 0l6-6M258 1164l5 5m-5 0l5-5M258 1197l6 6m-6 0l6-6M259 1236l5 5m-5 0l5-5M260 1187l5 5m-5 0l5-5M260 1199l5 5m-5 0l5-5M261 1195l5 5m-5 0l5-5M260 1198l6 6m-6 0l6-6M261 1187l5 5m-5 0l5-5M262 1176l5 5m-5 0l5-5M262 1123l6 6m-6 0l6-6M262 1108l6 6m-6 0l6-6M263 1184l6 6m-6 0l6-6M263 1161l6 6m-6 0l6-6M263 1122l6 6m-6 0l6-6M264 1114l6 6m-6 0l6-6M265 1123l5 5m-5 0l5-5M265 1126l6 6m-6 0l6-6M265 1159l6 6m-6 0l6-6M266 1144l6 6m-6 0l6-6M266 1237l6 6m-6 0l6-6M267 1194l6 6m-6 0l6-6M267 1155l5 5m-5 0l5-5M268 1126l5 5m-5 0l5-5M268 1134l6 6m-6 0l6-6M268 1071l6 6m-6 0l6-6M269 1172l6 6m-6 0l6-6M269 1151l6 6m-6 0l6-6M270 1133l6 6m-6 0l6-6M270 1036l5 5m-5 0l5-5M270 1162l6 6m-6 0l6-6M271 1086l6 6m-6 0l6-6M271 1164l6 6m-6 0l6-6M272 1109l6 6m-6 0l6-6M272 1105l6 6m-6 0l6-6M273 1046l6 6m-6 0l6-6M274 1132l5 5m-5 0l5-5M273 1206l6 6m-6 0l6-6M274 1099l6 6m-6 0l6-6M274 1102l6 6m-6 0l6-6M275 1125l6 6m-6 0l6-6M276 1124l5 5m-5 0l5-5M276 1195l5 5m-5 0l5-5M276 1232l6 6m-6 0l6-6M277 1137l5 5m-5 0l5-5M277 1129l5 5m-5 0l5-5M277 1224l6 6m-6 0l6-6M278 1107l6 6m-6 0l6-6M278 1266l6 6m-6 0l6-6M279 1236l5 5m-5 0l5-5M279 1142l6 6m-6 0l6-6M280 1230l5 5m-5 0l5-5M280 1137l6 6m-6 0l6-6M280 1245l6 6m-6 0l6-6M281 1236l6 6m-6 0l6-6M282 1125l5 5m-5 0l5-5M282 1096l6 6m-6 0l6-6M282 1188l6 6m-6 0l6-6M283 1244l6 6m-6 0l6-6M283 1177l5 5m-5 0l5-5M284 1234l5 5m-5 0l5-5M284 1170l6 6m-6 0l6-6M285 1117l5 5m-5 0l5-5M285 1174l5 5m-5 0l5-5M285 1186l6 6m-6 0l6-6M286 1136l6 6m-6 0l6-6M286 1237l6 6m-6 0l6-6M287 1225l5 5m-5 0l5-5M287 1149l5 5m-5 0l5-5M288 1182l5 5m-5 0l5-5M288 1200l5 5m-5 0l5-5M289 1145l5 5m-5 0l5-5M289 1177l5 5m-5 0l5-5M289 1164l6 6m-6 0l6-6M289 1130l6 6m-6 0l6-6M290 1300l6 6m-6 0l6-6M290 1188l6 6m-6 0l6-6M291 1266l6 6m-6 0l6-6M292 1241l5 5m-5 0l5-5M292 1170l6 6m-6 0l6-6M292 1152l6 6m-6 0l6-6M292 1159l6 6m-6 0l6-6M293 1240l5 5m-5 0l5-5M293 1117l6 6m-6 0l6-6M294 1219l6 6m-6 0l6-6M295 1102l5 5m-5 0l5-5M295 1137l6 6m-6 0l6-6M296 1157l5 5m-5 0l5-5M296 1088l5 5m-5 0l5-5M296 1085l5 5m-5 0l5-5M297 1175l5 5m-5 0l5-5M297 1141l6 6m-6 0l6-6M298 1216l5 5m-5 0l5-5M298 1068l6 6m-6 0l6-6M299 1187l5 5m-5 0l5-5M299 1240l6 6m-6 0l6-6M299 1148l5 5m-5 0l5-5M299 1201l6 6m-6 0l6-6M300 1192l5 5m-5 0l5-5M301 1150l5 5m-5 0l5-5M301 1208l6 6m-6 0l6-6M301 1214l6 6m-6 0l6-6M302 1086l6 6m-6 0l6-6M302 1060l5 5m-5 0l5-5M302 1128l6 6m-6 0l6-6M303 1159l6 6m-6 0l6-6M303 1122l6 6m-6 0l6-6M304 1137l5 5m-5 0l5-5M305 1118l5 5m-5 0l5-5M305 1198l6 6m-6 0l6-6M305 1156l6 6m-6 0l6-6M305 1218l6 6m-6 0l6-6M306 1158l6 6m-6 0l6-6M306 1212l6 6m-6 0l6-6M307 1227l6 6m-6 0l6-6M307 1175l6 6m-6 0l6-6M308 1303l5 5m-5 0l5-5M308 1139l6 6m-6 0l6-6M309 1116l5 5m-5 0l5-5M309 1222l6 6m-6 0l6-6M310 1255l5 5m-5 0l5-5M310 1211l5 5m-5 0l5-5M311 1152l5 5m-5 0l5-5M311 1095l6 6m-6 0l6-6M311 1169l6 6m-6 0l6-6M312 1091l5 5m-5 0l5-5M312 1180l5 5m-5 0l5-5M312 1129l6 6m-6 0l6-6M313 1155l6 6m-6 0l6-6M314 1108l5 5m-5 0l5-5M314 1160l5 5m-5 0l5-5M314 1092l6 6m-6 0l6-6M315 1114l6 6m-6 0l6-6M315 1209l5 5m-5 0l5-5M315 1222l6 6m-6 0l6-6M316 1076l6 6m-6 0l6-6M316 1105l6 6m-6 0l6-6M317 1191l6 6m-6 0l6-6M317 1301l6 6m-6 0l6-6M318 1238l6 6m-6 0l6-6M318 1141l5 5m-5 0l5-5M319 1104l5 5m-5 0l5-5M319 1241l6 6m-6 0l6-6M320 1269l5 5m-5 0l5-5M320 1219l6 6m-6 0l6-6M321 1213l5 5m-5 0l5-5M321 1179l6 6m-6 0l6-6M321 1194l6 6m-6 0l6-6M321 1257l6 6m-6 0l6-6M322 1299l6 6m-6 0l6-6M322 1193l6 6m-6 0l6-6M323 1150l6 6m-6 0l6-6M323 1285l6 6m-6 0l6-6M324 1217l6 6m-6 0l6-6M324 1248l6 6m-6 0l6-6M325 1204l5 5m-5 0l5-5M325 1145l6 6m-6 0l6-6M326 1203l5 5m-5 0l5-5M326 1169l6 6m-6 0l6-6M326 1175l6 6m-6 0l6-6M327 1261l6 6m-6 0l6-6M328 1227l5 5m-5 0l5-5M328 1182l5 5m-5 0l5-5M328 1258l6 6m-6 0l6-6M328 1246l6 6m-6 0l6-6M329 1233l5 5m-5 0l5-5M330 1153l5 5m-5 0l5-5M330 1261l6 6m-6 0l6-6M331 1190l5 5m-5 0l5-5M331 1235l5 5m-5 0l5-5M331 1159l6 6m-6 0l6-6M331 1161l6 6m-6 0l6-6M332 1183l6 6m-6 0l6-6M333 1242l5 5m-5 0l5-5M333 1250l5 5m-5 0l5-5M334 1153l5 5m-5 0l5-5M334 1079l5 5m-5 0l5-5M334 1121l6 6m-6 0l6-6M334 1115l6 6m-6 0l6-6M335 1149l6 6m-6 0l6-6M335 1165l6 6m-6 0l6-6M336 1192l5 5m-5 0l5-5M337 1163l5 5m-5 0l5-5M337 1125l5 5m-5 0l5-5M337 1193l6 6m-6 0l6-6M338 1185l5 5m-5 0l5-5M338 1168l6 6m-6 0l6-6M338 1177l6 6m-6 0l6-6M339 1247l5 5m-5 0l5-5M339 1310l6 6m-6 0l6-6M340 1217l6 6m-6 0l6-6M341 1185l5 5m-5 0l5-5M340 1325l6 6m-6 0l6-6M341 1315l6 6m-6 0l6-6M341 1192l6 6m-6 0l6-6M342 1172l5 5m-5 0l5-5M342 1214l6 6m-6 0l6-6M343 1238l6 6m-6 0l6-6M343 1240l6 6m-6 0l6-6M343 1215l6 6m-6 0l6-6M344 1229l6 6m-6 0l6-6M344 1200l6 6m-6 0l6-6M345 1239l5 5m-5 0l5-5M345 1244l6 6m-6 0l6-6M346 1116l6 6m-6 0l6-6M346 1102l6 6m-6 0l6-6M347 1161l6 6m-6 0l6-6M347 1209l5 5m-5 0l5-5M347 1187l6 6m-6 0l6-6M348 1126l5 5m-5 0l5-5M349 1179l5 5m-5 0l5-5M349 1288l6 6m-6 0l6-6M350 1194l5 5m-5 0l5-5M350 1098l6 6m-6 0l6-6M350 1220l5 5m-5 0l5-5M351 1185l5 5m-5 0l5-5M351 1297l6 6m-6 0l6-6M352 1208l5 5m-5 0l5-5M352 1200l5 5m-5 0l5-5M353 1136l5 5m-5 0l5-5M353 1187l6 6m-6 0l6-6M353 1137l5 5m-5 0l5-5M354 1204l5 5m-5 0l5-5M354 1273l5 5m-5 0l5-5M354 1181l6 6m-6 0l6-6M355 1204l6 6m-6 0l6-6M355 1123l6 6m-6 0l6-6M356 1253l6 6m-6 0l6-6M357 1101l5 5m-5 0l5-5M357 1163l5 5m-5 0l5-5M357 1141l6 6m-6 0l6-6M357 1118l6 6m-6 0l6-6M358 1125l5 5m-5 0l5-5M359 1177l5 5m-5 0l5-5M359 1095l6 6m-6 0l6-6M360 1168l5 5m-5 0l5-5M360 1211l5 5m-5 0l5-5M360 1076l6 6m-6 0l6-6M361 1135l5 5m-5 0l5-5M361 1087l6 6m-6 0l6-6M361 1258l6 6m-6 0l6-6M362 1214l5 5m-5 0l5-5M362 1218l6 6m-6 0l6-6M363 1162l6 6m-6 0l6-6M363 1202l5 5m-5 0l5-5M363 1190l6 6m-6 0l6-6M364 1266l6 6m-6 0l6-6M364 1134l6 6m-6 0l6-6M365 1167l6 6m-6 0l6-6M366 1298l5 5m-5 0l5-5M366 1144l5 5m-5 0l5-5M366 1187l6 6m-6 0l6-6M367 1189l5 5m-5 0l5-5M367 1125l6 6m-6 0l6-6M367 1118l6 6m-6 0l6-6M368 1127l6 6m-6 0l6-6M369 1094l5 5m-5 0l5-5M369 1251l6 6m-6 0l6-6M369 1145l6 6m-6 0l6-6M369 1142l6 6m-6 0l6-6M370 1108l5 5m-5 0l5-5M370 1250l6 6m-6 0l6-6M371 1214l6 6m-6 0l6-6M371 1180l6 6m-6 0l6-6M372 1155l6 6m-6 0l6-6M373 1254l5 5m-5 0l5-5M372 1093l6 6m-6 0l6-6M373 1208l5 5m-5 0l5-5M373 1158l6 6m-6 0l6-6M374 1275l6 6m-6 0l6-6M374 1197l6 6m-6 0l6-6M375 1191l6 6m-6 0l6-6M376 1251l5 5m-5 0l5-5M376 1183l5 5m-5 0l5-5M376 1134l6 6m-6 0l6-6M376 1195l6 6m-6 0l6-6M377 1172l6 6m-6 0l6-6M378 1169l5 5m-5 0l5-5M378 1135l5 5m-5 0l5-5M379 1158l5 5m-5 0l5-5M379 1192l6 6m-6 0l6-6M379 1205l6 6m-6 0l6-6M379 1118l6 6m-6 0l6-6M380 1198l6 6m-6 0l6-6M380 1172l6 6m-6 0l6-6M381 1157l6 6m-6 0l6-6M381 1335l6 6m-6 0l6-6M382 1178l6 6m-6 0l6-6M382 1148l5 5m-5 0l5-5M382 1127l6 6m-6 0l6-6M383 1192l5 5m-5 0l5-5M384 1218l5 5m-5 0l5-5M384 1222l5 5m-5 0l5-5M384 1256l6 6m-6 0l6-6M385 1226l6 6m-6 0l6-6M385 1222l6 6m-6 0l6-6M386 1016l5 5m-5 0l5-5M386 1134l5 5m-5 0l5-5M387 1151l5 5m-5 0l5-5M387 1272l6 6m-6 0l6-6M388 1239l5 5m-5 0l5-5M388 1169l6 6m-6 0l6-6M389 1243l5 5m-5 0l5-5M389 1121l5 5m-5 0l5-5M389 1122l6 6m-6 0l6-6M390 1204l5 5m-5 0l5-5M390 1305l5 5m-5 0l5-5M390 1148l6 6m-6 0l6-6M391 1233l6 6m-6 0l6-6M391 1127l6 6m-6 0l6-6M391 1219l6 6m-6 0l6-6M392 1174l6 6m-6 0l6-6M392 1204l6 6m-6 0l6-6M393 1182l6 6m-6 0l6-6M394 1141l5 5m-5 0l5-5M394 1185l6 6m-6 0l6-6M394 1289l6 6m-6 0l6-6M395 1133l5 5m-5 0l5-5M395 1137l5 5m-5 0l5-5M395 1205l6 6m-6 0l6-6M396 1161l5 5m-5 0l5-5M397 1221l5 5m-5 0l5-5M397 1208l6 6m-6 0l6-6M397 1118l6 6m-6 0l6-6M398 1240l6 6m-6 0l6-6M398 1176l6 6m-6 0l6-6M398 1181l6 6m-6 0l6-6M399 1221l5 5m-5 0l5-5M399 1214l6 6m-6 0l6-6M400 1094l5 5m-5 0l5-5M401 1155l5 5m-5 0l5-5M401 1251l6 6m-6 0l6-6M401 1182l5 5m-5 0l5-5M402 1113l5 5m-5 0l5-5M402 1291l5 5m-5 0l5-5M403 1252l5 5m-5 0l5-5M403 1195l5 5m-5 0l5-5M403 1163l6 6m-6 0l6-6M404 1136l5 5m-5 0l5-5M405 1148l5 5m-5 0l5-5M405 1168l5 5m-5 0l5-5M405 1245l6 6m-6 0l6-6M406 1207l5 5m-5 0l5-5M406 1176l6 6m-6 0l6-6M406 1139l6 6m-6 0l6-6M407 1125l6 6m-6 0l6-6M407 1154l6 6m-6 0l6-6M407 1158l6 6m-6 0l6-6M408 1128l6 6m-6 0l6-6M408 1079l6 6m-6 0l6-6M409 1067l5 5m-5 0l5-5M409 1093l6 6m-6 0l6-6M410 1136l6 6m-6 0l6-6M411 1099l5 5m-5 0l5-5M411 1206l6 6m-6 0l6-6M411 1123l6 6m-6 0l6-6M412 1122l5 5m-5 0l5-5M412 1236l6 6m-6 0l6-6M412 1200l6 6m-6 0l6-6M413 1164l5 5m-5 0l5-5M414 1134l5 5m-5 0l5-5M414 1146l6 6m-6 0l6-6M414 1206l6 6m-6 0l6-6M414 1116l6 6m-6 0l6-6M415 1190l6 6m-6 0l6-6M415 1205l6 6m-6 0l6-6M416 1172l6 6m-6 0l6-6M416 1162l6 6m-6 0l6-6M417 1158l5 5m-5 0l5-5M417 1128l6 6m-6 0l6-6M417 1122l6 6m-6 0l6-6M418 1246l6 6m-6 0l6-6M418 1114l6 6m-6 0l6-6M419 1128l6 6m-6 0l6-6M419 1132l6 6m-6 0l6-6M420 1162l6 6m-6 0l6-6M420 1220l6 6m-6 0l6-6M420 1220l6 6m-6 0l6-6M421 1164l6 6m-6 0l6-6M421 1240l6 6m-6 0l6-6M422 1211l6 6m-6 0l6-6M422 1120l6 6m-6 0l6-6M423 1146l6 6m-6 0l6-6M423 1147l6 6m-6 0l6-6M424 1226l5 5m-5 0l5-5M424 1259l6 6m-6 0l6-6M424 1241l6 6m-6 0l6-6M425 1183l6 6m-6 0l6-6M425 1299l6 6m-6 0l6-6M426 1205l5 5m-5 0l5-5M426 1199l6 6m-6 0l6-6M427 1303l6 6m-6 0l6-6M427 1109l6 6m-6 0l6-6M427 1243l6 6m-6 0l6-6M428 1217l5 5m-5 0l5-5M428 1134l6 6m-6 0l6-6M429 1168l6 6m-6 0l6-6M429 1197l6 6m-6 0l6-6M430 1153l5 5m-5 0l5-5M430 1236l6 6m-6 0l6-6M431 1145l5 5m-5 0l5-5M431 1233l6 6m-6 0l6-6M432 1211l5 5m-5 0l5-5M432 1281l6 6m-6 0l6-6M432 1144l6 6m-6 0l6-6M433 1233l6 6m-6 0l6-6M433 1230l5 5m-5 0l5-5M434 1143l5 5m-5 0l5-5M434 1220l6 6m-6 0l6-6M434 1247l6 6m-6 0l6-6M435 1141l5 5m-5 0l5-5M436 1284l5 5m-5 0l5-5M436 1263l6 6m-6 0l6-6M436 1297l6 6m-6 0l6-6M436 1219l6 6m-6 0l6-6M437 1241l6 6m-6 0l6-6M437 1257l6 6m-6 0l6-6M438 1237l6 6m-6 0l6-6M438 1232l6 6m-6 0l6-6M439 1281l5 5m-5 0l5-5M440 1223l5 5m-5 0l5-5M439 1151l6 6m-6 0l6-6M440 1222l5 5m-5 0l5-5M440 1227l6 6m-6 0l6-6M441 1230l5 5m-5 0l5-5M442 1173l5 5m-5 0l5-5M442 1144l5 5m-5 0l5-5M442 1202l6 6m-6 0l6-6M443 1126l6 6m-6 0l6-6M443 1231l5 5m-5 0l5-5M444 1165l5 5m-5 0l5-5M444 1184l6 6m-6 0l6-6M444 1228l6 6m-6 0l6-6M445 1188l5 5m-5 0l5-5M445 1224l6 6m-6 0l6-6M446 1231l6 6m-6 0l6-6M446 1236l6 6m-6 0l6-6M447 1163l5 5m-5 0l5-5M447 1154l5 5m-5 0l5-5M447 1192l6 6m-6 0l6-6M448 1242l5 5m-5 0l5-5M449 1174l5 5m-5 0l5-5M449 1184l5 5m-5 0l5-5M449 1177l6 6m-6 0l6-6M450 1255l5 5m-5 0l5-5M450 1168l6 6m-6 0l6-6M450 1241l6 6m-6 0l6-6M451 1231l6 6m-6 0l6-6M452 1228l5 5m-5 0l5-5M452 1277l6 6m-6 0l6-6M452 1247l6 6m-6 0l6-6M452 1155l6 6m-6 0l6-6M453 1209l5 5m-5 0l5-5M454 1246l5 5m-5 0l5-5M454 1169l5 5m-5 0l5-5M454 1204l6 6m-6 0l6-6M455 1233l6 6m-6 0l6-6M455 1207l6 6m-6 0l6-6M456 1083l5 5m-5 0l5-5M456 1289l6 6m-6 0l6-6M456 1247l6 6m-6 0l6-6M457 1263l5 5m-5 0l5-5M458 1153l5 5m-5 0l5-5M458 1195l6 6m-6 0l6-6M458 1160l6 6m-6 0l6-6M459 1125l5 5m-5 0l5-5M459 1218l5 5m-5 0l5-5M460 1212l5 5m-5 0l5-5M460 1156l5 5m-5 0l5-5M460 1159l6 6m-6 0l6-6M461 1091l5 5m-5 0l5-5M462 1138l5 5m-5 0l5-5M462 1220l6 6m-6 0l6-6M462 1180l6 6m-6 0l6-6M462 1205l6 6m-6 0l6-6M463 1169l6 6m-6 0l6-6M464 1205l5 5m-5 0l5-5M464 1304l6 6m-6 0l6-6M464 1205l6 6m-6 0l6-6M465 1269l6 6m-6 0l6-6M465 1223l6 6m-6 0l6-6M466 1231l5 5m-5 0l5-5M466 1184l6 6m-6 0l6-6M466 1250l6 6m-6 0l6-6M467 1209l6 6m-6 0l6-6M468 1270l5 5m-5 0l5-5M468 1191l6 6m-6 0l6-6M468 1273l6 6m-6 0l6-6M468 1191l6 6m-6 0l6-6M469 1207l5 5m-5 0l5-5M469 1168l6 6m-6 0l6-6M470 1100l6 6m-6 0l6-6M470 1230l6 6m-6 0l6-6M471 1150l5 5m-5 0l5-5M472 1147l5 5m-5 0l5-5M472 1141l5 5m-5 0l5-5M472 1160l6 6m-6 0l6-6M472 1176l6 6m-6 0l6-6M473 1176l6 6m-6 0l6-6M473 1072l6 6m-6 0l6-6M474 1153l5 5m-5 0l5-5M474 1207l6 6m-6 0l6-6M475 1194l6 6m-6 0l6-6M475 1239l5 5m-5 0l5-5M475 1109l6 6m-6 0l6-6M476 1217l5 5m-5 0l5-5M476 1185l6 6m-6 0l6-6M477 1162l6 6m-6 0l6-6M477 1193l6 6m-6 0l6-6M478 1066l5 5m-5 0l5-5M478 1134l5 5m-5 0l5-5M479 1201l5 5m-5 0l5-5M479 1101l5 5m-5 0l5-5M480 1113l5 5m-5 0l5-5M480 1153l6 6m-6 0l6-6M481 1204l5 5m-5 0l5-5M481 1182l6 6m-6 0l6-6M481 1163l6 6m-6 0l6-6M482 1248l5 5m-5 0l5-5M482 1145l6 6m-6 0l6-6M483 1159l5 5m-5 0l5-5M483 1196l6 6m-6 0l6-6M483 1219l6 6m-6 0l6-6M484 1137l6 6m-6 0l6-6M485 1183l5 5m-5 0l5-5M484 1176l6 6m-6 0l6-6M485 1138l6 6m-6 0l6-6M485 1125l6 6m-6 0l6-6M486 1223l6 6m-6 0l6-6M486 1144l6 6m-6 0l6-6M487 1223l5 5m-5 0l5-5M487 1114l6 6m-6 0l6-6M488 1226l5 5m-5 0l5-5M488 1223l5 5m-5 0l5-5M488 1121l6 6m-6 0l6-6M489 1191l6 6m-6 0l6-6M490 1176l5 5m-5 0l5-5M490 1268l6 6m-6 0l6-6M490 1263l6 6m-6 0l6-6M490 1182l6 6m-6 0l6-6M491 1198l6 6m-6 0l6-6M491 1233l6 6m-6 0l6-6M492 1219l5 5m-5 0l5-5M493 1260l5 5m-5 0l5-5M493 1165l5 5m-5 0l5-5M494 1186l5 5m-5 0l5-5M494 1146l5 5m-5 0l5-5M494 1234l5 5m-5 0l5-5M494 1118l6 6m-6 0l6-6M495 1170l6 6m-6 0l6-6M496 1227l5 5m-5 0l5-5M496 1248l5 5m-5 0l5-5M497 1234l5 5m-5 0l5-5M497 1290l6 6m-6 0l6-6M497 1223l5 5m-5 0l5-5M497 1151l6 6m-6 0l6-6M498 1302l5 5m-5 0l5-5M499 1189l5 5m-5 0l5-5M499 1203l6 6m-6 0l6-6M500 1220l5 5m-5 0l5-5M500 1255l6 6m-6 0l6-6M500 1237l6 6m-6 0l6-6M501 1309l5 5m-5 0l5-5M501 1319l6 6m-6 0l6-6M501 1297l6 6m-6 0l6-6M502 1286l5 5m-5 0l5-5M502 1215l6 6m-6 0l6-6M503 1250l5 5m-5 0l5-5M503 1225l6 6m-6 0l6-6M503 1240l6 6m-6 0l6-6M504 1229l6 6m-6 0l6-6M505 1232l5 5m-5 0l5-5M505 1231l5 5m-5 0l5-5M505 1238l6 6m-6 0l6-6M506 1184l6 6m-6 0l6-6M506 1221l6 6m-6 0l6-6M506 1111l6 6m-6 0l6-6M507 1102l6 6m-6 0l6-6M507 1171l6 6m-6 0l6-6M508 1121l5 5m-5 0l5-5M509 1138l5 5m-5 0l5-5M509 1226l5 5m-5 0l5-5M510 1214l5 5m-5 0l5-5M510 1232l5 5m-5 0l5-5M510 1123l6 6m-6 0l6-6M510 1100l6 6m-6 0l6-6M511 1203l6 6m-6 0l6-6M511 1142l6 6m-6 0l6-6M512 1096l6 6m-6 0l6-6M512 1088l6 6m-6 0l6-6M513 1080l6 6m-6 0l6-6M513 1122l5 5m-5 0l5-5M513 1096l6 6m-6 0l6-6M514 1056l6 6m-6 0l6-6M515 1185l5 5m-5 0l5-5M515 1256l5 5m-5 0l5-5M515 1115l6 6m-6 0l6-6M516 1235l6 6m-6 0l6-6M517 1099l5 5m-5 0l5-5M516 1110l6 6m-6 0l6-6M517 1119l6 6m-6 0l6-6M517 1114l6 6m-6 0l6-6M518 1142l6 6m-6 0l6-6M518 1123l6 6m-6 0l6-6M519 1156l6 6m-6 0l6-6M519 1109l6 6m-6 0l6-6M520 1219l5 5m-5 0l5-5M520 1101l6 6m-6 0l6-6M521 1249l5 5m-5 0l5-5M521 1190l5 5m-5 0l5-5M522 1131l5 5m-5 0l5-5M522 1181l6 6m-6 0l6-6M522 1155l6 6m-6 0l6-6M522 1204l6 6m-6 0l6-6M523 1215l6 6m-6 0l6-6M523 1295l6 6m-6 0l6-6M524 1216l6 6m-6 0l6-6M524 1161l6 6m-6 0l6-6M525 1121l6 6m-6 0l6-6M525 1091l6 6m-6 0l6-6M526 1199l6 6m-6 0l6-6M526 1028l5 5m-5 0l5-5M526 1112l6 6m-6 0l6-6M527 1118l6 6m-6 0l6-6M527 1191l6 6m-6 0l6-6M528 1049l6 6m-6 0l6-6M529 1171l5 5m-5 0l5-5M529 1242l5 5m-5 0l5-5M529 1232l5 5m-5 0l5-5M530 1151l5 5m-5 0l5-5M530 1199l6 6m-6 0l6-6M530 1202l6 6m-6 0l6-6M531 1200l5 5m-5 0l5-5M532 1197l5 5m-5 0l5-5M532 1172l6 6m-6 0l6-6M533 1176l5 5m-5 0l5-5M532 1087l6 6m-6 0l6-6M533 1144l6 6m-6 0l6-6M533 1163l6 6m-6 0l6-6M534 1174l6 6m-6 0l6-6M535 1202l5 5m-5 0l5-5M535 1270l5 5m-5 0l5-5M536 1238l5 5m-5 0l5-5M535 1171l6 6m-6 0l6-6M536 1168l5 5m-5 0l5-5M537 1200l5 5m-5 0l5-5M537 1153l5 5m-5 0l5-5M538 1171l5 5m-5 0l5-5M538 1101l6 6m-6 0l6-6M538 1174l6 6m-6 0l6-6M538 1192l6 6m-6 0l6-6M539 1059l6 6m-6 0l6-6M540 1209l5 5m-5 0l5-5M540 1152l5 5m-5 0l5-5M540 1144l6 6m-6 0l6-6M541 1310l6 6m-6 0l6-6M541 1223l6 6m-6 0l6-6M542 1156l6 6m-6 0l6-6M542 1125l5 5m-5 0l5-5M542 1266l6 6m-6 0l6-6M543 1190l5 5m-5 0l5-5M543 1108l6 6m-6 0l6-6M544 1201l6 6m-6 0l6-6M544 1161l6 6m-6 0l6-6M545 1102l6 6m-6 0l6-6M545 1148l5 5m-5 0l5-5M546 1249l5 5m-5 0l5-5M546 1244l5 5m-5 0l5-5M547 1196l5 5m-5 0l5-5M547 1172l6 6m-6 0l6-6M547 1227l6 6m-6 0l6-6M548 1181l6 6m-6 0l6-6M548 1216l6 6m-6 0l6-6M548 1182l6 6m-6 0l6-6M549 1138l5 5m-5 0l5-5M550 1239l5 5m-5 0l5-5M550 1157l6 6m-6 0l6-6M551 1206l5 5m-5 0l5-5M551 1172l6 6m-6 0l6-6M551 1152l6 6m-6 0l6-6M552 1169l5 5m-5 0l5-5M552 1173l5 5m-5 0l5-5M553 1253l5 5m-5 0l5-5M553 1245l6 6m-6 0l6-6M554 1193l5 5m-5 0l5-5M554 1232l6 6m-6 0l6-6M554 1160l6 6m-6 0l6-6M555 1220l5 5m-5 0l5-5M555 1153l6 6m-6 0l6-6M555 1219l6 6m-6 0l6-6M556 1216l5 5m-5 0l5-5M557 1139l5 5m-5 0l5-5M557 1084l6 6m-6 0l6-6M557 1236l6 6m-6 0l6-6M558 1219l6 6m-6 0l6-6M558 1197l6 6m-6 0l6-6M558 1278l6 6m-6 0l6-6M559 1200l5 5m-5 0l5-5M559 1159l6 6m-6 0l6-6M560 1255l6 6m-6 0l6-6M560 1286l6 6m-6 0l6-6M561 1191l6 6m-6 0l6-6M561 1234l6 6m-6 0l6-6M562 1169l5 5m-5 0l5-5M562 1089l5 5m-5 0l5-5M563 1182l5 5m-5 0l5-5M563 1207l5 5m-5 0l5-5M563 1161l6 6m-6 0l6-6M564 1112l6 6m-6 0l6-6M565 1164l5 5m-5 0l5-5M564 1115l6 6m-6 0l6-6M565 1156l6 6m-6 0l6-6M565 1141l6 6m-6 0l6-6M566 1221l6 6m-6 0l6-6M566 1101l6 6m-6 0l6-6M567 1195l6 6m-6 0l6-6M567 1285l6 6m-6 0l6-6M568 1213l5 5m-5 0l5-5M568 1161l6 6m-6 0l6-6M569 1225l5 5m-5 0l5-5M569 1249l6 6m-6 0l6-6M570 1326l5 5m-5 0l5-5M570 1267l5 5m-5 0l5-5M571 1172l5 5m-5 0l5-5M570 1116l6 6m-6 0l6-6M571 1141l6 6m-6 0l6-6M572 1159l5 5m-5 0l5-5M572 1260l6 6m-6 0l6-6M572 1308l6 6m-6 0l6-6M573 1127l5 5m-5 0l5-5M574 1240l5 5m-5 0l5-5M574 1287l6 6m-6 0l6-6M574 1185l5 5m-5 0l5-5M574 1208l6 6m-6 0l6-6M575 1202l6 6m-6 0l6-6M575 1152l6 6m-6 0l6-6M576 1202l6 6m-6 0l6-6M577 1226l5 5m-5 0l5-5M577 1167l6 6m-6 0l6-6M577 1212l6 6m-6 0l6-6M577 1267l6 6m-6 0l6-6M578 1177l6 6m-6 0l6-6M578 1176l6 6m-6 0l6-6M579 1108l5 5m-5 0l5-5M579 1122l6 6m-6 0l6-6M580 1183l6 6m-6 0l6-6M581 1183l5 5m-5 0l5-5M581 1117l5 5m-5 0l5-5M581 1146l5 5m-5 0l5-5M581 1169l6 6m-6 0l6-6M582 1186l6 6m-6 0l6-6M583 1017l5 5m-5 0l5-5M583 1133l6 6m-6 0l6-6M584 1092l5 5m-5 0l5-5M583 1037l6 6m-6 0l6-6M584 1068l6 6m-6 0l6-6M584 1084l6 6m-6 0l6-6M585 1059l5 5m-5 0l5-5M586 1114l5 5m-5 0l5-5M586 1167l6 6m-6 0l6-6M586 1197l6 6m-6 0l6-6M586 1245l6 6m-6 0l6-6M587 1123l6 6m-6 0l6-6M587 1157l6 6m-6 0l6-6M588 1180l5 5m-5 0l5-5M588 1134l6 6m-6 0l6-6M589 1257l6 6m-6 0l6-6M590 1170l5 5m-5 0l5-5M590 1087l5 5m-5 0l5-5M590 1172l6 6m-6 0l6-6M591 1079l5 5m-5 0l5-5M591 1197l5 5m-5 0l5-5M591 1145l6 6m-6 0l6-6M592 1209l6 6m-6 0l6-6M592 1203l6 6m-6 0l6-6M593 1128l6 6m-6 0l6-6M593 1144l5 5m-5 0l5-5M593 1159l6 6m-6 0l6-6M594 1263l5 5m-5 0l5-5M594 1212l6 6m-6 0l6-6M595 1239l6 6m-6 0l6-6M596 1280l5 5m-5 0l5-5M596 1271l5 5m-5 0l5-5M597 1185l5 5m-5 0l5-5M597 1259l5 5m-5 0l5-5M597 1198l6 6m-6 0l6-6M598 1148l5 5m-5 0l5-5M598 1166l6 6m-6 0l6-6M598 1232l6 6m-6 0l6-6M599 1166l6 6m-6 0l6-6M599 1278l6 6m-6 0l6-6M600 1247l5 5m-5 0l5-5M600 1306l6 6m-6 0l6-6M600 1233l6 6m-6 0l6-6M601 1235l6 6m-6 0l6-6M601 1258l6 6m-6 0l6-6M602 1243l6 6m-6 0l6-6M603 1176l5 5m-5 0l5-5M603 1165l5 5m-5 0l5-5M603 1276l5 5m-5 0l5-5M604 1195l5 5m-5 0l5-5M604 1208l5 5m-5 0l5-5M604 1259l6 6m-6 0l6-6M605 1122l5 5m-5 0l5-5M605 1138l6 6m-6 0l6-6M606 1239l6 6m-6 0l6-6M606 1239l6 6m-6 0l6-6M607 1238l5 5m-5 0l5-5M607 1063l6 6m-6 0l6-6M608 1129l5 5m-5 0l5-5M608 1066l6 6m-6 0l6-6M609 1318l5 5m-5 0l5-5M609 1174l6 6m-6 0l6-6M609 1227l6 6m-6 0l6-6M609 1226l6 6m-6 0l6-6M610 1194l5 5m-5 0l5-5M611 1181l5 5m-5 0l5-5M611 1174l6 6m-6 0l6-6M611 1122l6 6m-6 0l6-6M612 1247l5 5m-5 0l5-5M612 1155l6 6m-6 0l6-6M612 1203l6 6m-6 0l6-6M613 1109l5 5m-5 0l5-5M614 1120l5 5m-5 0l5-5M614 1165l6 6m-6 0l6-6M615 1188l5 5m-5 0l5-5M615 1176l6 6m-6 0l6-6M616 1261l5 5m-5 0l5-5M615 1263l6 6m-6 0l6-6M616 1259l6 6m-6 0l6-6M616 1255l6 6m-6 0l6-6M617 1132l5 5m-5 0l5-5M617 1236l6 6m-6 0l6-6M618 1302l5 5m-5 0l5-5M619 1181l5 5m-5 0l5-5M618 1199l6 6m-6 0l6-6M619 1200l6 6m-6 0l6-6M619 1140l6 6m-6 0l6-6M620 1175l6 6m-6 0l6-6M620 1290l6 6m-6 0l6-6M621 1248l5 5m-5 0l5-5M622 1302l5 5m-5 0l5-5M622 1233l6 6m-6 0l6-6M622 1149l6 6m-6 0l6-6M622 1253l6 6m-6 0l6-6M623 1235l6 6m-6 0l6-6M624 1235l5 5m-5 0l5-5M624 1271l6 6m-6 0l6-6M624 1297l6 6m-6 0l6-6M625 1213l6 6m-6 0l6-6M625 1238l6 6m-6 0l6-6M625 1190l6 6m-6 0l6-6M626 1138l6 6m-6 0l6-6M627 1260l5 5m-5 0l5-5M627 1178l6 6m-6 0l6-6M628 1191l5 5m-5 0l5-5M628 1289l5 5m-5 0l5-5M629 1224l5 5m-5 0l5-5M629 1060l5 5m-5 0l5-5M629 1172l6 6m-6 0l6-6M630 1275l5 5m-5 0l5-5M630 1224l6 6m-6 0l6-6M631 1194l5 5m-5 0l5-5M631 1259l6 6m-6 0l6-6M631 1190l6 6m-6 0l6-6M632 1193l5 5m-5 0l5-5M632 1139l6 6m-6 0l6-6M632 1172l6 6m-6 0l6-6M633 1125l5 5m-5 0l5-5M633 1141l6 6m-6 0l6-6M634 1160l6 6m-6 0l6-6M634 1205l6 6m-6 0l6-6M634 1195l6 6m-6 0l6-6M635 1097l6 6m-6 0l6-6M636 1144l5 5m-5 0l5-5M636 1210l6 6m-6 0l6-6M636 1252l6 6m-6 0l6-6M637 1110l6 6m-6 0l6-6M637 1189l6 6m-6 0l6-6M638 1250l6 6m-6 0l6-6M638 1097l5 5m-5 0l5-5M639 1167l5 5m-5 0l5-5M639 1191l6 6m-6 0l6-6M639 1269l6 6m-6 0l6-6M640 1170l5 5m-5 0l5-5M641 1160l5 5m-5 0l5-5M641 1238l6 6m-6 0l6-6M641 1205l6 6m-6 0l6-6M642 1214l5 5m-5 0l5-5M642 1195l5 5m-5 0l5-5M642 1167l6 6m-6 0l6-6M643 1102l6 6m-6 0l6-6M643 1136l6 6m-6 0l6-6M644 1176l6 6m-6 0l6-6M644 1236l5 5m-5 0l5-5M645 1223l5 5m-5 0l5-5M645 1233l6 6m-6 0l6-6M645 1284l6 6m-6 0l6-6M646 1192l6 6m-6 0l6-6M647 1096l5 5m-5 0l5-5M647 1217l6 6m-6 0l6-6M647 1165l6 6m-6 0l6-6M647 1155l6 6m-6 0l6-6M648 1188l5 5m-5 0l5-5M648 1115l6 6m-6 0l6-6M649 1149l5 5m-5 0l5-5M649 1195l6 6m-6 0l6-6M650 1194l6 6m-6 0l6-6M650 1229l6 6m-6 0l6-6M650 1164l6 6m-6 0l6-6M651 1153l6 6m-6 0l6-6M652 1139l5 5m-5 0l5-5M652 1126l6 6m-6 0l6-6M652 1124l6 6m-6 0l6-6M653 1256l5 5m-5 0l5-5M654 1115l5 5m-5 0l5-5M654 1241l6 6m-6 0l6-6M654 1172l6 6m-6 0l6-6M654 1202l6 6m-6 0l6-6M655 1230l5 5m-5 0l5-5M655 1160l6 6m-6 0l6-6M656 1125l6 6m-6 0l6-6M657 1261l5 5m-5 0l5-5M657 1230l6 6m-6 0l6-6M657 1141l5 5m-5 0l5-5M658 1188l5 5m-5 0l5-5M658 1146l5 5m-5 0l5-5M659 1174l5 5m-5 0l5-5M659 1212l6 6m-6 0l6-6M659 1182l6 6m-6 0l6-6M660 1191l6 6m-6 0l6-6M660 1246l6 6m-6 0l6-6M660 1189l6 6m-6 0l6-6M661 1167l5 5m-5 0l5-5M661 1102l6 6m-6 0l6-6M662 1144l5 5m-5 0l5-5M663 1159l5 5m-5 0l5-5M663 1188l6 6m-6 0l6-6M664 1093l5 5m-5 0l5-5M663 1226l6 6m-6 0l6-6M664 1256l6 6m-6 0l6-6M664 1208l6 6m-6 0l6-6M665 1234l6 6m-6 0l6-6M665 1202l6 6m-6 0l6-6M666 1175l6 6m-6 0l6-6M667 1204l5 5m-5 0l5-5M667 1124l5 5m-5 0l5-5M667 1123l6 6m-6 0l6-6M667 1200l6 6m-6 0l6-6M668 1228l6 6m-6 0l6-6M668 1246l6 6m-6 0l6-6M669 1220l6 6m-6 0l6-6M669 1270l6 6m-6 0l6-6M670 1197l5 5m-5 0l5-5M670 1288l6 6m-6 0l6-6M670 1164l6 6m-6 0l6-6M671 1154l6 6m-6 0l6-6M671 1176l6 6m-6 0l6-6M672 1112l6 6m-6 0l6-6M672 1100l6 6m-6 0l6-6M673 1211l5 5m-5 0l5-5M673 1153l6 6m-6 0l6-6M674 1216l5 5m-5 0l5-5M674 1263l5 5m-5 0l5-5M674 1256l6 6m-6 0l6-6M675 1142l5 5m-5 0l5-5M675 1219l6 6m-6 0l6-6M676 1216l6 6m-6 0l6-6M676 1259l6 6m-6 0l6-6M677 1201l5 5m-5 0l5-5M677 1190l6 6m-6 0l6-6M677 1243l6 6m-6 0l6-6M678 1262l5 5m-5 0l5-5M679 1193l5 5m-5 0l5-5M679 1160l6 6m-6 0l6-6M679 1299l6 6m-6 0l6-6M679 1207l6 6m-6 0l6-6M680 1118l5 5m-5 0l5-5M681 1117l5 5m-5 0l5-5M681 1252l6 6m-6 0l6-6M682 1150l5 5m-5 0l5-5M682 1223l5 5m-5 0l5-5M682 1237l6 6m-6 0l6-6M683 1104l5 5m-5 0l5-5M683 1233l6 6m-6 0l6-6M683 1120l6 6m-6 0l6-6M684 1182l5 5m-5 0l5-5M684 1225l6 6m-6 0l6-6M685 1203l5 5m-5 0l5-5M685 1220l6 6m-6 0l6-6M686 1102l6 6m-6 0l6-6M686 1102l6 6m-6 0l6-6M687 1249l5 5m-5 0l5-5M687 1089l6 6m-6 0l6-6M687 1224l6 6m-6 0l6-6M688 1171l5 5m-5 0l5-5M688 1241l6 6m-6 0l6-6M689 1140l6 6m-6 0l6-6M689 1092l6 6m-6 0l6-6M690 1100l5 5m-5 0l5-5M690 1181l6 6m-6 0l6-6M690 1099l6 6m-6 0l6-6M691 1125l5 5m-5 0l5-5M691 1143l6 6m-6 0l6-6M692 1192l6 6m-6 0l6-6M692 1106l5 5m-5 0l5-5M693 1202l5 5m-5 0l5-5M693 1208l6 6m-6 0l6-6M694 1202l5 5m-5 0l5-5M694 1101l5 5m-5 0l5-5M695 1078l5 5m-5 0l5-5M695 1061l6 6m-6 0l6-6M695 1036l6 6m-6 0l6-6M696 1118l5 5m-5 0l5-5M696 1125l5 5m-5 0l5-5M696 1150l6 6m-6 0l6-6M697 1117l6 6m-6 0l6-6M697 1036l6 6m-6 0l6-6M698 1032l6 6m-6 0l6-6M699 1244l5 5m-5 0l5-5M698 1115l6 6m-6 0l6-6M699 1196l6 6m-6 0l6-6M699 1100l6 6m-6 0l6-6M700 1248l6 6m-6 0l6-6M700 1213l6 6m-6 0l6-6M701 1213l5 5m-5 0l5-5M701 1267l6 6m-6 0l6-6M702 1211l6 6m-6 0l6-6M702 1236l6 6m-6 0l6-6M702 1266l6 6m-6 0l6-6M703 1139l6 6m-6 0l6-6M703 1243l6 6m-6 0l6-6M704 1247l6 6m-6 0l6-6M704 1142l6 6m-6 0l6-6M705 1218l6 6m-6 0l6-6M705 1168l6 6m-6 0l6-6M705 1281l6 6m-6 0l6-6M706 1069l6 6m-6 0l6-6M706 1259l6 6m-6 0l6-6M707 1332l5 5m-5 0l5-5M708 1254l5 5m-5 0l5-5M708 1123l6 6m-6 0l6-6M708 1228l6 6m-6 0l6-6M708 1196l6 6m-6 0l6-6M709 1135l6 6m-6 0l6-6M709 1204l6 6m-6 0l6-6M710 1289l5 5m-5 0l5-5M710 1251l6 6m-6 0l6-6M711 1277l5 5m-5 0l5-5M711 1199l6 6m-6 0l6-6M711 1233l6 6m-6 0l6-6M712 1293l6 6m-6 0l6-6M713 1172l5 5m-5 0l5-5M713 1216l6 6m-6 0l6-6M713 1185l6 6m-6 0l6-6M714 1245l6 6m-6 0l6-6M714 1183l6 6m-6 0l6-6M714 1129l6 6m-6 0l6-6M715 1280l5 5m-5 0l5-5M716 1215l5 5m-5 0l5-5M716 1101l5 5m-5 0l5-5M717 1178l5 5m-5 0l5-5M717 1192l6 6m-6 0l6-6M718 1154l5 5m-5 0l5-5M718 1250l5 5m-5 0l5-5M718 1186l6 6m-6 0l6-6M718 1272l6 6m-6 0l6-6M719 1217l5 5m-5 0l5-5M719 1207l6 6m-6 0l6-6M720 1187l5 5m-5 0l5-5M720 1160l6 6m-6 0l6-6M721 1163l5 5m-5 0l5-5M721 1211l6 6m-6 0l6-6M721 1250l6 6m-6 0l6-6M722 1140l6 6m-6 0l6-6M723 1189l5 5m-5 0l5-5M723 1152l5 5m-5 0l5-5M723 1221l6 6m-6 0l6-6M724 1219l5 5m-5 0l5-5M724 1178l6 6m-6 0l6-6M725 1204l5 5m-5 0l5-5M725 1255l6 6m-6 0l6-6M725 1128l6 6m-6 0l6-6M726 1130l6 6m-6 0l6-6M726 1127l6 6m-6 0l6-6M727 1229l6 6m-6 0l6-6M727 1214l6 6m-6 0l6-6M728 1238l5 5m-5 0l5-5M728 1186l6 6m-6 0l6-6M729 1116l5 5m-5 0l5-5M729 1205l6 6m-6 0l6-6M730 1181l5 5m-5 0l5-5M730 1207l5 5m-5 0l5-5M731 1255l5 5m-5 0l5-5M730 1237l6 6m-6 0l6-6M731 1249l6 6m-6 0l6-6M731 1222l6 6m-6 0l6-6M732 1136l5 5m-5 0l5-5M733 1159l5 5m-5 0l5-5M733 1077l6 6m-6 0l6-6M733 1116l6 6m-6 0l6-6M734 1186l5 5m-5 0l5-5M734 1208l5 5m-5 0l5-5M734 1120l6 6m-6 0l6-6M735 1187l5 5m-5 0l5-5M735 1084l6 6m-6 0l6-6M736 1174l6 6m-6 0l6-6M737 1160l5 5m-5 0l5-5M737 1192l5 5m-5 0l5-5M737 1230l6 6m-6 0l6-6M737 1091l6 6m-6 0l6-6M738 1160l5 5m-5 0l5-5M739 1204l5 5m-5 0l5-5M739 1245l6 6m-6 0l6-6M739 1268l6 6m-6 0l6-6M740 1179l6 6m-6 0l6-6M740 1171l5 5m-5 0l5-5M740 1172l6 6m-6 0l6-6M741 1101l6 6m-6 0l6-6M742 1130l5 5m-5 0l5-5M742 1166l5 5m-5 0l5-5M742 1308l6 6m-6 0l6-6M743 1166l5 5m-5 0l5-5M743 1192l6 6m-6 0l6-6M743 1160l6 6m-6 0l6-6M744 1228l5 5m-5 0l5-5M744 1155l6 6m-6 0l6-6M745 1260l6 6m-6 0l6-6M745 1142l6 6m-6 0l6-6M746 1207l6 6m-6 0l6-6M747 1189l5 5m-5 0l5-5M746 1188l6 6m-6 0l6-6M747 1172l5 5m-5 0l5-5M747 1211l6 6m-6 0l6-6M748 1267l5 5m-5 0l5-5M748 1247l6 6m-6 0l6-6M749 1288l5 5m-5 0l5-5M749 1289l6 6m-6 0l6-6M750 1174l6 6m-6 0l6-6M750 1169l6 6m-6 0l6-6M751 1238l5 5m-5 0l5-5M751 1249l6 6m-6 0l6-6M751 1177l6 6m-6 0l6-6M752 1261l6 6m-6 0l6-6M752 1265l6 6m-6 0l6-6M753 1157l6 6m-6 0l6-6M753 1093l6 6m-6 0l6-6M753 1186l6 6m-6 0l6-6M754 1235l6 6m-6 0l6-6M754 1199l6 6m-6 0l6-6M755 1124l6 6m-6 0l6-6M755 1069l6 6m-6 0l6-6M756 1096l6 6m-6 0l6-6M756 1073l6 6m-6 0l6-6M756 1070l6 6m-6 0l6-6M757 1154l6 6m-6 0l6-6M758 1167l5 5m-5 0l5-5M758 1206l5 5m-5 0l5-5M759 1136l5 5m-5 0l5-5M759 1160l5 5m-5 0l5-5M759 1143l6 6m-6 0l6-6M759 1198l6 6m-6 0l6-6M760 1199l6 6m-6 0l6-6M760 1107l6 6m-6 0l6-6M761 1159l5 5m-5 0l5-5M761 1164l6 6m-6 0l6-6M762 1229l6 6m-6 0l6-6M763 1094l5 5m-5 0l5-5M762 1235l6 6m-6 0l6-6M763 1133l5 5m-5 0l5-5M763 1100l6 6m-6 0l6-6M764 1228l6 6m-6 0l6-6M765 1163l5 5m-5 0l5-5M765 1151l6 6m-6 0l6-6M765 1179l6 6m-6 0l6-6M766 1254l5 5m-5 0l5-5M766 1168l6 6m-6 0l6-6M766 1201l6 6m-6 0l6-6M767 1179l6 6m-6 0l6-6M767 1219l6 6m-6 0l6-6M768 1185l5 5m-5 0l5-5M768 1110l6 6m-6 0l6-6M769 1214l6 6m-6 0l6-6M769 1145l6 6m-6 0l6-6M769 1126l6 6m-6 0l6-6M770 1250l5 5m-5 0l5-5M771 1149l5 5m-5 0l5-5M771 1130l5 5m-5 0l5-5M771 1245l6 6m-6 0l6-6M772 1253l5 5m-5 0l5-5M772 1180l6 6m-6 0l6-6M772 1178l6 6m-6 0l6-6M773 1273l6 6m-6 0l6-6M773 1198l6 6m-6 0l6-6M774 1203l6 6m-6 0l6-6M775 1180l5 5m-5 0l5-5M775 1232l6 6m-6 0l6-6M776 1265l5 5m-5 0l5-5M775 1265l6 6m-6 0l6-6M776 1189l5 5m-5 0l5-5M776 1140l6 6m-6 0l6-6M777 1134l6 6m-6 0l6-6M778 1234l5 5m-5 0l5-5M778 1225l6 6m-6 0l6-6M779 1157l5 5m-5 0l5-5M778 1115l6 6m-6 0l6-6M779 1147l5 5m-5 0l5-5M779 1212l6 6m-6 0l6-6M780 1221l5 5m-5 0l5-5M780 1242l6 6m-6 0l6-6M781 1218l5 5m-5 0l5-5M781 1220l6 6m-6 0l6-6M782 1218l6 6m-6 0l6-6M782 1133l5 5m-5 0l5-5M783 1181l5 5m-5 0l5-5M783 1227l6 6m-6 0l6-6M784 1166l5 5m-5 0l5-5M784 1208l6 6m-6 0l6-6M784 1103l6 6m-6 0l6-6M785 1063l6 6m-6 0l6-6M785 1148l5 5m-5 0l5-5M785 1193l6 6m-6 0l6-6M786 1107l6 6m-6 0l6-6M787 1105l5 5m-5 0l5-5M787 1223l6 6m-6 0l6-6M787 1175l6 6m-6 0l6-6M788 1143l6 6m-6 0l6-6M788 1107l6 6m-6 0l6-6M789 1099l5 5m-5 0l5-5M789 1136l5 5m-5 0l5-5M790 1197l5 5m-5 0l5-5M790 1180l6 6m-6 0l6-6M790 1233l6 6m-6 0l6-6M791 1123l6 6m-6 0l6-6M791 1184l6 6m-6 0l6-6M791 1274l6 6m-6 0l6-6M792 1218l6 6m-6 0l6-6M793 1341l5 5m-5 0l5-5M793 1126l6 6m-6 0l6-6M793 1266l6 6m-6 0l6-6M794 1192l6 6m-6 0l6-6M794 1244l6 6m-6 0l6-6M794 1231l6 6m-6 0l6-6M795 1131l6 6m-6 0l6-6M796 1202l5 5m-5 0l5-5M796 1192l6 6m-6 0l6-6M796 1178l6 6m-6 0l6-6M797 1237l6 6m-6 0l6-6M797 1203l6 6m-6 0l6-6M798 1080l5 5m-5 0l5-5M798 1130l5 5m-5 0l5-5M798 1141l6 6m-6 0l6-6M799 1154l5 5m-5 0l5-5M799 1148l6 6m-6 0l6-6M800 1201l6 6m-6 0l6-6M800 1209l6 6m-6 0l6-6M801 1145l6 6m-6 0l6-6M801 1214l5 5m-5 0l5-5M802 1235l5 5m-5 0l5-5M802 1134l5 5m-5 0l5-5M802 1139l6 6m-6 0l6-6M803 1186l5 5m-5 0l5-5M803 1088l6 6m-6 0l6-6M804 1242l6 6m-6 0l6-6M804 1184l6 6m-6 0l6-6M804 1250l6 6m-6 0l6-6M805 1162l6 6m-6 0l6-6M805 1191l6 6m-6 0l6-6M806 1141l5 5m-5 0l5-5M807 1246l5 5m-5 0l5-5M807 1147l5 5m-5 0l5-5M807 1163l6 6m-6 0l6-6M808 1134l5 5m-5 0l5-5M808 1106l5 5m-5 0l5-5M809 1128l5 5m-5 0l5-5M809 1164l5 5m-5 0l5-5M809 1141l6 6m-6 0l6-6M810 1178l5 5m-5 0l5-5M811 1165l5 5m-5 0l5-5M810 1078l6 6m-6 0l6-6M811 1211l6 6m-6 0l6-6M812 1272l5 5m-5 0l5-5M812 1253l6 6m-6 0l6-6M813 1233l5 5m-5 0l5-5M813 1235l5 5m-5 0l5-5M813 1179l6 6m-6 0l6-6M813 1166l6 6m-6 0l6-6M814 1235l6 6m-6 0l6-6M815 1160l5 5m-5 0l5-5M815 1239l6 6m-6 0l6-6M815 1159l6 6m-6 0l6-6M816 1205l6 6m-6 0l6-6M817 1206l5 5m-5 0l5-5M817 1248l6 6m-6 0l6-6M817 1192l6 6m-6 0l6-6M818 1224l5 5m-5 0l5-5M818 1116l6 6m-6 0l6-6M818 1266l6 6m-6 0l6-6M819 1227l5 5m-5 0l5-5M819 1227l6 6m-6 0l6-6M820 1099l6 6m-6 0l6-6M820 1247l5 5m-5 0l5-5M820 1121l6 6m-6 0l6-6M821 1141l6 6m-6 0l6-6M822 1202l5 5m-5 0l5-5M822 1164l6 6m-6 0l6-6M823 1231l5 5m-5 0l5-5M823 1272l6 6m-6 0l6-6M823 1240l6 6m-6 0l6-6M823 1240l6 6m-6 0l6-6M824 1188l6 6m-6 0l6-6M824 1238l6 6m-6 0l6-6M825 1186l6 6m-6 0l6-6M825 1199l6 6m-6 0l6-6M826 1083l6 6m-6 0l6-6M827 1123l5 5m-5 0l5-5M827 1283l5 5m-5 0l5-5M827 1195l5 5m-5 0l5-5M828 1268l5 5m-5 0l5-5M828 1141l6 6m-6 0l6-6M828 1197l6 6m-6 0l6-6M829 1196l6 6m-6 0l6-6M829 1191l6 6m-6 0l6-6M830 1221l5 5m-5 0l5-5M830 1314l5 5m-5 0l5-5M831 1203l5 5m-5 0l5-5M831 1235l6 6m-6 0l6-6M831 1197l6 6m-6 0l6-6M832 1114l6 6m-6 0l6-6M832 1165l6 6m-6 0l6-6M833 1199l5 5m-5 0l5-5M833 1161l6 6m-6 0l6-6M833 1155l6 6m-6 0l6-6M834 1210l5 5m-5 0l5-5M834 1292l6 6m-6 0l6-6M835 1245l5 5m-5 0l5-5M835 1126l6 6m-6 0l6-6M836 1083l5 5m-5 0l5-5M836 1173l6 6m-6 0l6-6M837 1217l5 5m-5 0l5-5M837 1162l6 6m-6 0l6-6M837 1135l6 6m-6 0l6-6M838 1187l5 5m-5 0l5-5M838 1146l6 6m-6 0l6-6M839 1174l6 6m-6 0l6-6M839 1243l6 6m-6 0l6-6M839 1076l6 6m-6 0l6-6M840 1133l6 6m-6 0l6-6M841 1145l5 5m-5 0l5-5M841 1204l6 6m-6 0l6-6M841 1234l6 6m-6 0l6-6M842 1129l6 6m-6 0l6-6M842 1107l6 6m-6 0l6-6M842 1152l6 6m-6 0l6-6M843 1139l6 6m-6 0l6-6M843 1222l6 6m-6 0l6-6M844 1053l6 6m-6 0l6-6M844 1191l6 6m-6 0l6-6M845 1155l6 6m-6 0l6-6M846 1146l5 5m-5 0l5-5M845 1180l6 6m-6 0l6-6M846 1217l5 5m-5 0l5-5M846 1192l6 6m-6 0l6-6M847 1066l6 6m-6 0l6-6M847 1149l6 6m-6 0l6-6M848 1163l5 5m-5 0l5-5M848 1155l6 6m-6 0l6-6M849 1084l6 6m-6 0l6-6M849 1204l6 6m-6 0l6-6M850 1133l5 5m-5 0l5-5M850 1190l6 6m-6 0l6-6M850 1160l6 6m-6 0l6-6M851 1215l6 6m-6 0l6-6M851 1104l6 6m-6 0l6-6M852 1194l6 6m-6 0l6-6M852 1148l6 6m-6 0l6-6M852 1197l6 6m-6 0l6-6M853 1096l6 6m-6 0l6-6M853 1222l6 6m-6 0l6-6M854 1102l5 5m-5 0l5-5M854 1110l6 6m-6 0l6-6M855 1241l5 5m-5 0l5-5M855 1097l6 6m-6 0l6-6M856 1129l5 5m-5 0l5-5M856 1072l6 6m-6 0l6-6M857 1055l5 5m-5 0l5-5M857 1172l6 6m-6 0l6-6M857 1178l6 6m-6 0l6-6M858 1165l6 6m-6 0l6-6M859 1205l5 5m-5 0l5-5M859 1129l5 5m-5 0l5-5M859 1241l5 5m-5 0l5-5M860 1198l5 5m-5 0l5-5M860 1198l6 6m-6 0l6-6M860 1133l6 6m-6 0l6-6M861 1281l6 6m-6 0l6-6M862 1123l5 5m-5 0l5-5M861 1163l6 6m-6 0l6-6M862 1200l5 5m-5 0l5-5M863 1089l5 5m-5 0l5-5M863 1203l5 5m-5 0l5-5M864 1158l5 5m-5 0l5-5M864 1185l5 5m-5 0l5-5M864 1130l6 6m-6 0l6-6M865 1229l6 6m-6 0l6-6M865 1184l5 5m-5 0l5-5M865 1106l6 6m-6 0l6-6M866 1202l6 6m-6 0l6-6M867 1201l5 5m-5 0l5-5M867 1199l6 6m-6 0l6-6M868 1166l5 5m-5 0l5-5M868 1302l6 6m-6 0l6-6M868 1303l6 6m-6 0l6-6M869 1246l5 5m-5 0l5-5M869 1291l6 6m-6 0l6-6M869 1251l6 6m-6 0l6-6M870 1224l5 5m-5 0l5-5M870 1333l6 6m-6 0l6-6M871 1293l5 5m-5 0l5-5M872 1310l5 5m-5 0l5-5M872 1277l5 5m-5 0l5-5M872 1189l5 5m-5 0l5-5M873 1165l5 5m-5 0l5-5M873 1201l6 6m-6 0l6-6M873 1257l6 6m-6 0l6-6M874 1249l6 6m-6 0l6-6M875 1119l5 5m-5 0l5-5M874 1226l6 6m-6 0l6-6M875 1201l6 6m-6 0l6-6M875 1234l6 6m-6 0l6-6M876 1183l5 5m-5 0l5-5M876 1110l6 6m-6 0l6-6M877 1071l6 6m-6 0l6-6M878 1190l5 5m-5 0l5-5M877 1173l6 6m-6 0l6-6M878 1262l5 5m-5 0l5-5M879 1193l5 5m-5 0l5-5M879 1219l5 5m-5 0l5-5M879 1239l6 6m-6 0l6-6M880 1156l6 6m-6 0l6-6M880 1225l6 6m-6 0l6-6M881 1271l5 5m-5 0l5-5M881 1049l6 6m-6 0l6-6M881 1161l6 6m-6 0l6-6M882 1142l6 6m-6 0l6-6M883 1167l5 5m-5 0l5-5M883 1194l6 6m-6 0l6-6M883 1169l6 6m-6 0l6-6M884 1233l5 5m-5 0l5-5M884 1180l5 5m-5 0l5-5M884 1202l6 6m-6 0l6-6M885 1202l6 6m-6 0l6-6M886 1109l5 5m-5 0l5-5M886 1084l5 5m-5 0l5-5M886 1148l6 6m-6 0l6-6M887 1191l6 6m-6 0l6-6M888 1113l5 5m-5 0l5-5M887 1222l6 6m-6 0l6-6M888 1083l6 6m-6 0l6-6M888 1137l6 6m-6 0l6-6M889 1136l6 6m-6 0l6-6M890 1232l5 5m-5 0l5-5M890 1232l6 6m-6 0l6-6M891 1189l5 5m-5 0l5-5M891 1208l5 5m-5 0l5-5M891 1203l6 6m-6 0l6-6M892 1101l5 5m-5 0l5-5M892 1110l5 5m-5 0l5-5M893 1200l5 5m-5 0l5-5M893 1135l6 6m-6 0l6-6M893 1196l6 6m-6 0l6-6M893 1101l6 6m-6 0l6-6M894 1203l5 5m-5 0l5-5M894 1116l6 6m-6 0l6-6M895 1153l5 5m-5 0l5-5M895 1149l6 6m-6 0l6-6M896 1202l5 5m-5 0l5-5M896 1136l6 6m-6 0l6-6M897 1196l6 6m-6 0l6-6M897 1237l6 6m-6 0l6-6M898 1271l5 5m-5 0l5-5M898 1248l6 6m-6 0l6-6M898 1142l6 6m-6 0l6-6M899 1284l6 6m-6 0l6-6M899 1244l6 6m-6 0l6-6M900 1286l6 6m-6 0l6-6M900 1282l6 6m-6 0l6-6M900 1341l6 6m-6 0l6-6M901 1210l6 6m-6 0l6-6M902 1237l5 5m-5 0l5-5M902 1125l6 6m-6 0l6-6M902 1241l6 6m-6 0l6-6M903 1255l6 6m-6 0l6-6M904 1251l5 5m-5 0l5-5M904 1087l5 5m-5 0l5-5M904 1170l5 5m-5 0l5-5M904 1170l6 6m-6 0l6-6M905 1177l6 6m-6 0l6-6M905 1211l6 6m-6 0l6-6M906 1111l6 6m-6 0l6-6M907 1227l5 5m-5 0l5-5M906 1212l6 6m-6 0l6-6M907 1218l6 6m-6 0l6-6M908 1125l5 5m-5 0l5-5M908 1258l6 6m-6 0l6-6M908 1193l6 6m-6 0l6-6M909 1137l5 5m-5 0l5-5M909 1134l6 6m-6 0l6-6M909 1221l6 6m-6 0l6-6M910 1144l6 6m-6 0l6-6M910 1250l6 6m-6 0l6-6M911 1153l6 6m-6 0l6-6M911 1182l6 6m-6 0l6-6M912 1202l6 6m-6 0l6-6M912 1094l6 6m-6 0l6-6M913 1133l6 6m-6 0l6-6M913 1160l6 6m-6 0l6-6M913 1291l6 6m-6 0l6-6M914 1108l5 5m-5 0l5-5M914 1131l6 6m-6 0l6-6M915 1104l6 6m-6 0l6-6M916 1145l5 5m-5 0l5-5M916 1176l5 5m-5 0l5-5M916 1086l6 6m-6 0l6-6M917 1225l5 5m-5 0l5-5M917 1224l6 6m-6 0l6-6M918 1182l5 5m-5 0l5-5M918 1160l6 6m-6 0l6-6M918 1254l6 6m-6 0l6-6M919 1126l6 6m-6 0l6-6M920 1104l5 5m-5 0l5-5M920 1178l5 5m-5 0l5-5M920 1188l6 6m-6 0l6-6M920 1156l6 6m-6 0l6-6M921 1016l6 6m-6 0l6-6M922 1135l5 5m-5 0l5-5M922 1150l6 6m-6 0l6-6M923 1158l5 5m-5 0l5-5M923 1197l5 5m-5 0l5-5M923 1188l5 5m-5 0l5-5M924 1245l5 5m-5 0l5-5M924 1168l5 5m-5 0l5-5M925 1205l5 5m-5 0l5-5M925 1233l6 6m-6 0l6-6M925 1207l6 6m-6 0l6-6M925 1058l6 6m-6 0l6-6M926 1192l6 6m-6 0l6-6M927 1149l5 5m-5 0l5-5M927 1173l6 6m-6 0l6-6M928 1260l5 5m-5 0l5-5M928 1185l6 6m-6 0l6-6M929 1246l5 5m-5 0l5-5M929 1180l5 5m-5 0l5-5M929 1100l5 5m-5 0l5-5M930 1206l5 5m-5 0l5-5M930 1103l6 6m-6 0l6-6M930 1149l6 6m-6 0l6-6M931 1157l6 6m-6 0l6-6M931 1179l6 6m-6 0l6-6M932 1182l5 5m-5 0l5-5M932 1202l5 5m-5 0l5-5M933 1145l5 5m-5 0l5-5M933 1194l5 5m-5 0l5-5M934 1172l5 5m-5 0l5-5M934 1088l6 6m-6 0l6-6M934 1133l6 6m-6 0l6-6M935 1221l5 5m-5 0l5-5M936 1132l5 5m-5 0l5-5M935 1144l6 6m-6 0l6-6M936 999l6 6m-6 0l6-6M937 1148l5 5m-5 0l5-5M937 1174l6 6m-6 0l6-6M938 1114l5 5m-5 0l5-5M938 1058l6 6m-6 0l6-6M939 1032l5 5m-5 0l5-5M938 1183l6 6m-6 0l6-6M939 1244l6 6m-6 0l6-6M939 1224l6 6m-6 0l6-6M940 1179l6 6m-6 0l6-6M941 1161l5 5m-5 0l5-5M941 1199l5 5m-5 0l5-5M941 1207l6 6m-6 0l6-6M942 1161l5 5m-5 0l5-5M942 1191l5 5m-5 0l5-5M942 1156l6 6m-6 0l6-6M943 1192l5 5m-5 0l5-5M944 999l5 5m-5 0l5-5M944 1243l5 5m-5 0l5-5M945 1174l5 5m-5 0l5-5M945 1053l6 6m-6 0l6-6M945 1053l6 6m-6 0l6-6M946 1200l5 5m-5 0l5-5M946 1097l6 6m-6 0l6-6M947 1056l5 5m-5 0l5-5M947 1156l6 6m-6 0l6-6M948 1160l5 5m-5 0l5-5M948 1177l6 6m-6 0l6-6M948 1233l6 6m-6 0l6-6M949 1174l5 5m-5 0l5-5M949 1202l5 5m-5 0l5-5M949 1141l6 6m-6 0l6-6M950 1202l6 6m-6 0l6-6M950 1203l6 6m-6 0l6-6M951 1206l5 5m-5 0l5-5M951 1242l6 6m-6 0l6-6M951 1156l6 6m-6 0l6-6M952 1189l5 5m-5 0l5-5M953 1128l5 5m-5 0l5-5M953 1135l5 5m-5 0l5-5M953 1087l6 6m-6 0l6-6M954 1192l6 6m-6 0l6-6M955 1208l5 5m-5 0l5-5M955 1147l5 5m-5 0l5-5M955 1052l5 5m-5 0l5-5M955 1169l6 6m-6 0l6-6M956 1152l5 5m-5 0l5-5M956 1205l6 6m-6 0l6-6M957 1193l6 6m-6 0l6-6M957 1164l6 6m-6 0l6-6M957 1217l6 6m-6 0l6-6M958 1226l5 5m-5 0l5-5M959 1197l5 5m-5 0l5-5M959 1303l5 5m-5 0l5-5M959 1223l6 6m-6 0l6-6M960 1279l6 6m-6 0l6-6M961 1063l5 5m-5 0l5-5M961 1152l5 5m-5 0l5-5M961 1191l6 6m-6 0l6-6M962 1237l5 5m-5 0l5-5M962 1135l6 6m-6 0l6-6M963 1115l5 5m-5 0l5-5M963 1084l5 5m-5 0l5-5M963 1136l6 6m-6 0l6-6M964 1136l6 6m-6 0l6-6M964 1107l5 5m-5 0l5-5M964 1156l6 6m-6 0l6-6M965 1183l6 6m-6 0l6-6M965 1202l6 6m-6 0l6-6M966 1123l5 5m-5 0l5-5M967 1122l5 5m-5 0l5-5M967 1211l6 6m-6 0l6-6M967 1167l5 5m-5 0l5-5M967 1207l6 6m-6 0l6-6M968 1111l6 6m-6 0l6-6M968 1159l6 6m-6 0l6-6M969 1092l5 5m-5 0l5-5M970 1174l5 5m-5 0l5-5M970 1173l5 5m-5 0l5-5M970 1176l6 6m-6 0l6-6M971 1151l5 5m-5 0l5-5M971 1104l6 6m-6 0l6-6M971 1259l6 6m-6 0l6-6M972 1156l6 6m-6 0l6-6M972 1179l6 6m-6 0l6-6M973 1147l6 6m-6 0l6-6M974 1142l5 5m-5 0l5-5M974 1157l5 5m-5 0l5-5M974 1142l6 6m-6 0l6-6M975 1150l5 5m-5 0l5-5M975 1316l6 6m-6 0l6-6M976 1218l5 5m-5 0l5-5M976 1111l6 6m-6 0l6-6M976 1202l6 6m-6 0l6-6M977 1109l5 5m-5 0l5-5M977 1133l6 6m-6 0l6-6M977 1189l6 6m-6 0l6-6M978 1150l5 5m-5 0l5-5M978 1209l6 6m-6 0l6-6M979 1169l6 6m-6 0l6-6M980 1215l5 5m-5 0l5-5M980 1130l6 6m-6 0l6-6M980 1148l6 6m-6 0l6-6M981 1221l5 5m-5 0l5-5M981 1179l5 5m-5 0l5-5M981 1149l6 6m-6 0l6-6M982 1148l5 5m-5 0l5-5M982 1127l6 6m-6 0l6-6M983 1063l6 6m-6 0l6-6M983 1180l5 5m-5 0l5-5M984 1103l5 5m-5 0l5-5M984 1234l6 6m-6 0l6-6M984 1104l6 6m-6 0l6-6M985 1204l6 6m-6 0l6-6M986 1174l5 5m-5 0l5-5M986 1150l6 6m-6 0l6-6M986 1191l6 6m-6 0l6-6M987 1179l5 5m-5 0l5-5M987 1235l6 6m-6 0l6-6M988 1109l5 5m-5 0l5-5M988 1160l6 6m-6 0l6-6M989 1216l5 5m-5 0l5-5M989 1138l5 5m-5 0l5-5M989 1230l6 6m-6 0l6-6M990 1207l5 5m-5 0l5-5M990 1142l6 6m-6 0l6-6M990 1087l6 6m-6 0l6-6M991 1150l6 6m-6 0l6-6M992 1111l5 5m-5 0l5-5M992 1106l6 6m-6 0l6-6M992 1182l6 6m-6 0l6-6M993 1182l5 5m-5 0l5-5M993 1144l6 6m-6 0l6-6M993 1111l6 6m-6 0l6-6M994 1096l6 6m-6 0l6-6M994 1134l6 6m-6 0l6-6M995 1171l5 5m-5 0l5-5M995 1141l6 6m-6 0l6-6M996 1140l6 6m-6 0l6-6M996 1233l6 6m-6 0l6-6M997 1215l5 5m-5 0l5-5M997 1112l6 6m-6 0l6-6M998 1064l5 5m-5 0l5-5M998 1094l6 6m-6 0l6-6M999 1154l5 5m-5 0l5-5M999 1098l5 5m-5 0l5-5M999 1259l5 5m-5 0l5-5M999 1201l6 6m-6 0l6-6M1000 1242l6 6m-6 0l6-6M1000 1233l6 6m-6 0l6-6M1001 1212l5 5m-5 0l5-5M1001 1112l6 6m-6 0l6-6M1002 1114l6 6m-6 0l6-6M1003 1088l5 5m-5 0l5-5M1003 1220l5 5m-5 0l5-5M1003 1128l5 5m-5 0l5-5M1004 1311l5 5m-5 0l5-5M1004 1108l6 6m-6 0l6-6M1005 1167l5 5m-5 0l5-5M1005 1186l5 5m-5 0l5-5M1005 1221l6 6m-6 0l6-6M1005 1253l6 6m-6 0l6-6M1006 1229l6 6m-6 0l6-6M1006 1230l6 6m-6 0l6-6M1007 1250l6 6m-6 0l6-6M1007 1103l6 6m-6 0l6-6M1008 1150l6 6m-6 0l6-6M1009 1303l5 5m-5 0l5-5M1009 1212l6 6m-6 0l6-6M1009 1172l5 5m-5 0l5-5M1010 1136l5 5m-5 0l5-5M1010 1156l6 6m-6 0l6-6M1011 1215l5 5m-5 0l5-5M1011 1191l5 5m-5 0l5-5M1011 1132l6 6m-6 0l6-6M1012 1098l6 6m-6 0l6-6M1012 1099l5 5m-5 0l5-5M1013 1134l5 5m-5 0l5-5M1013 1164l5 5m-5 0l5-5M1013 1240l6 6m-6 0l6-6M1014 1263l5 5m-5 0l5-5M1014 1175l6 6m-6 0l6-6M1015 1266l6 6m-6 0l6-6M1015 1261l6 6m-6 0l6-6M1016 1253l5 5m-5 0l5-5M1016 1206l6 6m-6 0l6-6M1017 1176l5 5m-5 0l5-5M1017 1241l6 6m-6 0l6-6M1018 1176l5 5m-5 0l5-5M1018 1238l6 6m-6 0l6-6M1019 1120l5 5m-5 0l5-5M1019 1246l5 5m-5 0l5-5M1019 1208l5 5m-5 0l5-5M1019 1191l6 6m-6 0l6-6M1020 1144l5 5m-5 0l5-5M1020 1244l6 6m-6 0l6-6M1021 1289l5 5m-5 0l5-5M1021 1242l6 6m-6 0l6-6M1022 1276l5 5m-5 0l5-5M1022 1170l6 6m-6 0l6-6M1022 1241l6 6m-6 0l6-6M1023 1131l5 5m-5 0l5-5M1023 1129l6 6m-6 0l6-6M1024 1254l6 6m-6 0l6-6M1024 1174l6 6m-6 0l6-6M1025 1263l6 6m-6 0l6-6M1025 1121l6 6m-6 0l6-6M1026 1106l5 5m-5 0l5-5M1026 1206l5 5m-5 0l5-5M1027 1203l5 5m-5 0l5-5M1027 1181l5 5m-5 0l5-5M1028 1157l5 5m-5 0l5-5M1028 1127l5 5m-5 0l5-5M1028 1214l6 6m-6 0l6-6M1028 1223l6 6m-6 0l6-6M1029 1144l6 6m-6 0l6-6M1029 1208l6 6m-6 0l6-6M1030 1274l6 6m-6 0l6-6M1031 1124l5 5m-5 0l5-5M1031 1145l6 6m-6 0l6-6M1031 1237l6 6m-6 0l6-6M1031 1199l6 6m-6 0l6-6M1032 1161l5 5m-5 0l5-5M1032 1211l6 6m-6 0l6-6M1033 1163l6 6m-6 0l6-6M1034 1193l5 5m-5 0l5-5M1034 1185l6 6m-6 0l6-6M1035 1219l5 5m-5 0l5-5M1035 1205l5 5m-5 0l5-5M1035 1235l6 6m-6 0l6-6M1036 1301l5 5m-5 0l5-5M1036 1292l5 5m-5 0l5-5M1037 1135l5 5m-5 0l5-5M1037 1202l6 6m-6 0l6-6M1038 1160l5 5m-5 0l5-5M1038 1130l5 5m-5 0l5-5M1038 1209l6 6m-6 0l6-6M1038 1254l6 6m-6 0l6-6M1039 1162l6 6m-6 0l6-6M1039 1159l6 6m-6 0l6-6M1040 1210l5 5m-5 0l5-5M1041 1109l5 5m-5 0l5-5M1041 1204l5 5m-5 0l5-5M1041 1152l5 5m-5 0l5-5M1041 1120l6 6m-6 0l6-6M1042 1156l5 5m-5 0l5-5M1043 1064l5 5m-5 0l5-5M1043 1184l5 5m-5 0l5-5M1043 1248l6 6m-6 0l6-6M1044 1092l6 6m-6 0l6-6M1044 1244l5 5m-5 0l5-5M1044 1185l6 6m-6 0l6-6M1045 1143l5 5m-5 0l5-5M1045 1222l6 6m-6 0l6-6M1046 1264l6 6m-6 0l6-6M1046 1192l6 6m-6 0l6-6M1047 1248l6 6m-6 0l6-6M1047 1231l5 5m-5 0l5-5M1047 1282l6 6m-6 0l6-6M1048 1161l5 5m-5 0l5-5M1048 1118l6 6m-6 0l6-6M1049 1215l5 5m-5 0l5-5M1050 1229l5 5m-5 0l5-5M1050 1241l5 5m-5 0l5-5M1051 1163l5 5m-5 0l5-5M1050 1168l6 6m-6 0l6-6M1051 1253l5 5m-5 0l5-5M1052 1180l5 5m-5 0l5-5M1052 1221l6 6m-6 0l6-6M1052 1145l6 6m-6 0l6-6M1053 1250l6 6m-6 0l6-6M1053 1192l6 6m-6 0l6-6M1054 1124l5 5m-5 0l5-5M1054 1143l5 5m-5 0l5-5M1055 1229l5 5m-5 0l5-5M1055 1194l6 6m-6 0l6-6M1055 1053l6 6m-6 0l6-6M1056 1118l6 6m-6 0l6-6M1056 1203l6 6m-6 0l6-6M1057 1186l5 5m-5 0l5-5M1057 1229l6 6m-6 0l6-6M1058 1184l5 5m-5 0l5-5M1058 1275l6 6m-6 0l6-6M1058 1156l6 6m-6 0l6-6M1059 1329l5 5m-5 0l5-5M1059 1170l6 6m-6 0l6-6M1060 1237l6 6m-6 0l6-6M1060 1207l6 6m-6 0l6-6M1060 1287l6 6m-6 0l6-6M1061 1184l6 6m-6 0l6-6M1061 1222l6 6m-6 0l6-6M1062 1155l5 5m-5 0l5-5M1062 1266l6 6m-6 0l6-6M1063 1164l5 5m-5 0l5-5M1063 1227l5 5m-5 0l5-5M1063 1283l6 6m-6 0l6-6M1064 1226l6 6m-6 0l6-6M1065 1166l5 5m-5 0l5-5M1065 1241l6 6m-6 0l6-6M1065 1103l6 6m-6 0l6-6M1066 1176l6 6m-6 0l6-6M1067 1048l5 5m-5 0l5-5M1066 1207l6 6m-6 0l6-6M1067 1083l6 6m-6 0l6-6M1068 1058l5 5m-5 0l5-5M1068 1153l6 6m-6 0l6-6M1069 1211l5 5m-5 0l5-5M1069 1192l5 5m-5 0l5-5M1070 1249l5 5m-5 0l5-5M1070 1187l5 5m-5 0l5-5M1070 1242l5 5m-5 0l5-5M1070 1263l6 6m-6 0l6-6M1071 1231l5 5m-5 0l5-5M1072 1101l5 5m-5 0l5-5M1072 1212l6 6m-6 0l6-6M1072 1164l6 6m-6 0l6-6M1073 1218l5 5m-5 0l5-5M1073 1227l6 6m-6 0l6-6M1074 1118l5 5m-5 0l5-5M1074 1166l5 5m-5 0l5-5M1074 1199l6 6m-6 0l6-6M1075 1148l6 6m-6 0l6-6M1076 1107l5 5m-5 0l5-5M1076 1134l6 6m-6 0l6-6M1076 1229l5 5m-5 0l5-5M1076 1220l6 6m-6 0l6-6M1077 1111l6 6m-6 0l6-6M1078 1198l5 5m-5 0l5-5M1078 1194l6 6m-6 0l6-6M1079 1181l5 5m-5 0l5-5M1079 1253l6 6m-6 0l6-6M1079 1134l5 5m-5 0l5-5M1080 1193l5 5m-5 0l5-5M1080 1258l6 6m-6 0l6-6M1080 1234l6 6m-6 0l6-6M1081 1229l6 6m-6 0l6-6M1082 1149l5 5m-5 0l5-5M1082 1142l6 6m-6 0l6-6M1082 1125l6 6m-6 0l6-6M1082 1204l6 6m-6 0l6-6M1083 1194l5 5m-5 0l5-5M1083 1169l6 6m-6 0l6-6M1084 1137l6 6m-6 0l6-6M1084 1270l6 6m-6 0l6-6M1085 1129l6 6m-6 0l6-6M1085 1158l6 6m-6 0l6-6M1086 1218l5 5m-5 0l5-5M1086 1150l6 6m-6 0l6-6M1086 1250l6 6m-6 0l6-6M1087 1193l5 5m-5 0l5-5M1087 1232l6 6m-6 0l6-6M1088 1196l6 6m-6 0l6-6M1089 1190l5 5m-5 0l5-5M1089 1216l6 6m-6 0l6-6M1089 1220l5 5m-5 0l5-5M1090 1120l5 5m-5 0l5-5M1090 1159l6 6m-6 0l6-6M1090 1291l6 6m-6 0l6-6M1091 1041l6 6m-6 0l6-6M1092 1140l5 5m-5 0l5-5M1092 1162l6 6m-6 0l6-6M1092 1177l6 6m-6 0l6-6M1092 1141l6 6m-6 0l6-6M1093 1156l6 6m-6 0l6-6M1094 1168l5 5m-5 0l5-5M1094 1072l6 6m-6 0l6-6M1094 1125l6 6m-6 0l6-6M1095 1189l5 5m-5 0l5-5M1095 1160l6 6m-6 0l6-6M1095 1171l6 6m-6 0l6-6M1096 1259l6 6m-6 0l6-6M1096 1152l6 6m-6 0l6-6M1097 1123l5 5m-5 0l5-5M1098 1259l5 5m-5 0l5-5M1098 1133l6 6m-6 0l6-6M1098 1137l6 6m-6 0l6-6M1099 1187l5 5m-5 0l5-5M1099 1076l6 6m-6 0l6-6M1099 1251l6 6m-6 0l6-6M1100 1100l5 5m-5 0l5-5M1101 1119l5 5m-5 0l5-5M1101 1163l6 6m-6 0l6-6M1101 1124l6 6m-6 0l6-6M1102 1304l5 5m-5 0l5-5M1102 1079l6 6m-6 0l6-6M1102 1173l6 6m-6 0l6-6M1103 1120l5 5m-5 0l5-5M1104 1152l5 5m-5 0l5-5M1104 1088l5 5m-5 0l5-5M1104 1163l6 6m-6 0l6-6M1105 1153l5 5m-5 0l5-5M1105 1181l6 6m-6 0l6-6M1105 1335l6 6m-6 0l6-6M1106 1147l5 5m-5 0l5-5M1107 1175l5 5m-5 0l5-5M1107 1177l6 6m-6 0l6-6M1107 1298l6 6m-6 0l6-6M1108 1206l5 5m-5 0l5-5M1108 1137l6 6m-6 0l6-6M1108 1167l6 6m-6 0l6-6M1109 1160l5 5m-5 0l5-5M1109 1210l6 6m-6 0l6-6M1110 1122l5 5m-5 0l5-5M1111 1137l5 5m-5 0l5-5M1111 1207l5 5m-5 0l5-5M1111 1242l5 5m-5 0l5-5M1111 1293l6 6m-6 0l6-6M1112 1222l5 5m-5 0l5-5M1112 1111l6 6m-6 0l6-6M1113 1226l6 6m-6 0l6-6M1113 1124l6 6m-6 0l6-6M1114 1228l6 6m-6 0l6-6M1114 1118l6 6m-6 0l6-6M1115 1125l5 5m-5 0l5-5M1115 1134l6 6m-6 0l6-6M1115 1181l6 6m-6 0l6-6M1116 1145l5 5m-5 0l5-5M1116 1085l6 6m-6 0l6-6M1117 1128l5 5m-5 0l5-5M1117 1213l6 6m-6 0l6-6M1117 1111l6 6m-6 0l6-6M1118 1148l6 6m-6 0l6-6M1119 1043l5 5m-5 0l5-5M1119 1261l6 6m-6 0l6-6M1120 1172l5 5m-5 0l5-5M1120 1202l6 6m-6 0l6-6M1121 1264l5 5m-5 0l5-5M1120 1188l6 6m-6 0l6-6M1121 1278l6 6m-6 0l6-6M1121 1136l6 6m-6 0l6-6M1122 1153l6 6m-6 0l6-6M1122 1183l6 6m-6 0l6-6M1123 1131l6 6m-6 0l6-6M1123 1252l6 6m-6 0l6-6M1124 1192l6 6m-6 0l6-6M1124 1242l6 6m-6 0l6-6M1124 1254l6 6m-6 0l6-6M1125 1178l5 5m-5 0l5-5M1125 1179l6 6m-6 0l6-6M1126 1087l6 6m-6 0l6-6M1127 1190l5 5m-5 0l5-5M1127 1095l6 6m-6 0l6-6M1127 1153l6 6m-6 0l6-6M1128 1108l5 5m-5 0l5-5M1128 1215l6 6m-6 0l6-6M1128 1118l6 6m-6 0l6-6M1129 1118l6 6m-6 0l6-6M1129 1011l6 6m-6 0l6-6M1130 1154l5 5m-5 0l5-5M1130 1211l6 6m-6 0l6-6M1130 1192l6 6m-6 0l6-6M1131 1190l5 5m-5 0l5-5M1131 1140l6 6m-6 0l6-6M1132 1254l6 6m-6 0l6-6M1133 1122l5 5m-5 0l5-5M1133 1022l6 6m-6 0l6-6M1133 1117l6 6m-6 0l6-6M1133 1133l6 6m-6 0l6-6M1134 1148l5 5m-5 0l5-5M1135 1115l5 5m-5 0l5-5M1135 1018l6 6m-6 0l6-6M1135 1199l6 6m-6 0l6-6M1136 1188l5 5m-5 0l5-5M1137 1199l5 5m-5 0l5-5M1136 1247l6 6m-6 0l6-6M1137 1119l6 6m-6 0l6-6M1137 1144l6 6m-6 0l6-6M1138 1218l6 6m-6 0l6-6M1138 1063l6 6m-6 0l6-6M1139 1164l5 5m-5 0l5-5M1139 1226l6 6m-6 0l6-6M1140 1209l5 5m-5 0l5-5M1140 1272l6 6m-6 0l6-6M1140 1221l6 6m-6 0l6-6M1141 1243l6 6m-6 0l6-6M1141 1221l6 6m-6 0l6-6M1142 1243l6 6m-6 0l6-6M1143 1143l5 5m-5 0l5-5M1143 1227l6 6m-6 0l6-6M1143 1165l6 6m-6 0l6-6M1144 1199l5 5m-5 0l5-5M1144 1242l5 5m-5 0l5-5M1145 1091l5 5m-5 0l5-5M1145 1238l6 6m-6 0l6-6M1145 1204l6 6m-6 0l6-6M1146 1230l6 6m-6 0l6-6M1146 1255l6 6m-6 0l6-6M1146 1193l6 6m-6 0l6-6M1147 1182l6 6m-6 0l6-6M1147 1243l6 6m-6 0l6-6M1148 1139l5 5m-5 0l5-5M1149 1086l5 5m-5 0l5-5M1149 1181l6 6m-6 0l6-6M1149 1099l6 6m-6 0l6-6M1150 1177l5 5m-5 0l5-5M1150 1046l5 5m-5 0l5-5M1150 1189l6 6m-6 0l6-6M1151 1103l5 5m-5 0l5-5M1151 1222l6 6m-6 0l6-6M1152 1213l6 6m-6 0l6-6M1153 1196l5 5m-5 0l5-5M1153 1158l5 5m-5 0l5-5M1153 1189l6 6m-6 0l6-6M1153 1210l6 6m-6 0l6-6M1154 1184l6 6m-6 0l6-6M1154 1222l6 6m-6 0l6-6M1155 1149l6 6m-6 0l6-6M1155 1182l6 6m-6 0l6-6M1156 1111l6 6m-6 0l6-6M1156 1202l6 6m-6 0l6-6M1157 1175l5 5m-5 0l5-5M1157 1206l6 6m-6 0l6-6M1157 1190l6 6m-6 0l6-6M1158 1212l5 5m-5 0l5-5M1158 1179l6 6m-6 0l6-6M1159 1173l6 6m-6 0l6-6M1159 1157l6 6m-6 0l6-6M1159 1142l6 6m-6 0l6-6M1160 1203l6 6m-6 0l6-6M1161 1101l5 5m-5 0l5-5M1161 1167l5 5m-5 0l5-5M1162 1128l5 5m-5 0l5-5M1162 1124l6 6m-6 0l6-6M1162 1199l6 6m-6 0l6-6M1162 1187l6 6m-6 0l6-6M1163 1142l6 6m-6 0l6-6M1164 1166l5 5m-5 0l5-5M1164 1162l6 6m-6 0l6-6M1164 1219l6 6m-6 0l6-6M1165 1130l6 6m-6 0l6-6M1166 1174l5 5m-5 0l5-5M1166 1108l5 5m-5 0l5-5M1166 1124l6 6m-6 0l6-6M1167 1232l5 5m-5 0l5-5M1167 1177l6 6m-6 0l6-6M1167 1264l6 6m-6 0l6-6M1168 1142l5 5m-5 0l5-5M1168 1255l6 6m-6 0l6-6M1168 1151l6 6m-6 0l6-6M1169 1137l6 6m-6 0l6-6M1169 1118l6 6m-6 0l6-6M1170 1148l6 6m-6 0l6-6M1171 1103l5 5m-5 0l5-5M1171 1164l6 6m-6 0l6-6M1171 1250l6 6m-6 0l6-6M1172 1097l6 6m-6 0l6-6M1172 1187l6 6m-6 0l6-6M1172 1272l6 6m-6 0l6-6M1173 1081l6 6m-6 0l6-6M1173 1077l6 6m-6 0l6-6M1174 1237l6 6m-6 0l6-6M1174 1179l6 6m-6 0l6-6M1175 1139l6 6m-6 0l6-6M1175 1166l6 6m-6 0l6-6M1175 1308l6 6m-6 0l6-6M1176 1144l6 6m-6 0l6-6M1177 1123l5 5m-5 0l5-5M1177 1191l5 5m-5 0l5-5M1177 1241l6 6m-6 0l6-6M1178 1209l5 5m-5 0l5-5M1178 1237l6 6m-6 0l6-6M1178 1279l6 6m-6 0l6-6M1179 1187l5 5m-5 0l5-5M1180 1193l5 5m-5 0l5-5M1180 1179l5 5m-5 0l5-5M1181 1147l5 5m-5 0l5-5M1181 1257l5 5m-5 0l5-5M1181 1242l6 6m-6 0l6-6M1182 1160l5 5m-5 0l5-5M1182 1187l5 5m-5 0l5-5M1183 1253l5 5m-5 0l5-5M1183 1163l5 5m-5 0l5-5M1183 1254l6 6m-6 0l6-6M1184 1269l6 6m-6 0l6-6M1184 1177l6 6m-6 0l6-6M1184 1101l6 6m-6 0l6-6M1185 1231l6 6m-6 0l6-6M1186 1230l5 5m-5 0l5-5M1186 1237l5 5m-5 0l5-5M1187 1182l5 5m-5 0l5-5M1187 1191l6 6m-6 0l6-6M1188 1134l5 5m-5 0l5-5M1188 1213l6 6m-6 0l6-6M1188 1153l5 5m-5 0l5-5M1188 1199l6 6m-6 0l6-6M1189 1116l5 5m-5 0l5-5M1190 1096l5 5m-5 0l5-5M1190 1227l6 6m-6 0l6-6M1190 1175l6 6m-6 0l6-6M1191 1182l6 6m-6 0l6-6M1191 1197l6 6m-6 0l6-6M1192 1287l5 5m-5 0l5-5M1192 1236l6 6m-6 0l6-6M1193 1141l5 5m-5 0l5-5M1193 1172l6 6m-6 0l6-6M1193 1188l6 6m-6 0l6-6M1194 1149l5 5m-5 0l5-5M1195 1200l5 5m-5 0l5-5M1194 1200l6 6m-6 0l6-6M1195 1220l6 6m-6 0l6-6M1195 1202l6 6m-6 0l6-6M1196 1189l6 6m-6 0l6-6M1196 1246l6 6m-6 0l6-6M1197 1190l5 5m-5 0l5-5M1197 1143l6 6m-6 0l6-6M1197 1321l6 6m-6 0l6-6M1198 1223l5 5m-5 0l5-5M1198 1226l6 6m-6 0l6-6M1199 1268l6 6m-6 0l6-6M1199 1189l6 6m-6 0l6-6M1200 1233l5 5m-5 0l5-5M1200 1293l6 6m-6 0l6-6M1201 1180l5 5m-5 0l5-5M1201 1185l6 6m-6 0l6-6M1202 1204l5 5m-5 0l5-5M1202 1198l6 6m-6 0l6-6M1203 1148l5 5m-5 0l5-5M1203 1204l6 6m-6 0l6-6M1204 1210l5 5m-5 0l5-5M1204 1129l6 6m-6 0l6-6M1204 1197l5 5m-5 0l5-5M1204 1171l6 6m-6 0l6-6M1205 1244l5 5m-5 0l5-5M1206 1232l5 5m-5 0l5-5M1206 1291l6 6m-6 0l6-6M1207 1240l5 5m-5 0l5-5M1207 1230l5 5m-5 0l5-5M1207 1260l6 6m-6 0l6-6M1207 1138l6 6m-6 0l6-6M1208 1141l5 5m-5 0l5-5M1209 1166l5 5m-5 0l5-5M1209 1216l6 6m-6 0l6-6M1210 1187l5 5m-5 0l5-5M1210 1235l5 5m-5 0l5-5M1210 1208l6 6m-6 0l6-6M1211 1246l5 5m-5 0l5-5M1211 1156l6 6m-6 0l6-6M1212 1211l5 5m-5 0l5-5M1212 1167l6 6m-6 0l6-6M1212 1170l6 6m-6 0l6-6M1213 1136l6 6m-6 0l6-6M1214 1209l5 5m-5 0l5-5M1214 1215l5 5m-5 0l5-5M1214 1213l6 6m-6 0l6-6M1214 1236l6 6m-6 0l6-6M1215 1166l6 6m-6 0l6-6M1215 1250l6 6m-6 0l6-6M1216 1255l5 5m-5 0l5-5M1217 1226l5 5m-5 0l5-5M1217 1219l5 5m-5 0l5-5M1217 1230l5 5m-5 0l5-5M1217 1228l6 6m-6 0l6-6M1218 1115l6 6m-6 0l6-6M1219 1228l5 5m-5 0l5-5M1219 1252l5 5m-5 0l5-5M1220 1233l5 5m-5 0l5-5M1220 1150l5 5m-5 0l5-5M1220 1138l5 5m-5 0l5-5M1221 1185l5 5m-5 0l5-5M1221 1006l5 5m-5 0l5-5M1221 1178l6 6m-6 0l6-6M1222 1120l6 6m-6 0l6-6M1222 1228l6 6m-6 0l6-6M1223 1186l6 6m-6 0l6-6M1223 1093l6 6m-6 0l6-6M1223 1195l6 6m-6 0l6-6M1224 1199l6 6m-6 0l6-6M1224 1126l6 6m-6 0l6-6M1225 1332l6 6m-6 0l6-6M1225 1171l6 6m-6 0l6-6M1226 1142l6 6m-6 0l6-6M1226 1262l6 6m-6 0l6-6M1227 1197l5 5m-5 0l5-5M1227 1266l6 6m-6 0l6-6M1227 1154l6 6m-6 0l6-6M1228 1146l6 6m-6 0l6-6M1229 1167l5 5m-5 0l5-5M1229 1188l5 5m-5 0l5-5M1230 1101l5 5m-5 0l5-5M1230 1131l5 5m-5 0l5-5M1230 1141l6 6m-6 0l6-6M1231 1192l5 5m-5 0l5-5M1231 1219l6 6m-6 0l6-6M1232 1211l5 5m-5 0l5-5M1232 1080l6 6m-6 0l6-6M1233 1210l5 5m-5 0l5-5M1232 1131l6 6m-6 0l6-6M1233 1153l6 6m-6 0l6-6M1233 1133l6 6m-6 0l6-6M1234 1207l5 5m-5 0l5-5M1234 1215l6 6m-6 0l6-6M1235 1257l6 6m-6 0l6-6M1235 1222l6 6m-6 0l6-6M1236 1188l6 6m-6 0l6-6M1236 1156l6 6m-6 0l6-6M1236 1226l6 6m-6 0l6-6M1237 1189l5 5m-5 0l5-5M1238 1175l5 5m-5 0l5-5M1238 1123l5 5m-5 0l5-5M1238 1222l6 6m-6 0l6-6M1239 1186l5 5m-5 0l5-5M1239 1173l5 5m-5 0l5-5M1239 1198l6 6m-6 0l6-6M1240 1135l6 6m-6 0l6-6M1240 1191l6 6m-6 0l6-6M1241 1207l5 5m-5 0l5-5M1242 1215l5 5m-5 0l5-5M1242 1197l5 5m-5 0l5-5M1242 1212l6 6m-6 0l6-6M1242 1141l6 6m-6 0l6-6M1243 1183l6 6m-6 0l6-6M1243 1187l6 6m-6 0l6-6M1244 1170l5 5m-5 0l5-5M1244 1236l6 6m-6 0l6-6M1245 1187l5 5m-5 0l5-5M1246 1165l5 5m-5 0l5-5M1246 1251l5 5m-5 0l5-5M1246 1123l6 6m-6 0l6-6M1246 1206l6 6m-6 0l6-6M1247 1210l5 5m-5 0l5-5M1248 1165l5 5m-5 0l5-5M1248 1246l5 5m-5 0l5-5M1248 1170l6 6m-6 0l6-6M1249 1167l5 5m-5 0l5-5M1249 1195l5 5m-5 0l5-5M1249 1104l6 6m-6 0l6-6M1250 1162l5 5m-5 0l5-5M1250 1250l6 6m-6 0l6-6M1251 1255l6 6m-6 0l6-6M1251 1213l6 6m-6 0l6-6M1252 1134l5 5m-5 0l5-5M1252 1250l5 5m-5 0l5-5M1252 1238l6 6m-6 0l6-6M1253 1154l6 6m-6 0l6-6M1253 1253l6 6m-6 0l6-6M1254 1199l6 6m-6 0l6-6M1255 1179l5 5m-5 0l5-5M1255 1251l6 6m-6 0l6-6M1255 1227l6 6m-6 0l6-6M1255 1205l6 6m-6 0l6-6M1256 1164l6 6m-6 0l6-6M1257 1212l5 5m-5 0l5-5M1257 1118l6 6m-6 0l6-6M1257 1141l6 6m-6 0l6-6M1258 1214l5 5m-5 0l5-5M1258 1272l6 6m-6 0l6-6M1258 1122l6 6m-6 0l6-6M1259 1202l5 5m-5 0l5-5M1260 1247l5 5m-5 0l5-5M1260 1200l6 6m-6 0l6-6M1260 1275l6 6m-6 0l6-6M1261 1189l5 5m-5 0l5-5M1261 1157l6 6m-6 0l6-6M1261 1160l6 6m-6 0l6-6M1262 1202l6 6m-6 0l6-6M1263 1135l5 5m-5 0l5-5M1263 1212l6 6m-6 0l6-6M1264 1180l5 5m-5 0l5-5M1264 1138l6 6m-6 0l6-6M1265 1199l5 5m-5 0l5-5M1265 1180l5 5m-5 0l5-5M1265 1072l6 6m-6 0l6-6M1265 1113l6 6m-6 0l6-6M1266 1202l5 5m-5 0l5-5M1267 1252l5 5m-5 0l5-5M1267 1133l5 5m-5 0l5-5M1267 1200l6 6m-6 0l6-6M1268 1074l6 6m-6 0l6-6M1268 1098l5 5m-5 0l5-5M1269 1159l5 5m-5 0l5-5M1269 1151l5 5m-5 0l5-5M1308 1123l6 6m-6 0l6-6M1309 1211l5 5m-5 0l5-5M1310 1244l5 5m-5 0l5-5M1309 1185l6 6m-6 0l6-6M1310 1225l6 6m-6 0l6-6M1310 1245l6 6m-6 0l6-6M1311 1233l5 5m-5 0l5-5M1311 1190l6 6m-6 0l6-6M1312 1218l5 5m-5 0l5-5M1313 1177l5 5m-5 0l5-5M1313 1158l5 5m-5 0l5-5M1313 1142l6 6m-6 0l6-6M1313 1188l6 6m-6 0l6-6M1314 1219l5 5m-5 0l5-5M1315 1163l5 5m-5 0l5-5M1315 1161l5 5m-5 0l5-5M1315 1273l6 6m-6 0l6-6M1316 1265l6 6m-6 0l6-6M1316 1183l5 5m-5 0l5-5M1316 1322l6 6m-6 0l6-6M1317 1252l6 6m-6 0l6-6M1317 1196l6 6m-6 0l6-6M1318 1142l5 5m-5 0l5-5M1318 1245l6 6m-6 0l6-6M1319 1183l5 5m-5 0l5-5M1319 1189l5 5m-5 0l5-5M1320 1314l5 5m-5 0l5-5M1320 1153l6 6m-6 0l6-6M1321 1234l5 5m-5 0l5-5M1321 1121l5 5m-5 0l5-5M1322 1160l5 5m-5 0l5-5M1322 1086l5 5m-5 0l5-5M1322 1215l5 5m-5 0l5-5M1323 1095l5 5m-5 0l5-5M1323 1234l5 5m-5 0l5-5M1323 1013l6 6m-6 0l6-6M1324 1125l6 6m-6 0l6-6M1324 1194l6 6m-6 0l6-6M1325 1206l5 5m-5 0l5-5M1325 1158l6 6m-6 0l6-6M1325 1189l6 6m-6 0l6-6M1326 1133l5 5m-5 0l5-5M1327 1220l5 5m-5 0l5-5M1327 1182l5 5m-5 0l5-5M1327 1194l6 6m-6 0l6-6M1328 1119l6 6m-6 0l6-6M1328 1147l6 6m-6 0l6-6M1328 1100l6 6m-6 0l6-6M1329 1233l6 6m-6 0l6-6M1329 1176l6 6m-6 0l6-6M1330 1164l6 6m-6 0l6-6M1330 1193l6 6m-6 0l6-6M1331 1066l5 5m-5 0l5-5M1331 1186l6 6m-6 0l6-6M1332 1085l6 6m-6 0l6-6M1332 1191l6 6m-6 0l6-6M1332 1161l6 6m-6 0l6-6M1333 1214l6 6m-6 0l6-6M1334 1190l5 5m-5 0l5-5M1334 1116l6 6m-6 0l6-6M1335 1260l5 5m-5 0l5-5M1335 1188l6 6m-6 0l6-6M1335 1201l6 6m-6 0l6-6M1336 1233l5 5m-5 0l5-5M1336 1147l6 6m-6 0l6-6M1336 1101l6 6m-6 0l6-6M1337 1191l5 5m-5 0l5-5M1338 1213l5 5m-5 0l5-5M1338 1115l5 5m-5 0l5-5M1338 1175l6 6m-6 0l6-6M1338 1209l6 6m-6 0l6-6M1339 1173l5 5m-5 0l5-5M1340 1319l5 5m-5 0l5-5M1340 1207l6 6m-6 0l6-6M1340 1185l6 6m-6 0l6-6M1341 1211l6 6m-6 0l6-6M1342 1049l5 5m-5 0l5-5M1341 1196l6 6m-6 0l6-6M1342 1246l5 5m-5 0l5-5M1342 1198l6 6m-6 0l6-6M1343 1204l5 5m-5 0l5-5M1344 1133l5 5m-5 0l5-5M1344 1181l6 6m-6 0l6-6M1344 1135l6 6m-6 0l6-6M1345 1187l5 5m-5 0l5-5M1345 1230l6 6m-6 0l6-6M1345 1174l6 6m-6 0l6-6M1346 1244l5 5m-5 0l5-5M1347 1188l5 5m-5 0l5-5M1347 1120l6 6m-6 0l6-6M1347 1117l6 6m-6 0l6-6M1348 1240l6 6m-6 0l6-6M1348 1091l6 6m-6 0l6-6M1348 1150l6 6m-6 0l6-6M1349 1153l5 5m-5 0l5-5M1349 1166l6 6m-6 0l6-6M1350 1227l6 6m-6 0l6-6M1350 1211l6 6m-6 0l6-6M1351 1216l6 6m-6 0l6-6M1351 1287l6 6m-6 0l6-6M1351 1223l6 6m-6 0l6-6M1352 1261l6 6m-6 0l6-6M1353 1148l5 5m-5 0l5-5M1353 1161l5 5m-5 0l5-5M1354 1217l5 5m-5 0l5-5M1354 1224l6 6m-6 0l6-6M1354 1151l6 6m-6 0l6-6M1355 1195l5 5m-5 0l5-5M1355 1171l6 6m-6 0l6-6M1355 1186l6 6m-6 0l6-6M1356 1176l6 6m-6 0l6-6M1357 1074l5 5m-5 0l5-5M1357 1145l6 6m-6 0l6-6M1357 1188l6 6m-6 0l6-6M1357 1200l6 6m-6 0l6-6M1358 1077l5 5m-5 0l5-5M1359 1149l5 5m-5 0l5-5M1359 1147l5 5m-5 0l5-5M1360 1149l5 5m-5 0l5-5M1360 1134l6 6m-6 0l6-6M1360 1226l6 6m-6 0l6-6M1360 1188l6 6m-6 0l6-6M1361 1137l6 6m-6 0l6-6M1361 1117l6 6m-6 0l6-6M1362 1136l6 6m-6 0l6-6M1362 1190l6 6m-6 0l6-6M1363 1045l6 6m-6 0l6-6M1364 1154l5 5m-5 0l5-5M1364 1132l5 5m-5 0l5-5M1364 1079l5 5m-5 0l5-5M1364 1219l6 6m-6 0l6-6M1365 1065l6 6m-6 0l6-6M1365 1062l6 6m-6 0l6-6M1366 1171l5 5m-5 0l5-5M1366 1078l6 6m-6 0l6-6M1367 1165l6 6m-6 0l6-6M1367 1133l6 6m-6 0l6-6M1368 1111l5 5m-5 0l5-5M1368 1039l6 6m-6 0l6-6M1368 1034l6 6m-6 0l6-6M1369 1076l6 6m-6 0l6-6M1370 1224l5 5m-5 0l5-5M1370 1170l6 6m-6 0l6-6M1370 1181l5 5m-5 0l5-5M1370 1145l6 6m-6 0l6-6M1371 1148l6 6m-6 0l6-6M1372 1144l5 5m-5 0l5-5M1372 1163l6 6m-6 0l6-6M1372 1194l6 6m-6 0l6-6M1373 1046l6 6m-6 0l6-6M1373 1223l6 6m-6 0l6-6M1374 1187l5 5m-5 0l5-5M1374 1207l5 5m-5 0l5-5M1374 1263l6 6m-6 0l6-6M1375 1280l5 5m-5 0l5-5M1376 1211l5 5m-5 0l5-5M1376 1166l6 6m-6 0l6-6M1376 1170l6 6m-6 0l6-6M1376 1225l6 6m-6 0l6-6M1377 1172l5 5m-5 0l5-5M1378 1096l5 5m-5 0l5-5M1378 1200l6 6m-6 0l6-6M1379 1264l5 5m-5 0l5-5M1379 1197l5 5m-5 0l5-5M1379 1257l6 6m-6 0l6-6M1380 1210l5 5m-5 0l5-5M1380 1257l6 6m-6 0l6-6M1380 1183l6 6m-6 0l6-6M1381 1184l6 6m-6 0l6-6M1382 1195l5 5m-5 0l5-5M1382 1272l6 6m-6 0l6-6M1383 1126l5 5m-5 0l5-5M1383 1194l6 6m-6 0l6-6M1383 1195l6 6m-6 0l6-6M1383 1200l6 6m-6 0l6-6M1384 1192l5 5m-5 0l5-5M1385 1124l5 5m-5 0l5-5M1385 1183l5 5m-5 0l5-5M1385 1263l6 6m-6 0l6-6M1386 1260l5 5m-5 0l5-5M1386 1233l6 6m-6 0l6-6M1386 1215l6 6m-6 0l6-6M1387 1251l6 6m-6 0l6-6M1388 1170l5 5m-5 0l5-5M1388 1231l6 6m-6 0l6-6M1388 1267l6 6m-6 0l6-6M1389 1169l6 6m-6 0l6-6M1389 1216l6 6m-6 0l6-6M1389 1260l6 6m-6 0l6-6M1390 1210l6 6m-6 0l6-6M1390 1126l6 6m-6 0l6-6M1391 1221l6 6m-6 0l6-6M1392 1180l5 5m-5 0l5-5M1392 1232l5 5m-5 0l5-5M1393 1170l5 5m-5 0l5-5M1392 1118l6 6m-6 0l6-6M1393 1178l5 5m-5 0l5-5M1394 1253l5 5m-5 0l5-5M1394 1130l5 5m-5 0l5-5M1394 1269l6 6m-6 0l6-6M1395 1276l6 6m-6 0l6-6M1396 1177l5 5m-5 0l5-5M1396 1207l5 5m-5 0l5-5M1396 1177l6 6m-6 0l6-6M1397 1249l5 5m-5 0l5-5M1397 1193l6 6m-6 0l6-6M1398 1200l5 5m-5 0l5-5M1398 1200l5 5m-5 0l5-5M1399 1221l5 5m-5 0l5-5M1399 1204l6 6m-6 0l6-6M1399 1271l5 5m-5 0l5-5M1400 1240l5 5m-5 0l5-5M1400 1115l6 6m-6 0l6-6M1401 1188l5 5m-5 0l5-5M1401 1195l6 6m-6 0l6-6M1401 1153l6 6m-6 0l6-6M1402 1181l6 6m-6 0l6-6M1402 1171l6 6m-6 0l6-6M1403 1222l5 5m-5 0l5-5M1403 1223l6 6m-6 0l6-6M1404 1257l5 5m-5 0l5-5M1404 1182l5 5m-5 0l5-5M1404 1194l6 6m-6 0l6-6M1405 1142l5 5m-5 0l5-5M1406 1198l5 5m-5 0l5-5M1406 1118l5 5m-5 0l5-5M1406 1214l6 6m-6 0l6-6M1406 1165l6 6m-6 0l6-6M1407 1110l6 6m-6 0l6-6M1407 1156l6 6m-6 0l6-6M1408 1179l6 6m-6 0l6-6M1409 1268l5 5m-5 0l5-5M1409 1166l5 5m-5 0l5-5M1409 1090l6 6m-6 0l6-6M1409 1107l6 6m-6 0l6-6M1410 1239l6 6m-6 0l6-6M1411 1173l5 5m-5 0l5-5M1411 1235l5 5m-5 0l5-5M1412 1108l5 5m-5 0l5-5M1412 1183l5 5m-5 0l5-5M1412 1217l5 5m-5 0l5-5M1412 1252l6 6m-6 0l6-6M1413 1265l5 5m-5 0l5-5M1414 1194l5 5m-5 0l5-5M1414 1201l6 6m-6 0l6-6M1414 1183l6 6m-6 0l6-6M1415 1236l6 6m-6 0l6-6M1415 1235l5 5m-5 0l5-5M1416 1116l5 5m-5 0l5-5M1416 1215l6 6m-6 0l6-6M1416 1256l6 6m-6 0l6-6M1417 1225l6 6m-6 0l6-6M1417 1249l6 6m-6 0l6-6M1418 1189l6 6m-6 0l6-6M1418 1178l5 5m-5 0l5-5M1419 1237l5 5m-5 0l5-5M1419 1188l6 6m-6 0l6-6M1420 1204l5 5m-5 0l5-5" stroke="#000" stroke-width="1" fill="none" shape-rendering="crispEdges"/>
<rect x="162.5" y="953.5" width="1260.0" height="450.0" fill="none" stroke="#000" stroke-width="1" shape-rendering="crispEdges"/>
<text transform="translate(136.5,1387.5) scale(1,1.035)" font-size="30" text-anchor="end"><tspan dy="2.8">−</tspan><tspan dy="-2.8">​</tspan>2.0</text>
<text transform="translate(136.5,1340.5) scale(1,1.035)" font-size="30" text-anchor="end"><tspan dy="2.8">−</tspan><tspan dy="-2.8">​</tspan>1.5</text>
<text transform="translate(136.5,1293.5) scale(1,1.035)" font-size="30" text-anchor="end"><tspan dy="2.8">−</tspan><tspan dy="-2.8">​</tspan>1.0</text>
<text transform="translate(136.5,1246.5) scale(1,1.035)" font-size="30" text-anchor="end"><tspan dy="2.8">−</tspan><tspan dy="-2.8">​</tspan>0.5</text>
<text transform="translate(136.5,1199.5) scale(1,1.035)" font-size="30" text-anchor="end">0.0</text>
<text transform="translate(136.5,1152.5) scale(1,1.035)" font-size="30" text-anchor="end">0.5</text>
<text transform="translate(136.5,1105.5) scale(1,1.035)" font-size="30" text-anchor="end">1.0</text>
<text transform="translate(136.5,1058.5) scale(1,1.035)" font-size="30" text-anchor="end">1.5</text>
<text transform="translate(136.5,1011.5) scale(1,1.035)" font-size="30" text-anchor="end">2.0</text>
<path d="M162 954.0v-8M162 1403.0v7M199 954.0v-8M199 1403.0v7M236 954.0v-8M236 1403.0v7M273 954.0v-15M273 1403.0v14M310 954.0v-8M310 1403.0v7M347 954.0v-8M347 1403.0v7M384 954.0v-8M384 1403.0v7M421 954.0v-8M421 1403.0v7M458 954.0v-15M458 1403.0v14M496 954.0v-8M496 1403.0v7M533 954.0v-8M533 1403.0v7M570 954.0v-8M570 1403.0v7M607 954.0v-8M607 1403.0v7M644 954.0v-15M644 1403.0v14M681 954.0v-8M681 1403.0v7M718 954.0v-8M718 1403.0v7M755 954.0v-8M755 1403.0v7M792 954.0v-8M792 1403.0v7M829 954.0v-15M829 1403.0v14M866 954.0v-8M866 1403.0v7M903 954.0v-8M903 1403.0v7M940 954.0v-8M940 1403.0v7M977 954.0v-8M977 1403.0v7M1014 954.0v-15M1014 1403.0v14M1051 954.0v-8M1051 1403.0v7M1088 954.0v-8M1088 1403.0v7M1126 954.0v-8M1126 1403.0v7M1163 954.0v-8M1163 1403.0v7M1200 954.0v-15M1200 1403.0v14M1237 954.0v-8M1237 1403.0v7M1274 954.0v-8M1274 1403.0v7M1311 954.0v-8M1311 1403.0v7M1348 954.0v-8M1348 1403.0v7M1385 954.0v-15M1385 1403.0v14M1422 954.0v-8M1422 1403.0v7M163.0 1376h-15M1422.0 1376h14M163.0 1329h-15M1422.0 1329h14M163.0 1282h-15M1422.0 1282h14M163.0 1235h-15M1422.0 1235h14M163.0 1188h-15M1422.0 1188h14M163.0 1141h-15M1422.0 1141h14M163.0 1094h-15M1422.0 1094h14M163.0 1047h-15M1422.0 1047h14M163.0 1000h-15M1422.0 1000h14" stroke="#000" stroke-width="2" fill="none" shape-rendering="crispEdges"/>
<text transform="translate(272.5,1449.7) scale(1,1.035)" font-size="30" text-anchor="middle">61070</text>
<text transform="translate(457.8,1449.7) scale(1,1.035)" font-size="30" text-anchor="middle">61075</text>
<text transform="translate(643.1,1449.7) scale(1,1.035)" font-size="30" text-anchor="middle">61080</text>
<text transform="translate(828.4,1449.7) scale(1,1.035)" font-size="30" text-anchor="middle">61085</text>
<text transform="translate(1013.7,1449.7) scale(1,1.035)" font-size="30" text-anchor="middle">61090</text>
<text transform="translate(1198.9,1449.7) scale(1,1.035)" font-size="30" text-anchor="middle">61095</text>
<text transform="translate(1384.2,1449.7) scale(1,1.035)" font-size="30" text-anchor="middle">61100</text>
<text x="792.5" y="1480.7" font-size="30" font-weight="bold" text-anchor="middle">Modified Julian Date</text>
<text transform="translate(68.2,1178) rotate(-90)" font-size="30" font-weight="bold" text-anchor="middle">residuals (ns)</text>
<text x="199.5" y="1380.5" font-size="25" font-weight="bold" xml:space="preserve" style="white-space:pre">Max Smoothing Residual: -1.995_Vdk1.D5  Sigma= 0.584ns15/34_03/05/26Mn___-295.999</text>
<rect x="169.5" y="1511.5" width="540.0" height="450.0" fill="none" stroke="#000" stroke-width="1" shape-rendering="crispEdges"/>
<text transform="translate(143,1577.9) scale(1,1.035)" font-size="30" text-anchor="end"><tspan dy="2.8">−</tspan><tspan dy="-2.8">​</tspan>12</text>
<text transform="translate(143,1690.9) scale(1,1.035)" font-size="30" text-anchor="end"><tspan dy="2.8">−</tspan><tspan dy="-2.8">​</tspan>13</text>
<text transform="translate(143,1802.9) scale(1,1.035)" font-size="30" text-anchor="end"><tspan dy="2.8">−</tspan><tspan dy="-2.8">​</tspan>14</text>
<text transform="translate(143,1915.9) scale(1,1.035)" font-size="30" text-anchor="end"><tspan dy="2.8">−</tspan><tspan dy="-2.8">​</tspan>15</text>
<path d="M169 1512.0v-15M169 1961.0v14M259 1512.0v-8M259 1961.0v7M349 1512.0v-15M349 1961.0v14M439 1512.0v-8M439 1961.0v7M529 1512.0v-15M529 1961.0v14M619 1512.0v-8M619 1961.0v7M709 1512.0v-15M709 1961.0v14M170.0 1511h-7M709.0 1511h7M170.0 1567h-14M709.0 1567h14M170.0 1624h-7M709.0 1624h7M170.0 1680h-14M709.0 1680h14M170.0 1736h-7M709.0 1736h7M170.0 1792h-14M709.0 1792h14M170.0 1848h-7M709.0 1848h7M170.0 1905h-14M709.0 1905h14M170.0 1961h-7M709.0 1961h7" stroke="#000" stroke-width="2" fill="none" shape-rendering="crispEdges"/>
<text transform="translate(169.5,2008) scale(1,1.035)" font-size="30" text-anchor="middle">3</text>
<text transform="translate(349.5,2008) scale(1,1.035)" font-size="30" text-anchor="middle">4</text>
<text transform="translate(529.5,2008) scale(1,1.035)" font-size="30" text-anchor="middle">5</text>
<text transform="translate(709.5,2008) scale(1,1.035)" font-size="30" text-anchor="middle">6</text>
<text x="439.5" y="2038.9" font-size="30" font-weight="bold" text-anchor="middle">Averaging time, log(<tspan font-family="'Liberation Serif', 'DejaVu Serif', serif" font-weight="normal">τ</tspan>) (s)</text>
<text transform="translate(83,1956) rotate(-90)" font-size="30" font-weight="bold">Modified Allan Deviation (10<tspan font-size="21" dy="-11.5">-15</tspan><tspan dy="11.5">)</tspan></text>
<text x="214" y="1545.5" font-size="17.5" font-weight="bold"><tspan font-family="'Liberation Serif', 'DejaVu Serif', serif" font-weight="normal">τ</tspan> = 1008s</text>
<g clip-path="url(#c3)" shape-rendering="crispEdges">
<circle cx="170.1" cy="1585.2" r="5.9"/>
<text x="170.1" y="1574.2" font-size="19.7" font-weight="bold" fill="#f00" text-anchor="middle">699.6</text>
<circle cx="224.3" cy="1631.7" r="5.9"/>
<text x="224.3" y="1620.7" font-size="19.7" font-weight="bold" fill="#f00" text-anchor="middle">269.9</text>
<circle cx="278.5" cy="1666.0" r="5.9"/>
<text x="278.5" y="1655.0" font-size="19.7" font-weight="bold" fill="#f00" text-anchor="middle">133.9</text>
<circle cx="332.7" cy="1701.4" r="5.9"/>
<text x="332.7" y="1690.4" font-size="19.7" font-weight="bold" fill="#f00" text-anchor="middle">64.9</text>
<circle cx="386.9" cy="1723.7" r="5.9"/>
<text x="386.9" y="1712.7" font-size="19.7" font-weight="bold" fill="#f00" text-anchor="middle">41.1</text>
<circle cx="441.0" cy="1744.0" r="5.9"/>
<text x="441.0" y="1733.0" font-size="19.7" font-weight="bold" fill="#f00" text-anchor="middle">27.1</text>
<circle cx="495.2" cy="1758.6" r="5.9"/>
<text x="495.2" y="1747.6" font-size="19.7" font-weight="bold" fill="#f00" text-anchor="middle">20.1</text>
<circle cx="549.4" cy="1770.7" r="5.9"/>
<text x="549.4" y="1759.7" font-size="19.7" font-weight="bold" fill="#f00" text-anchor="middle">15.7</text>
<circle cx="603.6" cy="1788.5" r="5.9"/>
<text x="603.6" y="1777.5" font-size="19.7" font-weight="bold" fill="#f00" text-anchor="middle">10.9</text>
<circle cx="657.8" cy="1815.3" r="5.9"/>
<text x="657.8" y="1804.3" font-size="19.7" font-weight="bold" fill="#f00" text-anchor="middle">6.3</text>
<circle cx="215.4" cy="1961.5" r="4.3"/>
<text x="214.4" y="1950" font-size="19.5" font-weight="bold" fill="#f00" text-anchor="middle">h/2</text>
<circle cx="269.6" cy="1961.5" r="4.3"/>
<text x="268.6" y="1950" font-size="19.5" font-weight="bold" fill="#f00" text-anchor="middle">h</text>
<circle cx="355.5" cy="1961.5" r="4.3"/>
<text x="354.5" y="1950" font-size="19.5" font-weight="bold" fill="#f00" text-anchor="middle">d/8</text>
<circle cx="409.7" cy="1961.5" r="4.3"/>
<text x="408.7" y="1950" font-size="19.5" font-weight="bold" fill="#f00" text-anchor="middle">d/4</text>
<circle cx="463.9" cy="1961.5" r="4.3"/>
<text x="462.9" y="1950" font-size="19.5" font-weight="bold" fill="#f00" text-anchor="middle">d/2</text>
<circle cx="518.1" cy="1961.5" r="4.3"/>
<text x="517.1" y="1950" font-size="19.5" font-weight="bold" fill="#f00" text-anchor="middle">day</text>
<circle cx="604.0" cy="1961.5" r="4.3"/>
<text x="603.0" y="1950" font-size="19.5" font-weight="bold" fill="#f00" text-anchor="middle">ddd</text>
<circle cx="670.2" cy="1961.5" r="4.3"/>
<text x="669.2" y="1950" font-size="19.5" font-weight="bold" fill="#f00" text-anchor="middle">wk</text>
</g>
<rect x="853.5" y="1511.5" width="540.0" height="450.0" fill="none" stroke="#000" stroke-width="1" shape-rendering="crispEdges"/>
<text transform="translate(827.5,1611.9) scale(1,1.035)" font-size="30" text-anchor="end"><tspan dy="2.8">−</tspan><tspan dy="-2.8">​</tspan>8</text>
<text transform="translate(827.5,1791.9) scale(1,1.035)" font-size="30" text-anchor="end"><tspan dy="2.8">−</tspan><tspan dy="-2.8">​</tspan>9</text>
<text transform="translate(827.5,1971.9) scale(1,1.035)" font-size="30" text-anchor="end"><tspan dy="2.8">−</tspan><tspan dy="-2.8">​</tspan>10</text>
<path d="M895 1512.0v-15M895 1961.0v14M978 1512.0v-8M978 1961.0v7M1061 1512.0v-15M1061 1961.0v14M1144 1512.0v-8M1144 1961.0v7M1227 1512.0v-15M1227 1961.0v14M1310 1512.0v-8M1310 1961.0v7M1393 1512.0v-15M1393 1961.0v14M854.0 1511h-7M1393.0 1511h7M854.0 1601h-14M1393.0 1601h14M854.0 1691h-7M1393.0 1691h7M854.0 1781h-14M1393.0 1781h14M854.0 1871h-7M1393.0 1871h7M854.0 1961h-14M1393.0 1961h14" stroke="#000" stroke-width="2" fill="none" shape-rendering="crispEdges"/>
<text transform="translate(895.0,2008) scale(1,1.035)" font-size="30" text-anchor="middle">3</text>
<text transform="translate(1061.2,2008) scale(1,1.035)" font-size="30" text-anchor="middle">4</text>
<text transform="translate(1227.3,2008) scale(1,1.035)" font-size="30" text-anchor="middle">5</text>
<text transform="translate(1393.5,2008) scale(1,1.035)" font-size="30" text-anchor="middle">6</text>
<text x="1123.5" y="2038.9" font-size="30" font-weight="bold" text-anchor="middle">Averaging time, log(<tspan font-family="'Liberation Serif', 'DejaVu Serif', serif" font-weight="normal">τ</tspan>) (s)</text>
<text transform="translate(767,1736) rotate(-90)" font-size="30" font-weight="bold" text-anchor="middle">Time deviation (10<tspan font-size="21" dy="-11.5">-10</tspan><tspan dy="11.5"> s)</tspan></text>
<g clip-path="url(#c4)" shape-rendering="crispEdges">
<circle cx="895.6" cy="1852.1" r="5.9"/>
<text x="895.6" y="1834.1" font-size="18.2" font-weight="bold" fill="#f00" text-anchor="middle">4.0</text>
<circle cx="945.6" cy="1870.9" r="5.9"/>
<text x="945.6" y="1852.9" font-size="18.2" font-weight="bold" fill="#f00" text-anchor="middle">3.1</text>
<circle cx="995.6" cy="1871.9" r="5.9"/>
<text x="995.6" y="1853.9" font-size="18.2" font-weight="bold" fill="#f00" text-anchor="middle">3.1</text>
<circle cx="1045.7" cy="1874.2" r="5.9"/>
<text x="1045.7" y="1856.2" font-size="18.2" font-weight="bold" fill="#f00" text-anchor="middle">3.0</text>
<circle cx="1095.7" cy="1855.4" r="5.9"/>
<text x="1095.7" y="1837.4" font-size="18.2" font-weight="bold" fill="#f00" text-anchor="middle">3.8</text>
<circle cx="1145.7" cy="1834.2" r="5.9"/>
<text x="1145.7" y="1816.2" font-size="18.2" font-weight="bold" fill="#f00" text-anchor="middle">5.0</text>
<circle cx="1195.7" cy="1803.7" r="5.9"/>
<text x="1195.7" y="1785.7" font-size="18.2" font-weight="bold" fill="#f00" text-anchor="middle">7.5</text>
<circle cx="1245.7" cy="1768.4" r="5.9"/>
<text x="1245.7" y="1750.4" font-size="18.2" font-weight="bold" fill="#f00" text-anchor="middle">11.7</text>
<circle cx="1295.8" cy="1742.5" r="5.9"/>
<text x="1295.8" y="1724.5" font-size="18.2" font-weight="bold" fill="#f00" text-anchor="middle">16.3</text>
<circle cx="1345.8" cy="1731.7" r="5.9"/>
<text x="1345.8" y="1713.7" font-size="18.2" font-weight="bold" fill="#f00" text-anchor="middle">18.8</text>
<circle cx="937.5" cy="1959.3" r="5.9"/>
<text x="937.5" y="1943" font-size="20" font-weight="bold" fill="#f00" text-anchor="middle">h/2</text>
<circle cx="987.5" cy="1959.3" r="5.9"/>
<text x="987.5" y="1943" font-size="20" font-weight="bold" fill="#f00" text-anchor="middle">h</text>
<circle cx="1066.7" cy="1959.3" r="5.9"/>
<text x="1066.7" y="1943" font-size="20" font-weight="bold" fill="#f00" text-anchor="middle">d/8</text>
<circle cx="1116.8" cy="1959.3" r="5.9"/>
<text x="1116.8" y="1943" font-size="20" font-weight="bold" fill="#f00" text-anchor="middle">d/4</text>
<circle cx="1166.8" cy="1959.3" r="5.9"/>
<text x="1166.8" y="1943" font-size="20" font-weight="bold" fill="#f00" text-anchor="middle">d/2</text>
<circle cx="1216.8" cy="1959.3" r="5.9"/>
<text x="1216.8" y="1943" font-size="20" font-weight="bold" fill="#f00" text-anchor="middle">day</text>
<circle cx="1296.1" cy="1959.3" r="5.9"/>
<text x="1296.1" y="1943" font-size="20" font-weight="bold" fill="#f00" text-anchor="middle">ddd</text>
<circle cx="1357.2" cy="1959.3" r="5.9"/>
<text x="1357.2" y="1943" font-size="20" font-weight="bold" fill="#f00" text-anchor="middle">wk</text>
</g>
</svg>
</body></html>
